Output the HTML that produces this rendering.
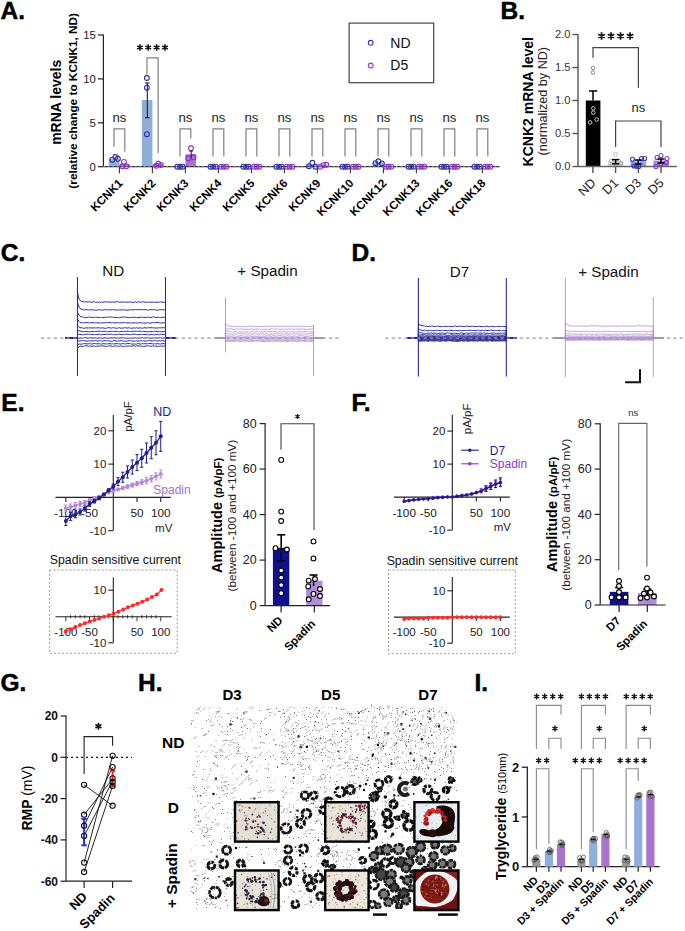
<!DOCTYPE html>
<html><head><meta charset="utf-8"><style>
html,body{margin:0;padding:0;background:#fff;overflow:hidden;}
svg{display:block;font-family:"Liberation Sans", sans-serif;}
</style></head><body>
<svg width="685" height="931" viewBox="0 0 685 931">
<rect width="685" height="931" fill="#fff"/>
<text x="0.50" y="18.80" font-size="24.5" font-weight="bold" text-anchor="start" fill="#000" stroke="#000" stroke-width="0.5">A.</text>
<line x1="103.40" y1="34.50" x2="103.40" y2="166.70" stroke="#222" stroke-width="1.2"/>
<line x1="97.90" y1="166.70" x2="103.40" y2="166.70" stroke="#222" stroke-width="1.2"/>
<text x="95.90" y="170.70" font-size="11.3" text-anchor="end" fill="#222">0</text>
<line x1="97.90" y1="122.80" x2="103.40" y2="122.80" stroke="#222" stroke-width="1.2"/>
<text x="95.90" y="126.80" font-size="11.3" text-anchor="end" fill="#222">5</text>
<line x1="97.90" y1="78.90" x2="103.40" y2="78.90" stroke="#222" stroke-width="1.2"/>
<text x="95.90" y="82.90" font-size="11.3" text-anchor="end" fill="#222">10</text>
<line x1="97.90" y1="35.00" x2="103.40" y2="35.00" stroke="#222" stroke-width="1.2"/>
<text x="95.90" y="39.00" font-size="11.3" text-anchor="end" fill="#222">15</text>
<text x="61.40" y="102.30" font-size="14" font-weight="bold" text-anchor="middle" fill="#000" transform="rotate(-90 61.40 102.30)">mRNA levels</text>
<text x="76.70" y="100.80" font-size="11.8" font-weight="bold" text-anchor="middle" fill="#000" transform="rotate(-90 76.70 100.80)">(relative change to KCNK1, ND)</text>
<rect x="349.10" y="23.10" width="84.60" height="59.60" fill="none" stroke="#444" stroke-width="1.2"/>
<circle cx="370.70" cy="42.80" r="2.4" stroke="#3636b0" fill="none" stroke-width="1.1"/>
<circle cx="370.70" cy="65.50" r="2.4" stroke="#9a3ccc" fill="none" stroke-width="1.1"/>
<text x="390.30" y="47.70" font-size="14" text-anchor="start" fill="#111">ND</text>
<text x="390.30" y="70.40" font-size="14" text-anchor="start" fill="#111">D5</text>
<rect x="108.80" y="158.80" width="10.60" height="7.90" fill="#8eb0d8"/>
<rect x="119.40" y="164.50" width="10.60" height="2.19" fill="#a774cc"/>
<rect x="141.80" y="99.97" width="10.60" height="66.73" fill="#8eb0d8"/>
<rect x="152.40" y="164.07" width="10.60" height="2.63" fill="#a774cc"/>
<rect x="185.40" y="154.23" width="10.60" height="12.47" fill="#a774cc"/>
<rect x="306.80" y="164.94" width="10.60" height="1.76" fill="#8eb0d8"/>
<rect x="317.40" y="165.38" width="10.60" height="1.32" fill="#a774cc"/>
<rect x="372.80" y="162.31" width="10.60" height="4.39" fill="#8eb0d8"/>
<line x1="103.40" y1="166.70" x2="499.60" y2="166.70" stroke="#333" stroke-width="1.3"/>
<line x1="103.40" y1="166.70" x2="499.60" y2="166.70" stroke="#bbb" stroke-width="0.8" stroke-dasharray="1.5,3"/>
<line x1="119.40" y1="166.70" x2="119.40" y2="173.20" stroke="#333" stroke-width="1.1"/>
<text x="123.40" y="184.00" font-size="11.6" font-weight="bold" text-anchor="end" fill="#000" transform="rotate(-45 123.40 184.00)">KCNK1</text>
<circle cx="112.40" cy="159.68" r="2.4" stroke="#3030a8" fill="none" stroke-width="1.1"/>
<circle cx="115.40" cy="157.04" r="2.4" stroke="#3030a8" fill="none" stroke-width="1.1"/>
<circle cx="117.90" cy="158.80" r="2.4" stroke="#3030a8" fill="none" stroke-width="1.1"/>
<circle cx="122.40" cy="166.26" r="2.4" stroke="#9030c8" fill="none" stroke-width="1.1"/>
<circle cx="123.90" cy="161.87" r="2.4" stroke="#9030c8" fill="none" stroke-width="1.1"/>
<circle cx="126.40" cy="166.26" r="2.4" stroke="#9030c8" fill="none" stroke-width="1.1"/>
<polyline points="114.00,146.70 114.00,128.90 124.80,128.90 124.80,151.80" stroke="#808080" stroke-width="1.2" fill="none"/>
<text x="119.40" y="121.80" font-size="13.2" text-anchor="middle" fill="#222">ns</text>
<line x1="152.40" y1="166.70" x2="152.40" y2="173.20" stroke="#333" stroke-width="1.1"/>
<text x="156.40" y="184.00" font-size="11.6" font-weight="bold" text-anchor="end" fill="#000" transform="rotate(-45 156.40 184.00)">KCNK2</text>
<circle cx="146.90" cy="78.02" r="2.4" stroke="#3030a8" fill="none" stroke-width="1.1"/>
<circle cx="146.90" cy="87.68" r="2.4" stroke="#3030a8" fill="none" stroke-width="1.1"/>
<circle cx="146.90" cy="134.21" r="2.4" stroke="#3030a8" fill="none" stroke-width="1.1"/>
<circle cx="156.40" cy="165.82" r="2.4" stroke="#9030c8" fill="none" stroke-width="1.1"/>
<circle cx="158.40" cy="163.63" r="2.4" stroke="#9030c8" fill="none" stroke-width="1.1"/>
<circle cx="160.90" cy="164.94" r="2.4" stroke="#9030c8" fill="none" stroke-width="1.1"/>
<polyline points="147.00,74.80 147.00,57.80 158.10,57.80 158.10,153.00" stroke="#808080" stroke-width="1.2" fill="none"/>
<line x1="185.40" y1="166.70" x2="185.40" y2="173.20" stroke="#333" stroke-width="1.1"/>
<text x="189.40" y="184.00" font-size="11.6" font-weight="bold" text-anchor="end" fill="#000" transform="rotate(-45 189.40 184.00)">KCNK3</text>
<circle cx="177.40" cy="166.70" r="2.4" stroke="#3030a8" fill="none" stroke-width="1.1"/>
<circle cx="180.10" cy="166.70" r="2.4" stroke="#3030a8" fill="none" stroke-width="1.1"/>
<circle cx="182.80" cy="166.70" r="2.4" stroke="#3030a8" fill="none" stroke-width="1.1"/>
<circle cx="191.00" cy="148.26" r="2.4" stroke="#9030c8" fill="none" stroke-width="1.1"/>
<circle cx="188.40" cy="158.18" r="2.4" stroke="#9030c8" fill="none" stroke-width="1.1"/>
<circle cx="193.60" cy="157.31" r="2.4" stroke="#9030c8" fill="none" stroke-width="1.1"/>
<polyline points="180.00,156.40 180.00,128.90 190.80,128.90 190.80,138.50" stroke="#808080" stroke-width="1.2" fill="none"/>
<text x="185.40" y="121.80" font-size="13.2" text-anchor="middle" fill="#222">ns</text>
<line x1="218.40" y1="166.70" x2="218.40" y2="173.20" stroke="#333" stroke-width="1.1"/>
<text x="222.40" y="184.00" font-size="11.6" font-weight="bold" text-anchor="end" fill="#000" transform="rotate(-45 222.40 184.00)">KCNK4</text>
<circle cx="210.40" cy="166.70" r="2.4" stroke="#3030a8" fill="none" stroke-width="1.1"/>
<circle cx="213.10" cy="166.70" r="2.4" stroke="#3030a8" fill="none" stroke-width="1.1"/>
<circle cx="215.80" cy="166.70" r="2.4" stroke="#3030a8" fill="none" stroke-width="1.1"/>
<circle cx="221.00" cy="166.70" r="2.4" stroke="#9030c8" fill="none" stroke-width="1.1"/>
<circle cx="223.70" cy="166.70" r="2.4" stroke="#9030c8" fill="none" stroke-width="1.1"/>
<circle cx="226.40" cy="166.70" r="2.4" stroke="#9030c8" fill="none" stroke-width="1.1"/>
<polyline points="213.00,156.40 213.00,128.90 223.80,128.90 223.80,156.40" stroke="#808080" stroke-width="1.2" fill="none"/>
<text x="218.40" y="121.80" font-size="13.2" text-anchor="middle" fill="#222">ns</text>
<line x1="251.40" y1="166.70" x2="251.40" y2="173.20" stroke="#333" stroke-width="1.1"/>
<text x="255.40" y="184.00" font-size="11.6" font-weight="bold" text-anchor="end" fill="#000" transform="rotate(-45 255.40 184.00)">KCNK5</text>
<circle cx="243.40" cy="166.70" r="2.4" stroke="#3030a8" fill="none" stroke-width="1.1"/>
<circle cx="246.10" cy="166.70" r="2.4" stroke="#3030a8" fill="none" stroke-width="1.1"/>
<circle cx="248.80" cy="166.70" r="2.4" stroke="#3030a8" fill="none" stroke-width="1.1"/>
<circle cx="254.00" cy="166.70" r="2.4" stroke="#9030c8" fill="none" stroke-width="1.1"/>
<circle cx="256.70" cy="166.70" r="2.4" stroke="#9030c8" fill="none" stroke-width="1.1"/>
<circle cx="259.40" cy="166.70" r="2.4" stroke="#9030c8" fill="none" stroke-width="1.1"/>
<polyline points="246.00,156.40 246.00,128.90 256.80,128.90 256.80,156.40" stroke="#808080" stroke-width="1.2" fill="none"/>
<text x="251.40" y="121.80" font-size="13.2" text-anchor="middle" fill="#222">ns</text>
<line x1="284.40" y1="166.70" x2="284.40" y2="173.20" stroke="#333" stroke-width="1.1"/>
<text x="288.40" y="184.00" font-size="11.6" font-weight="bold" text-anchor="end" fill="#000" transform="rotate(-45 288.40 184.00)">KCNK6</text>
<circle cx="276.40" cy="166.70" r="2.4" stroke="#3030a8" fill="none" stroke-width="1.1"/>
<circle cx="279.10" cy="166.70" r="2.4" stroke="#3030a8" fill="none" stroke-width="1.1"/>
<circle cx="281.80" cy="166.70" r="2.4" stroke="#3030a8" fill="none" stroke-width="1.1"/>
<circle cx="287.00" cy="166.70" r="2.4" stroke="#9030c8" fill="none" stroke-width="1.1"/>
<circle cx="289.70" cy="166.70" r="2.4" stroke="#9030c8" fill="none" stroke-width="1.1"/>
<circle cx="292.40" cy="166.70" r="2.4" stroke="#9030c8" fill="none" stroke-width="1.1"/>
<polyline points="279.00,156.40 279.00,128.90 289.80,128.90 289.80,156.40" stroke="#808080" stroke-width="1.2" fill="none"/>
<text x="284.40" y="121.80" font-size="13.2" text-anchor="middle" fill="#222">ns</text>
<line x1="317.40" y1="166.70" x2="317.40" y2="173.20" stroke="#333" stroke-width="1.1"/>
<text x="321.40" y="184.00" font-size="11.6" font-weight="bold" text-anchor="end" fill="#000" transform="rotate(-45 321.40 184.00)">KCNK9</text>
<circle cx="308.90" cy="166.26" r="2.4" stroke="#3030a8" fill="none" stroke-width="1.1"/>
<circle cx="312.40" cy="162.75" r="2.4" stroke="#3030a8" fill="none" stroke-width="1.1"/>
<circle cx="315.40" cy="166.70" r="2.4" stroke="#3030a8" fill="none" stroke-width="1.1"/>
<circle cx="320.40" cy="166.70" r="2.4" stroke="#9030c8" fill="none" stroke-width="1.1"/>
<circle cx="323.40" cy="165.12" r="2.4" stroke="#9030c8" fill="none" stroke-width="1.1"/>
<circle cx="326.40" cy="164.77" r="2.4" stroke="#9030c8" fill="none" stroke-width="1.1"/>
<polyline points="312.00,156.40 312.00,128.90 322.80,128.90 322.80,156.40" stroke="#808080" stroke-width="1.2" fill="none"/>
<text x="317.40" y="121.80" font-size="13.2" text-anchor="middle" fill="#222">ns</text>
<line x1="350.40" y1="166.70" x2="350.40" y2="173.20" stroke="#333" stroke-width="1.1"/>
<text x="354.40" y="184.00" font-size="11.6" font-weight="bold" text-anchor="end" fill="#000" transform="rotate(-45 354.40 184.00)">KCNK10</text>
<circle cx="342.40" cy="166.70" r="2.4" stroke="#3030a8" fill="none" stroke-width="1.1"/>
<circle cx="345.10" cy="166.70" r="2.4" stroke="#3030a8" fill="none" stroke-width="1.1"/>
<circle cx="347.80" cy="166.70" r="2.4" stroke="#3030a8" fill="none" stroke-width="1.1"/>
<circle cx="353.00" cy="166.70" r="2.4" stroke="#9030c8" fill="none" stroke-width="1.1"/>
<circle cx="355.70" cy="166.70" r="2.4" stroke="#9030c8" fill="none" stroke-width="1.1"/>
<circle cx="358.40" cy="166.70" r="2.4" stroke="#9030c8" fill="none" stroke-width="1.1"/>
<polyline points="345.00,156.40 345.00,128.90 355.80,128.90 355.80,156.40" stroke="#808080" stroke-width="1.2" fill="none"/>
<text x="350.40" y="121.80" font-size="13.2" text-anchor="middle" fill="#222">ns</text>
<line x1="383.40" y1="166.70" x2="383.40" y2="173.20" stroke="#333" stroke-width="1.1"/>
<text x="387.40" y="184.00" font-size="11.6" font-weight="bold" text-anchor="end" fill="#000" transform="rotate(-45 387.40 184.00)">KCNK12</text>
<circle cx="375.40" cy="163.19" r="2.4" stroke="#3030a8" fill="none" stroke-width="1.1"/>
<circle cx="378.40" cy="161.26" r="2.4" stroke="#3030a8" fill="none" stroke-width="1.1"/>
<circle cx="381.90" cy="163.36" r="2.4" stroke="#3030a8" fill="none" stroke-width="1.1"/>
<circle cx="386.00" cy="166.70" r="2.4" stroke="#9030c8" fill="none" stroke-width="1.1"/>
<circle cx="388.70" cy="166.70" r="2.4" stroke="#9030c8" fill="none" stroke-width="1.1"/>
<circle cx="391.40" cy="166.70" r="2.4" stroke="#9030c8" fill="none" stroke-width="1.1"/>
<polyline points="378.00,156.40 378.00,128.90 388.80,128.90 388.80,156.40" stroke="#808080" stroke-width="1.2" fill="none"/>
<text x="383.40" y="121.80" font-size="13.2" text-anchor="middle" fill="#222">ns</text>
<line x1="416.40" y1="166.70" x2="416.40" y2="173.20" stroke="#333" stroke-width="1.1"/>
<text x="420.40" y="184.00" font-size="11.6" font-weight="bold" text-anchor="end" fill="#000" transform="rotate(-45 420.40 184.00)">KCNK13</text>
<circle cx="408.40" cy="166.70" r="2.4" stroke="#3030a8" fill="none" stroke-width="1.1"/>
<circle cx="411.10" cy="166.70" r="2.4" stroke="#3030a8" fill="none" stroke-width="1.1"/>
<circle cx="413.80" cy="166.70" r="2.4" stroke="#3030a8" fill="none" stroke-width="1.1"/>
<circle cx="419.00" cy="166.70" r="2.4" stroke="#9030c8" fill="none" stroke-width="1.1"/>
<circle cx="421.70" cy="166.70" r="2.4" stroke="#9030c8" fill="none" stroke-width="1.1"/>
<circle cx="424.40" cy="166.70" r="2.4" stroke="#9030c8" fill="none" stroke-width="1.1"/>
<polyline points="411.00,156.40 411.00,128.90 421.80,128.90 421.80,156.40" stroke="#808080" stroke-width="1.2" fill="none"/>
<text x="416.40" y="121.80" font-size="13.2" text-anchor="middle" fill="#222">ns</text>
<line x1="449.40" y1="166.70" x2="449.40" y2="173.20" stroke="#333" stroke-width="1.1"/>
<text x="453.40" y="184.00" font-size="11.6" font-weight="bold" text-anchor="end" fill="#000" transform="rotate(-45 453.40 184.00)">KCNK16</text>
<circle cx="441.40" cy="166.70" r="2.4" stroke="#3030a8" fill="none" stroke-width="1.1"/>
<circle cx="444.10" cy="166.70" r="2.4" stroke="#3030a8" fill="none" stroke-width="1.1"/>
<circle cx="446.80" cy="166.70" r="2.4" stroke="#3030a8" fill="none" stroke-width="1.1"/>
<circle cx="452.00" cy="166.70" r="2.4" stroke="#9030c8" fill="none" stroke-width="1.1"/>
<circle cx="454.70" cy="166.70" r="2.4" stroke="#9030c8" fill="none" stroke-width="1.1"/>
<circle cx="457.40" cy="166.70" r="2.4" stroke="#9030c8" fill="none" stroke-width="1.1"/>
<polyline points="444.00,156.40 444.00,128.90 454.80,128.90 454.80,156.40" stroke="#808080" stroke-width="1.2" fill="none"/>
<text x="449.40" y="121.80" font-size="13.2" text-anchor="middle" fill="#222">ns</text>
<line x1="482.40" y1="166.70" x2="482.40" y2="173.20" stroke="#333" stroke-width="1.1"/>
<text x="486.40" y="184.00" font-size="11.6" font-weight="bold" text-anchor="end" fill="#000" transform="rotate(-45 486.40 184.00)">KCNK18</text>
<circle cx="474.40" cy="166.70" r="2.4" stroke="#3030a8" fill="none" stroke-width="1.1"/>
<circle cx="477.10" cy="166.70" r="2.4" stroke="#3030a8" fill="none" stroke-width="1.1"/>
<circle cx="479.80" cy="166.70" r="2.4" stroke="#3030a8" fill="none" stroke-width="1.1"/>
<circle cx="485.00" cy="166.70" r="2.4" stroke="#9030c8" fill="none" stroke-width="1.1"/>
<circle cx="487.70" cy="166.70" r="2.4" stroke="#9030c8" fill="none" stroke-width="1.1"/>
<circle cx="490.40" cy="166.70" r="2.4" stroke="#9030c8" fill="none" stroke-width="1.1"/>
<polyline points="477.00,156.40 477.00,128.90 487.80,128.90 487.80,156.40" stroke="#808080" stroke-width="1.2" fill="none"/>
<text x="482.40" y="121.80" font-size="13.2" text-anchor="middle" fill="#222">ns</text>
<line x1="147.30" y1="83.00" x2="147.30" y2="117.70" stroke="#222" stroke-width="1.1"/>
<line x1="145.00" y1="83.00" x2="149.60" y2="83.00" stroke="#222" stroke-width="1.1"/>
<line x1="145.00" y1="117.70" x2="149.60" y2="117.70" stroke="#222" stroke-width="1.1"/>
<line x1="191.20" y1="151.20" x2="191.20" y2="157.70" stroke="#222" stroke-width="1"/>
<line x1="189.50" y1="151.20" x2="192.90" y2="151.20" stroke="#222" stroke-width="1"/>
<text x="500.50" y="18.80" font-size="24.5" font-weight="bold" text-anchor="start" fill="#000" stroke="#000" stroke-width="0.5">B.</text>
<line x1="578.00" y1="34.00" x2="578.00" y2="166.50" stroke="#555" stroke-width="1.4"/>
<line x1="572.50" y1="166.50" x2="578.00" y2="166.50" stroke="#555" stroke-width="1.4"/>
<text x="570.50" y="170.40" font-size="11.2" text-anchor="end" fill="#333">0.0</text>
<line x1="572.50" y1="133.50" x2="578.00" y2="133.50" stroke="#555" stroke-width="1.4"/>
<text x="570.50" y="137.40" font-size="11.2" text-anchor="end" fill="#333">0.5</text>
<line x1="572.50" y1="100.50" x2="578.00" y2="100.50" stroke="#555" stroke-width="1.4"/>
<text x="570.50" y="104.40" font-size="11.2" text-anchor="end" fill="#333">1.0</text>
<line x1="572.50" y1="67.50" x2="578.00" y2="67.50" stroke="#555" stroke-width="1.4"/>
<text x="570.50" y="71.40" font-size="11.2" text-anchor="end" fill="#333">1.5</text>
<line x1="572.50" y1="34.50" x2="578.00" y2="34.50" stroke="#555" stroke-width="1.4"/>
<text x="570.50" y="38.40" font-size="11.2" text-anchor="end" fill="#333">2.0</text>
<text x="533.50" y="101.70" font-size="14" font-weight="bold" text-anchor="middle" fill="#000" transform="rotate(-90 533.50 101.70)">KCNK2 mRNA level</text>
<text x="547.50" y="101.20" font-size="12.6" text-anchor="middle" fill="#222" transform="rotate(-90 547.50 101.20)">(normalized by ND)</text>
<rect x="585.80" y="100.50" width="14.60" height="66.00" fill="#000"/>
<rect x="608.40" y="161.22" width="14.80" height="5.28" fill="#c9c9c9"/>
<rect x="630.60" y="161.22" width="15.30" height="5.28" fill="#8f9fe0"/>
<rect x="653.30" y="160.56" width="15.60" height="5.94" fill="#b08ad8"/>
<line x1="578.00" y1="166.50" x2="676.90" y2="166.50" stroke="#666" stroke-width="1.5"/>
<line x1="592.90" y1="166.50" x2="592.90" y2="173.00" stroke="#555" stroke-width="1.4"/>
<text x="596.50" y="183.80" font-size="12.8" text-anchor="end" fill="#222" transform="rotate(-45 596.50 183.80)">ND</text>
<line x1="615.60" y1="166.50" x2="615.60" y2="173.00" stroke="#555" stroke-width="1.4"/>
<text x="619.20" y="183.80" font-size="12.8" text-anchor="end" fill="#222" transform="rotate(-45 619.20 183.80)">D1</text>
<line x1="638.40" y1="166.50" x2="638.40" y2="173.00" stroke="#555" stroke-width="1.4"/>
<text x="642.00" y="183.80" font-size="12.8" text-anchor="end" fill="#222" transform="rotate(-45 642.00 183.80)">D3</text>
<line x1="661.00" y1="166.50" x2="661.00" y2="173.00" stroke="#555" stroke-width="1.4"/>
<text x="664.60" y="183.80" font-size="12.8" text-anchor="end" fill="#222" transform="rotate(-45 664.60 183.80)">D5</text>
<line x1="593.00" y1="91.00" x2="593.00" y2="100.50" stroke="#000" stroke-width="1.5"/>
<line x1="589.00" y1="91.00" x2="597.30" y2="91.00" stroke="#000" stroke-width="1.5"/>
<circle cx="593.00" cy="67.90" r="1.8" stroke="#888" fill="none" stroke-width="1"/>
<circle cx="593.00" cy="72.60" r="1.8" stroke="#888" fill="none" stroke-width="1"/>
<circle cx="593.30" cy="108.40" r="1.8" stroke="#c8c8c8" fill="none" stroke-width="1"/>
<circle cx="593.30" cy="112.60" r="1.8" stroke="#c8c8c8" fill="none" stroke-width="1"/>
<circle cx="590.10" cy="122.40" r="1.8" stroke="#c8c8c8" fill="none" stroke-width="1"/>
<circle cx="596.70" cy="119.50" r="1.8" stroke="#c8c8c8" fill="none" stroke-width="1"/>
<circle cx="615.60" cy="154.30" r="1.8" stroke="#bbb" fill="none" stroke-width="1"/>
<circle cx="611.00" cy="161.00" r="1.8" stroke="#bbb" fill="none" stroke-width="1"/>
<circle cx="614.00" cy="163.00" r="1.8" stroke="#bbb" fill="none" stroke-width="1"/>
<circle cx="619.00" cy="161.00" r="1.8" stroke="#bbb" fill="none" stroke-width="1"/>
<circle cx="621.00" cy="163.00" r="1.8" stroke="#bbb" fill="none" stroke-width="1"/>
<circle cx="612.00" cy="164.00" r="1.8" stroke="#bbb" fill="none" stroke-width="1"/>
<line x1="615.60" y1="159.60" x2="615.60" y2="163.80" stroke="#000" stroke-width="1.5"/>
<line x1="612.00" y1="159.60" x2="619.20" y2="159.60" stroke="#000" stroke-width="1.5"/>
<line x1="612.00" y1="163.80" x2="619.20" y2="163.80" stroke="#000" stroke-width="1.5"/>
<circle cx="632.50" cy="159.30" r="2.0" stroke="#3535b0" fill="none" stroke-width="1.1"/>
<circle cx="644.60" cy="158.50" r="2.0" stroke="#3535b0" fill="none" stroke-width="1.1"/>
<circle cx="641.50" cy="158.50" r="2.0" stroke="#3535b0" fill="none" stroke-width="1.1"/>
<circle cx="636.50" cy="166.20" r="2.0" stroke="#3535b0" fill="none" stroke-width="1.1"/>
<circle cx="638.80" cy="166.50" r="2.0" stroke="#3535b0" fill="none" stroke-width="1.1"/>
<circle cx="634.00" cy="166.00" r="2.0" stroke="#3535b0" fill="none" stroke-width="1.1"/>
<line x1="638.20" y1="160.00" x2="638.20" y2="164.00" stroke="#000" stroke-width="1.5"/>
<line x1="635.00" y1="160.00" x2="641.60" y2="160.00" stroke="#000" stroke-width="1.5"/>
<line x1="635.00" y1="164.00" x2="641.60" y2="164.00" stroke="#000" stroke-width="1.5"/>
<circle cx="656.00" cy="166.50" r="2.0" stroke="#8a3ac0" fill="none" stroke-width="1.1"/>
<circle cx="657.00" cy="157.50" r="2.0" stroke="#8a3ac0" fill="none" stroke-width="1.1"/>
<circle cx="661.00" cy="155.50" r="2.0" stroke="#8a3ac0" fill="none" stroke-width="1.1"/>
<circle cx="667.00" cy="158.50" r="2.0" stroke="#8a3ac0" fill="none" stroke-width="1.1"/>
<circle cx="666.50" cy="162.50" r="2.0" stroke="#8a3ac0" fill="none" stroke-width="1.1"/>
<circle cx="661.00" cy="164.00" r="2.0" stroke="#8a3ac0" fill="none" stroke-width="1.1"/>
<line x1="661.00" y1="159.00" x2="661.00" y2="163.00" stroke="#000" stroke-width="1.5"/>
<line x1="657.50" y1="159.00" x2="664.50" y2="159.00" stroke="#000" stroke-width="1.5"/>
<line x1="657.50" y1="163.00" x2="664.50" y2="163.00" stroke="#000" stroke-width="1.5"/>
<polyline points="593.00,57.70 593.00,47.60 638.40,47.60 638.40,87.70" stroke="#444" stroke-width="1.2" fill="none"/>
<polyline points="615.60,147.00 615.60,121.00 661.00,121.00 661.00,147.00" stroke="#444" stroke-width="1.2" fill="none"/>
<text x="638.30" y="112.40" font-size="13" text-anchor="middle" fill="#222">ns</text>
<text x="0.80" y="260.90" font-size="24.5" font-weight="bold" text-anchor="start" fill="#000" stroke="#000" stroke-width="0.5">C.</text>
<text x="351.50" y="261.10" font-size="24.5" font-weight="bold" text-anchor="start" fill="#000" stroke="#000" stroke-width="0.5">D.</text>
<text x="113.20" y="276.00" font-size="15.2" text-anchor="middle" fill="#111">ND</text>
<text x="267.50" y="276.00" font-size="15.2" text-anchor="middle" fill="#111">+ Spadin</text>
<text x="459.40" y="276.50" font-size="15.2" text-anchor="middle" fill="#111">D7</text>
<text x="608.40" y="276.50" font-size="15.2" text-anchor="middle" fill="#111">+ Spadin</text>
<path d="M65.00,337.99 L77.50,338.10 L77.50,292.86 L78.71,298.18 L79.91,300.00 L81.12,301.32 L82.32,301.64 L83.53,301.63 L84.73,302.03 L85.94,301.74 L87.14,302.04 L88.35,301.79 L89.55,301.81 L90.76,302.05 L91.97,302.33 L93.17,301.84 L94.38,301.91 L95.58,302.19 L96.79,302.41 L97.99,302.15 L99.20,302.03 L100.40,302.43 L101.61,301.78 L102.82,302.35 L104.02,301.95 L105.23,301.85 L106.43,301.83 L107.64,301.97 L108.84,302.32 L110.05,301.88 L111.25,302.16 L112.46,302.20 L113.66,302.01 L114.87,302.13 L116.08,301.79 L117.28,301.79 L118.49,301.89 L119.69,302.23 L120.90,302.05 L122.10,301.97 L123.31,302.16 L124.51,302.07 L125.72,301.96 L126.92,302.31 L128.13,302.24 L129.34,301.92 L130.54,302.15 L131.75,302.12 L132.95,302.36 L134.16,302.26 L135.36,301.95 L136.57,302.44 L137.77,301.83 L138.98,302.04 L140.18,302.28 L141.39,301.86 L142.60,302.09 L143.80,301.78 L145.01,302.22 L146.21,302.29 L147.42,302.15 L148.62,302.36 L149.83,301.97 L151.03,302.24 L152.24,302.17 L153.45,302.16 L154.65,302.07 L155.86,302.34 L157.06,302.41 L158.27,302.08 L159.47,302.21 L160.68,301.79 L161.88,302.24 L163.09,302.20 L164.29,302.45 L165.50,302.33 L165.50,338.10 L175.50,337.97 M65.00,338.03 L77.50,338.10 L77.50,302.97 L78.71,306.41 L79.91,308.46 L81.12,309.04 L82.32,309.35 L83.53,309.46 L84.73,310.03 L85.94,309.62 L87.14,309.71 L88.35,309.82 L89.55,310.16 L90.76,309.61 L91.97,309.86 L93.17,309.93 L94.38,310.17 L95.58,310.12 L96.79,310.15 L97.99,309.74 L99.20,309.84 L100.40,309.80 L101.61,310.17 L102.82,310.22 L104.02,309.66 L105.23,309.67 L106.43,309.71 L107.64,309.71 L108.84,309.89 L110.05,309.96 L111.25,309.73 L112.46,309.55 L113.66,309.84 L114.87,309.81 L116.08,309.95 L117.28,310.22 L118.49,310.03 L119.69,309.91 L120.90,309.98 L122.10,310.02 L123.31,309.59 L124.51,310.18 L125.72,310.10 L126.92,310.16 L128.13,310.11 L129.34,309.82 L130.54,309.83 L131.75,309.62 L132.95,309.99 L134.16,309.59 L135.36,309.60 L136.57,309.70 L137.77,309.66 L138.98,309.79 L140.18,309.59 L141.39,309.55 L142.60,309.66 L143.80,309.62 L145.01,309.80 L146.21,309.57 L147.42,310.16 L148.62,309.98 L149.83,309.65 L151.03,309.73 L152.24,309.79 L153.45,309.80 L154.65,309.64 L155.86,310.14 L157.06,310.25 L158.27,309.88 L159.47,309.89 L160.68,309.61 L161.88,309.62 L163.09,309.79 L164.29,309.74 L165.50,310.13 L165.50,338.10 L175.50,337.90 M65.00,337.81 L77.50,338.10 L77.50,312.42 L78.71,314.99 L79.91,316.01 L81.12,316.86 L82.32,316.76 L83.53,317.23 L84.73,317.59 L85.94,317.54 L87.14,317.43 L88.35,317.13 L89.55,317.21 L90.76,317.07 L91.97,317.49 L93.17,317.32 L94.38,317.50 L95.58,317.18 L96.79,317.11 L97.99,317.52 L99.20,317.64 L100.40,317.55 L101.61,317.51 L102.82,317.52 L104.02,317.47 L105.23,317.11 L106.43,317.31 L107.64,317.20 L108.84,316.97 L110.05,316.97 L111.25,317.15 L112.46,317.13 L113.66,317.43 L114.87,317.62 L116.08,317.26 L117.28,317.61 L118.49,317.64 L119.69,317.62 L120.90,317.21 L122.10,317.10 L123.31,317.11 L124.51,317.09 L125.72,317.09 L126.92,317.39 L128.13,317.58 L129.34,317.54 L130.54,317.29 L131.75,317.41 L132.95,317.51 L134.16,317.01 L135.36,317.41 L136.57,317.59 L137.77,317.50 L138.98,317.48 L140.18,317.28 L141.39,317.07 L142.60,317.50 L143.80,317.18 L145.01,317.51 L146.21,317.63 L147.42,317.23 L148.62,317.23 L149.83,317.61 L151.03,317.46 L152.24,317.07 L153.45,317.04 L154.65,317.06 L155.86,317.58 L157.06,317.51 L158.27,317.05 L159.47,317.53 L160.68,317.64 L161.88,317.41 L163.09,317.20 L164.29,317.33 L165.50,317.04 L165.50,338.10 L175.50,337.81 M65.00,338.38 L77.50,338.10 L77.50,319.08 L78.71,321.11 L79.91,322.34 L81.12,322.41 L82.32,322.91 L83.53,322.96 L84.73,322.57 L85.94,322.61 L87.14,322.65 L88.35,322.62 L89.55,322.86 L90.76,322.63 L91.97,322.74 L93.17,322.54 L94.38,323.09 L95.58,322.70 L96.79,322.77 L97.99,322.86 L99.20,323.08 L100.40,322.74 L101.61,323.09 L102.82,322.80 L104.02,322.82 L105.23,322.82 L106.43,322.46 L107.64,322.76 L108.84,322.58 L110.05,322.45 L111.25,323.01 L112.46,322.57 L113.66,322.78 L114.87,322.96 L116.08,322.84 L117.28,322.68 L118.49,322.81 L119.69,322.84 L120.90,323.00 L122.10,322.52 L123.31,322.84 L124.51,322.62 L125.72,322.64 L126.92,322.99 L128.13,322.81 L129.34,322.84 L130.54,322.98 L131.75,323.09 L132.95,322.76 L134.16,322.88 L135.36,322.80 L136.57,322.81 L137.77,322.93 L138.98,322.77 L140.18,322.82 L141.39,322.78 L142.60,323.11 L143.80,322.94 L145.01,323.06 L146.21,323.11 L147.42,322.63 L148.62,322.84 L149.83,323.11 L151.03,323.04 L152.24,322.55 L153.45,322.54 L154.65,322.76 L155.86,322.50 L157.06,322.62 L158.27,322.50 L159.47,322.92 L160.68,323.00 L161.88,323.08 L163.09,322.56 L164.29,322.95 L165.50,322.91 L165.50,338.10 L175.50,337.89 M65.00,338.33 L77.50,338.10 L77.50,325.80 L78.71,326.67 L79.91,327.81 L81.12,327.70 L82.32,327.89 L83.53,328.30 L84.73,328.21 L85.94,327.75 L87.14,327.95 L88.35,328.01 L89.55,327.89 L90.76,327.79 L91.97,327.87 L93.17,328.16 L94.38,327.66 L95.58,328.04 L96.79,327.96 L97.99,327.66 L99.20,327.88 L100.40,328.09 L101.61,328.01 L102.82,327.70 L104.02,328.34 L105.23,328.20 L106.43,328.33 L107.64,327.72 L108.84,327.84 L110.05,327.68 L111.25,328.20 L112.46,327.84 L113.66,327.74 L114.87,327.95 L116.08,328.29 L117.28,328.22 L118.49,327.83 L119.69,327.75 L120.90,328.29 L122.10,328.05 L123.31,328.14 L124.51,327.71 L125.72,327.69 L126.92,328.13 L128.13,327.95 L129.34,327.70 L130.54,328.31 L131.75,328.09 L132.95,328.21 L134.16,327.71 L135.36,328.25 L136.57,327.70 L137.77,328.25 L138.98,327.97 L140.18,327.89 L141.39,328.04 L142.60,328.30 L143.80,327.84 L145.01,327.74 L146.21,328.02 L147.42,327.82 L148.62,327.73 L149.83,327.76 L151.03,327.69 L152.24,327.79 L153.45,327.87 L154.65,327.86 L155.86,328.18 L157.06,327.85 L158.27,328.00 L159.47,327.77 L160.68,327.89 L161.88,327.66 L163.09,327.83 L164.29,327.66 L165.50,328.16 L165.50,338.10 L175.50,338.13 M65.00,337.91 L77.50,338.10 L77.50,329.83 L78.71,331.07 L79.91,330.89 L81.12,331.58 L82.32,331.39 L83.53,331.47 L84.73,331.72 L85.94,331.42 L87.14,331.50 L88.35,331.63 L89.55,331.84 L90.76,331.39 L91.97,331.73 L93.17,331.64 L94.38,331.60 L95.58,331.43 L96.79,331.39 L97.99,331.19 L99.20,331.24 L100.40,331.20 L101.61,331.67 L102.82,331.33 L104.02,331.26 L105.23,331.21 L106.43,331.74 L107.64,331.76 L108.84,331.62 L110.05,331.35 L111.25,331.32 L112.46,331.36 L113.66,331.47 L114.87,331.26 L116.08,331.46 L117.28,331.33 L118.49,331.82 L119.69,331.83 L120.90,331.53 L122.10,331.32 L123.31,331.83 L124.51,331.37 L125.72,331.40 L126.92,331.15 L128.13,331.42 L129.34,331.48 L130.54,331.50 L131.75,331.29 L132.95,331.50 L134.16,331.15 L135.36,331.33 L136.57,331.21 L137.77,331.43 L138.98,331.18 L140.18,331.17 L141.39,331.36 L142.60,331.31 L143.80,331.56 L145.01,331.52 L146.21,331.68 L147.42,331.61 L148.62,331.65 L149.83,331.77 L151.03,331.42 L152.24,331.38 L153.45,331.84 L154.65,331.25 L155.86,331.66 L157.06,331.60 L158.27,331.18 L159.47,331.73 L160.68,331.77 L161.88,331.59 L163.09,331.66 L164.29,331.72 L165.50,331.25 L165.50,338.10 L175.50,338.11 M65.00,338.10 L77.50,338.10 L77.50,333.83 L78.71,334.31 L79.91,334.55 L81.12,334.48 L82.32,334.74 L83.53,334.61 L84.73,334.63 L85.94,334.31 L87.14,334.17 L88.35,334.24 L89.55,334.40 L90.76,334.22 L91.97,334.74 L93.17,334.54 L94.38,334.59 L95.58,334.59 L96.79,334.63 L97.99,334.49 L99.20,334.15 L100.40,334.71 L101.61,334.67 L102.82,334.50 L104.02,334.52 L105.23,334.61 L106.43,334.20 L107.64,334.67 L108.84,334.33 L110.05,334.20 L111.25,334.34 L112.46,334.66 L113.66,334.29 L114.87,334.67 L116.08,334.83 L117.28,334.50 L118.49,334.42 L119.69,334.49 L120.90,334.63 L122.10,334.69 L123.31,334.58 L124.51,334.60 L125.72,334.20 L126.92,334.25 L128.13,334.33 L129.34,334.67 L130.54,334.36 L131.75,334.55 L132.95,334.16 L134.16,334.19 L135.36,334.34 L136.57,334.62 L137.77,334.63 L138.98,334.62 L140.18,334.35 L141.39,334.51 L142.60,334.48 L143.80,334.48 L145.01,334.23 L146.21,334.78 L147.42,334.29 L148.62,334.83 L149.83,334.81 L151.03,334.16 L152.24,334.47 L153.45,334.72 L154.65,334.83 L155.86,334.46 L157.06,334.34 L158.27,334.30 L159.47,334.81 L160.68,334.30 L161.88,334.56 L163.09,334.25 L164.29,334.52 L165.50,334.82 L165.50,338.10 L175.50,337.88 M65.00,338.29 L77.50,338.10 L77.50,337.98 L78.71,338.26 L79.91,338.14 L81.12,337.81 L82.32,338.28 L83.53,337.99 L84.73,337.67 L85.94,337.65 L87.14,337.99 L88.35,337.97 L89.55,337.86 L90.76,337.75 L91.97,337.89 L93.17,337.87 L94.38,338.24 L95.58,337.65 L96.79,338.18 L97.99,338.24 L99.20,337.73 L100.40,338.30 L101.61,338.15 L102.82,338.28 L104.02,337.85 L105.23,337.91 L106.43,337.93 L107.64,338.35 L108.84,338.06 L110.05,337.90 L111.25,337.95 L112.46,337.84 L113.66,337.68 L114.87,337.72 L116.08,338.23 L117.28,337.85 L118.49,338.30 L119.69,337.82 L120.90,337.84 L122.10,338.01 L123.31,337.78 L124.51,337.91 L125.72,338.32 L126.92,338.27 L128.13,338.22 L129.34,338.09 L130.54,338.29 L131.75,338.31 L132.95,338.03 L134.16,338.15 L135.36,337.68 L136.57,338.16 L137.77,337.97 L138.98,338.18 L140.18,338.10 L141.39,337.85 L142.60,337.68 L143.80,338.30 L145.01,337.74 L146.21,337.98 L147.42,337.89 L148.62,337.86 L149.83,338.17 L151.03,338.33 L152.24,337.83 L153.45,338.11 L154.65,337.86 L155.86,338.04 L157.06,337.93 L158.27,337.77 L159.47,337.76 L160.68,337.80 L161.88,338.28 L163.09,338.00 L164.29,337.80 L165.50,338.28 L165.50,338.10 L175.50,338.40 M65.00,338.07 L77.50,338.10 L77.50,341.35 L78.71,341.00 L79.91,340.75 L81.12,340.85 L82.32,340.64 L83.53,340.73 L84.73,340.74 L85.94,340.95 L87.14,341.17 L88.35,341.08 L89.55,340.84 L90.76,340.84 L91.97,340.92 L93.17,340.81 L94.38,340.79 L95.58,340.59 L96.79,340.74 L97.99,341.23 L99.20,340.64 L100.40,340.90 L101.61,340.99 L102.82,341.15 L104.02,340.70 L105.23,340.74 L106.43,340.72 L107.64,340.83 L108.84,340.86 L110.05,341.22 L111.25,341.14 L112.46,341.16 L113.66,340.57 L114.87,340.57 L116.08,341.05 L117.28,341.18 L118.49,340.88 L119.69,340.96 L120.90,340.55 L122.10,340.82 L123.31,341.20 L124.51,341.13 L125.72,341.15 L126.92,341.23 L128.13,340.72 L129.34,340.63 L130.54,340.66 L131.75,340.92 L132.95,341.03 L134.16,341.21 L135.36,341.06 L136.57,341.00 L137.77,341.09 L138.98,340.87 L140.18,340.94 L141.39,340.58 L142.60,341.10 L143.80,340.71 L145.01,341.19 L146.21,341.00 L147.42,340.76 L148.62,340.64 L149.83,340.73 L151.03,341.00 L152.24,341.04 L153.45,340.63 L154.65,340.60 L155.86,340.92 L157.06,340.96 L158.27,340.82 L159.47,340.71 L160.68,340.97 L161.88,340.56 L163.09,340.76 L164.29,340.87 L165.50,341.22 L165.50,338.10 L175.50,338.19 M65.00,338.33 L77.50,338.10 L77.50,345.21 L78.71,344.25 L79.91,343.91 L81.12,344.25 L82.32,344.00 L83.53,343.69 L84.73,343.48 L85.94,343.80 L87.14,343.92 L88.35,343.75 L89.55,343.63 L90.76,343.92 L91.97,344.10 L93.17,343.61 L94.38,343.47 L95.58,343.69 L96.79,343.74 L97.99,343.93 L99.20,343.59 L100.40,344.01 L101.61,343.97 L102.82,343.80 L104.02,343.59 L105.23,344.13 L106.43,343.67 L107.64,344.02 L108.84,343.61 L110.05,343.61 L111.25,343.98 L112.46,343.66 L113.66,344.12 L114.87,343.80 L116.08,343.58 L117.28,343.61 L118.49,343.74 L119.69,343.92 L120.90,344.11 L122.10,343.55 L123.31,343.73 L124.51,343.60 L125.72,344.13 L126.92,343.55 L128.13,343.49 L129.34,343.49 L130.54,343.73 L131.75,344.08 L132.95,344.07 L134.16,343.96 L135.36,344.15 L136.57,344.10 L137.77,343.68 L138.98,343.58 L140.18,344.11 L141.39,343.97 L142.60,343.47 L143.80,343.92 L145.01,343.72 L146.21,343.71 L147.42,343.68 L148.62,343.57 L149.83,343.45 L151.03,343.65 L152.24,343.70 L153.45,344.12 L154.65,343.54 L155.86,344.12 L157.06,343.60 L158.27,343.70 L159.47,344.03 L160.68,344.03 L161.88,343.75 L163.09,343.48 L164.29,343.78 L165.50,343.71 L165.50,338.10 L175.50,338.35 M65.00,337.92 L77.50,338.10 L77.50,348.00 L78.71,347.27 L79.91,346.17 L81.12,346.22 L82.32,346.40 L83.53,346.32 L84.73,345.79 L85.94,345.78 L87.14,345.80 L88.35,346.40 L89.55,345.93 L90.76,346.27 L91.97,346.38 L93.17,345.99 L94.38,345.94 L95.58,346.42 L96.79,346.18 L97.99,345.93 L99.20,346.25 L100.40,345.97 L101.61,345.94 L102.82,345.75 L104.02,346.28 L105.23,346.39 L106.43,346.19 L107.64,346.41 L108.84,345.77 L110.05,345.91 L111.25,346.08 L112.46,346.42 L113.66,346.42 L114.87,346.02 L116.08,345.93 L117.28,346.05 L118.49,346.10 L119.69,346.40 L120.90,345.88 L122.10,346.31 L123.31,346.27 L124.51,346.33 L125.72,346.29 L126.92,346.18 L128.13,345.98 L129.34,345.97 L130.54,346.00 L131.75,346.30 L132.95,345.81 L134.16,345.89 L135.36,346.28 L136.57,345.92 L137.77,345.80 L138.98,345.77 L140.18,346.14 L141.39,345.98 L142.60,346.44 L143.80,346.37 L145.01,346.44 L146.21,345.94 L147.42,345.81 L148.62,345.82 L149.83,346.10 L151.03,346.25 L152.24,346.06 L153.45,345.91 L154.65,346.04 L155.86,346.18 L157.06,346.22 L158.27,346.27 L159.47,346.34 L160.68,346.22 L161.88,345.83 L163.09,346.34 L164.29,345.96 L165.50,346.15 L165.50,338.10 L175.50,338.02" stroke="#2a2a9c" stroke-width="1.0" fill="none"/>
<line x1="77.50" y1="277.00" x2="77.50" y2="375.90" stroke="#2a2a9c" stroke-width="1.1"/>
<line x1="165.50" y1="277.00" x2="165.50" y2="375.90" stroke="#2a2a9c" stroke-width="1.1"/>
<line x1="65.00" y1="338.10" x2="77.50" y2="338.10" stroke="#2a2a9c" stroke-width="1.1"/>
<line x1="165.50" y1="338.10" x2="175.50" y2="338.10" stroke="#2a2a9c" stroke-width="1.1"/>
<path d="M215.30,338.24 L225.50,338.10 L225.50,323.26 L226.71,325.15 L227.91,325.83 L229.12,326.01 L230.32,326.62 L231.53,326.44 L232.73,326.27 L233.94,326.32 L235.14,326.74 L236.35,326.40 L237.55,326.21 L238.76,326.62 L239.97,326.51 L241.17,326.74 L242.38,326.12 L243.58,326.38 L244.79,326.62 L245.99,326.64 L247.20,326.69 L248.40,326.08 L249.61,326.26 L250.82,326.13 L252.02,326.18 L253.23,326.73 L254.43,326.46 L255.64,326.70 L256.84,326.31 L258.05,326.66 L259.25,326.36 L260.46,326.23 L261.66,326.59 L262.87,326.71 L264.08,326.12 L265.28,326.47 L266.49,326.48 L267.69,326.20 L268.90,326.31 L270.10,326.15 L271.31,326.19 L272.51,326.23 L273.72,326.47 L274.92,326.51 L276.13,326.19 L277.34,326.06 L278.54,326.28 L279.75,326.52 L280.95,326.18 L282.16,326.27 L283.36,326.19 L284.57,326.61 L285.77,326.43 L286.98,326.09 L288.18,326.12 L289.39,326.33 L290.60,326.44 L291.80,326.50 L293.01,326.11 L294.21,326.16 L295.42,326.54 L296.62,326.34 L297.83,326.25 L299.03,326.27 L300.24,326.72 L301.45,326.27 L302.65,326.45 L303.86,326.30 L305.06,326.34 L306.27,326.65 L307.47,326.75 L308.68,326.30 L309.88,326.19 L311.09,326.56 L312.29,326.19 L313.50,326.05 L313.50,338.10 L323.60,338.34 M215.30,338.05 L225.50,338.10 L225.50,327.20 L226.71,328.32 L227.91,329.17 L229.12,329.06 L230.32,328.92 L231.53,328.85 L232.73,329.23 L233.94,329.30 L235.14,329.49 L236.35,328.91 L237.55,329.29 L238.76,329.11 L239.97,329.20 L241.17,328.95 L242.38,329.05 L243.58,329.21 L244.79,329.50 L245.99,328.93 L247.20,329.19 L248.40,329.41 L249.61,329.53 L250.82,328.99 L252.02,328.94 L253.23,329.51 L254.43,329.53 L255.64,329.19 L256.84,328.89 L258.05,329.50 L259.25,329.12 L260.46,329.48 L261.66,329.28 L262.87,329.43 L264.08,328.96 L265.28,329.40 L266.49,329.01 L267.69,329.13 L268.90,329.44 L270.10,329.43 L271.31,328.98 L272.51,329.00 L273.72,329.13 L274.92,329.21 L276.13,329.12 L277.34,328.94 L278.54,329.02 L279.75,329.36 L280.95,329.48 L282.16,328.88 L283.36,329.24 L284.57,329.38 L285.77,328.88 L286.98,329.44 L288.18,328.93 L289.39,329.27 L290.60,329.24 L291.80,329.29 L293.01,329.06 L294.21,329.14 L295.42,329.26 L296.62,329.15 L297.83,329.31 L299.03,329.16 L300.24,329.16 L301.45,328.87 L302.65,329.28 L303.86,329.19 L305.06,329.01 L306.27,329.38 L307.47,329.40 L308.68,329.17 L309.88,328.98 L311.09,329.18 L312.29,328.92 L313.50,328.94 L313.50,338.10 L323.60,338.06 M215.30,337.86 L225.50,338.10 L225.50,330.18 L226.71,331.23 L227.91,331.27 L229.12,331.82 L230.32,331.48 L231.53,331.95 L232.73,331.99 L233.94,331.81 L235.14,331.49 L236.35,331.80 L237.55,331.71 L238.76,332.12 L239.97,331.55 L241.17,332.05 L242.38,332.15 L243.58,331.96 L244.79,332.02 L245.99,331.59 L247.20,332.14 L248.40,331.79 L249.61,332.12 L250.82,332.09 L252.02,331.57 L253.23,332.00 L254.43,332.10 L255.64,331.50 L256.84,331.70 L258.05,331.98 L259.25,331.56 L260.46,332.08 L261.66,331.64 L262.87,332.02 L264.08,331.55 L265.28,331.80 L266.49,332.09 L267.69,331.60 L268.90,331.63 L270.10,331.80 L271.31,331.67 L272.51,331.48 L273.72,331.58 L274.92,331.56 L276.13,332.11 L277.34,331.93 L278.54,332.08 L279.75,331.57 L280.95,332.00 L282.16,331.53 L283.36,331.82 L284.57,331.90 L285.77,331.70 L286.98,332.06 L288.18,331.84 L289.39,331.86 L290.60,332.07 L291.80,331.52 L293.01,332.15 L294.21,331.89 L295.42,331.73 L296.62,332.01 L297.83,331.64 L299.03,332.14 L300.24,331.85 L301.45,331.70 L302.65,331.99 L303.86,331.76 L305.06,331.57 L306.27,331.97 L307.47,331.48 L308.68,332.02 L309.88,331.63 L311.09,331.90 L312.29,332.14 L313.50,331.86 L313.50,338.10 L323.60,338.20 M215.30,337.99 L225.50,338.10 L225.50,332.63 L226.71,333.30 L227.91,333.62 L229.12,334.03 L230.32,333.93 L231.53,334.00 L232.73,334.27 L233.94,333.74 L235.14,333.81 L236.35,334.11 L237.55,333.67 L238.76,333.65 L239.97,333.90 L241.17,333.72 L242.38,333.90 L243.58,333.81 L244.79,334.06 L245.99,334.06 L247.20,333.79 L248.40,334.09 L249.61,333.98 L250.82,333.74 L252.02,334.31 L253.23,333.82 L254.43,333.75 L255.64,333.72 L256.84,334.10 L258.05,334.26 L259.25,334.20 L260.46,333.93 L261.66,333.83 L262.87,333.66 L264.08,334.10 L265.28,334.04 L266.49,333.90 L267.69,334.10 L268.90,333.96 L270.10,334.31 L271.31,334.16 L272.51,333.82 L273.72,334.28 L274.92,333.68 L276.13,334.02 L277.34,333.93 L278.54,333.82 L279.75,333.69 L280.95,334.20 L282.16,333.66 L283.36,334.04 L284.57,334.31 L285.77,333.75 L286.98,333.79 L288.18,334.08 L289.39,334.00 L290.60,334.10 L291.80,334.22 L293.01,333.77 L294.21,333.87 L295.42,333.86 L296.62,333.68 L297.83,334.27 L299.03,334.20 L300.24,334.15 L301.45,333.65 L302.65,334.24 L303.86,334.17 L305.06,333.98 L306.27,334.17 L307.47,333.97 L308.68,333.81 L309.88,333.72 L311.09,333.81 L312.29,333.68 L313.50,333.88 L313.50,338.10 L323.60,338.25 M215.30,338.22 L225.50,338.10 L225.50,335.72 L226.71,335.96 L227.91,335.77 L229.12,336.01 L230.32,335.95 L231.53,336.20 L232.73,336.02 L233.94,335.84 L235.14,336.10 L236.35,336.33 L237.55,335.80 L238.76,336.27 L239.97,335.66 L241.17,335.83 L242.38,335.82 L243.58,336.17 L244.79,336.31 L245.99,336.17 L247.20,335.88 L248.40,336.27 L249.61,335.88 L250.82,335.82 L252.02,336.29 L253.23,336.09 L254.43,336.13 L255.64,336.12 L256.84,336.34 L258.05,335.98 L259.25,336.24 L260.46,336.14 L261.66,336.25 L262.87,335.96 L264.08,336.16 L265.28,336.05 L266.49,335.87 L267.69,335.80 L268.90,336.09 L270.10,335.70 L271.31,336.29 L272.51,335.75 L273.72,335.67 L274.92,335.72 L276.13,336.30 L277.34,335.89 L278.54,335.75 L279.75,335.67 L280.95,335.68 L282.16,336.13 L283.36,336.09 L284.57,336.14 L285.77,336.17 L286.98,335.70 L288.18,336.06 L289.39,335.90 L290.60,336.22 L291.80,336.22 L293.01,336.27 L294.21,335.70 L295.42,336.26 L296.62,336.29 L297.83,336.31 L299.03,335.72 L300.24,335.79 L301.45,335.73 L302.65,335.67 L303.86,336.24 L305.06,336.22 L306.27,336.09 L307.47,336.23 L308.68,336.09 L309.88,335.85 L311.09,335.72 L312.29,335.72 L313.50,336.18 L313.50,338.10 L323.60,337.92 M215.30,337.99 L225.50,338.10 L225.50,337.05 L226.71,336.89 L227.91,337.10 L229.12,337.14 L230.32,337.45 L231.53,337.21 L232.73,337.17 L233.94,337.62 L235.14,337.30 L236.35,337.55 L237.55,337.38 L238.76,336.97 L239.97,337.24 L241.17,337.26 L242.38,337.49 L243.58,337.19 L244.79,337.44 L245.99,337.33 L247.20,337.10 L248.40,337.55 L249.61,337.01 L250.82,337.52 L252.02,337.07 L253.23,336.95 L254.43,337.09 L255.64,337.48 L256.84,337.63 L258.05,336.95 L259.25,337.29 L260.46,337.29 L261.66,337.51 L262.87,337.08 L264.08,337.30 L265.28,337.19 L266.49,337.53 L267.69,337.13 L268.90,337.61 L270.10,337.15 L271.31,337.10 L272.51,337.44 L273.72,337.30 L274.92,337.03 L276.13,337.40 L277.34,337.01 L278.54,337.50 L279.75,337.44 L280.95,337.50 L282.16,337.39 L283.36,337.20 L284.57,337.23 L285.77,337.23 L286.98,337.57 L288.18,337.01 L289.39,337.57 L290.60,336.97 L291.80,337.09 L293.01,337.13 L294.21,337.58 L295.42,337.30 L296.62,337.22 L297.83,337.57 L299.03,337.11 L300.24,337.27 L301.45,337.32 L302.65,337.48 L303.86,337.48 L305.06,337.40 L306.27,337.19 L307.47,337.18 L308.68,337.06 L309.88,337.54 L311.09,337.41 L312.29,337.47 L313.50,337.07 L313.50,338.10 L323.60,338.06 M215.30,338.26 L225.50,338.10 L225.50,338.16 L226.71,337.84 L227.91,338.07 L229.12,338.37 L230.32,337.92 L231.53,337.88 L232.73,337.96 L233.94,338.24 L235.14,338.34 L236.35,337.86 L237.55,337.86 L238.76,337.92 L239.97,337.98 L241.17,338.12 L242.38,337.86 L243.58,337.98 L244.79,337.88 L245.99,338.43 L247.20,338.26 L248.40,337.82 L249.61,338.42 L250.82,337.82 L252.02,338.02 L253.23,338.44 L254.43,338.31 L255.64,338.26 L256.84,338.05 L258.05,337.89 L259.25,338.20 L260.46,337.82 L261.66,337.89 L262.87,338.02 L264.08,337.77 L265.28,338.03 L266.49,338.30 L267.69,338.24 L268.90,338.10 L270.10,338.19 L271.31,338.07 L272.51,337.85 L273.72,338.17 L274.92,338.03 L276.13,338.27 L277.34,338.39 L278.54,338.05 L279.75,338.15 L280.95,338.27 L282.16,338.04 L283.36,337.91 L284.57,338.26 L285.77,338.37 L286.98,338.29 L288.18,338.24 L289.39,338.35 L290.60,338.23 L291.80,338.20 L293.01,338.07 L294.21,337.97 L295.42,338.19 L296.62,337.82 L297.83,338.04 L299.03,338.30 L300.24,338.25 L301.45,338.19 L302.65,337.93 L303.86,338.05 L305.06,338.07 L306.27,338.19 L307.47,338.04 L308.68,338.22 L309.88,338.40 L311.09,337.88 L312.29,338.21 L313.50,338.29 L313.50,338.10 L323.60,338.03 M215.30,338.09 L225.50,338.10 L225.50,339.81 L226.71,338.98 L227.91,339.27 L229.12,338.98 L230.32,339.40 L231.53,339.51 L232.73,339.21 L233.94,338.92 L235.14,339.25 L236.35,339.23 L237.55,339.35 L238.76,339.21 L239.97,339.30 L241.17,339.43 L242.38,339.22 L243.58,339.14 L244.79,339.51 L245.99,339.00 L247.20,339.33 L248.40,339.12 L249.61,339.38 L250.82,338.94 L252.02,339.54 L253.23,339.10 L254.43,338.89 L255.64,339.04 L256.84,339.13 L258.05,338.86 L259.25,339.14 L260.46,339.14 L261.66,339.34 L262.87,339.10 L264.08,339.04 L265.28,339.01 L266.49,339.37 L267.69,339.51 L268.90,339.22 L270.10,339.00 L271.31,339.41 L272.51,339.12 L273.72,339.00 L274.92,338.94 L276.13,339.39 L277.34,339.42 L278.54,339.29 L279.75,339.18 L280.95,339.24 L282.16,339.01 L283.36,339.52 L284.57,339.10 L285.77,339.30 L286.98,339.42 L288.18,339.42 L289.39,339.18 L290.60,339.06 L291.80,339.23 L293.01,338.94 L294.21,339.43 L295.42,339.10 L296.62,339.45 L297.83,339.04 L299.03,339.11 L300.24,339.03 L301.45,339.15 L302.65,338.98 L303.86,338.85 L305.06,339.36 L306.27,339.05 L307.47,339.02 L308.68,339.06 L309.88,339.19 L311.09,339.15 L312.29,339.30 L313.50,339.31 L313.50,338.10 L323.60,338.02 M215.30,338.36 L225.50,338.10 L225.50,341.10 L226.71,340.19 L227.91,340.60 L229.12,340.61 L230.32,340.51 L231.53,340.05 L232.73,340.53 L233.94,340.39 L235.14,339.96 L236.35,339.96 L237.55,340.62 L238.76,340.41 L239.97,340.13 L241.17,340.02 L242.38,340.05 L243.58,340.11 L244.79,340.49 L245.99,340.19 L247.20,340.06 L248.40,340.58 L249.61,340.50 L250.82,340.07 L252.02,340.57 L253.23,340.38 L254.43,340.50 L255.64,340.42 L256.84,340.58 L258.05,340.50 L259.25,340.54 L260.46,340.09 L261.66,340.43 L262.87,340.32 L264.08,340.47 L265.28,340.26 L266.49,340.57 L267.69,340.34 L268.90,340.14 L270.10,340.11 L271.31,340.05 L272.51,340.30 L273.72,339.99 L274.92,340.28 L276.13,340.05 L277.34,340.29 L278.54,340.30 L279.75,340.33 L280.95,340.55 L282.16,339.95 L283.36,340.54 L284.57,340.28 L285.77,340.34 L286.98,340.42 L288.18,340.54 L289.39,340.21 L290.60,340.24 L291.80,340.62 L293.01,340.00 L294.21,340.40 L295.42,340.40 L296.62,339.97 L297.83,340.38 L299.03,340.43 L300.24,340.60 L301.45,340.18 L302.65,340.64 L303.86,340.31 L305.06,340.29 L306.27,340.58 L307.47,339.97 L308.68,340.45 L309.88,340.39 L311.09,340.19 L312.29,340.55 L313.50,340.21 L313.50,338.10 L323.60,338.08 M215.30,338.12 L225.50,338.10 L225.50,342.29 L226.71,341.39 L227.91,341.36 L229.12,341.28 L230.32,341.35 L231.53,341.53 L232.73,341.16 L233.94,341.53 L235.14,341.23 L236.35,341.30 L237.55,341.14 L238.76,341.30 L239.97,341.63 L241.17,341.41 L242.38,341.50 L243.58,341.18 L244.79,341.17 L245.99,341.16 L247.20,341.36 L248.40,341.39 L249.61,341.50 L250.82,340.98 L252.02,341.46 L253.23,341.57 L254.43,341.33 L255.64,340.98 L256.84,341.16 L258.05,340.95 L259.25,341.08 L260.46,341.60 L261.66,341.38 L262.87,341.41 L264.08,341.50 L265.28,341.59 L266.49,341.38 L267.69,341.38 L268.90,341.39 L270.10,341.44 L271.31,341.37 L272.51,341.43 L273.72,341.10 L274.92,341.42 L276.13,341.27 L277.34,341.48 L278.54,341.02 L279.75,341.08 L280.95,340.98 L282.16,341.49 L283.36,341.59 L284.57,341.41 L285.77,341.21 L286.98,341.53 L288.18,341.50 L289.39,341.34 L290.60,341.13 L291.80,341.16 L293.01,341.25 L294.21,341.17 L295.42,341.25 L296.62,341.40 L297.83,341.60 L299.03,340.99 L300.24,341.35 L301.45,340.98 L302.65,341.03 L303.86,341.52 L305.06,341.35 L306.27,341.59 L307.47,341.26 L308.68,340.96 L309.88,341.22 L311.09,341.36 L312.29,341.61 L313.50,341.64 L313.50,338.10 L323.60,338.09" stroke="#b08ad8" stroke-width="0.8" fill="none"/>
<line x1="225.50" y1="297.40" x2="225.50" y2="352.40" stroke="#b08ad8" stroke-width="0.8800000000000001"/>
<line x1="313.50" y1="324.90" x2="313.50" y2="375.70" stroke="#b08ad8" stroke-width="0.8800000000000001"/>
<line x1="215.30" y1="338.10" x2="225.50" y2="338.10" stroke="#b08ad8" stroke-width="1.1"/>
<line x1="313.50" y1="338.10" x2="323.60" y2="338.10" stroke="#b08ad8" stroke-width="1.1"/>
<path d="M407.20,338.05 L418.40,338.10 L418.40,323.20 L419.60,324.90 L420.81,325.32 L422.01,325.68 L423.22,325.80 L424.42,325.91 L425.62,326.45 L426.83,326.09 L428.03,326.70 L429.24,326.10 L430.44,326.65 L431.65,326.14 L432.85,326.06 L434.05,326.55 L435.26,326.22 L436.46,326.56 L437.67,326.18 L438.87,326.08 L440.07,326.59 L441.28,326.55 L442.48,326.65 L443.69,326.56 L444.89,326.11 L446.09,326.49 L447.30,326.55 L448.50,326.37 L449.71,326.70 L450.91,326.23 L452.12,326.73 L453.32,326.55 L454.52,326.06 L455.73,326.06 L456.93,326.51 L458.14,326.62 L459.34,326.11 L460.54,326.27 L461.75,326.56 L462.95,326.17 L464.16,326.65 L465.36,326.39 L466.56,326.09 L467.77,326.31 L468.97,326.45 L470.18,326.36 L471.38,326.52 L472.58,326.15 L473.79,326.61 L474.99,326.30 L476.20,326.50 L477.40,326.49 L478.61,326.34 L479.81,326.32 L481.01,326.60 L482.22,326.71 L483.42,326.60 L484.63,326.45 L485.83,326.25 L487.03,326.09 L488.24,326.73 L489.44,326.54 L490.65,326.63 L491.85,326.28 L493.05,326.47 L494.26,326.73 L495.46,326.63 L496.67,326.47 L497.87,326.27 L499.08,326.35 L500.28,326.67 L501.48,326.31 L502.69,326.53 L503.89,326.47 L505.10,326.68 L506.30,326.62 L506.30,338.10 L516.50,337.97 M407.20,337.80 L418.40,338.10 L418.40,328.43 L419.60,329.41 L420.81,329.99 L422.01,330.41 L423.22,330.60 L424.42,330.09 L425.62,330.68 L426.83,330.69 L428.03,330.74 L429.24,330.54 L430.44,330.34 L431.65,330.74 L432.85,330.71 L434.05,330.63 L435.26,330.79 L436.46,330.39 L437.67,330.21 L438.87,330.54 L440.07,330.71 L441.28,330.29 L442.48,330.68 L443.69,330.80 L444.89,330.31 L446.09,330.57 L447.30,330.62 L448.50,330.48 L449.71,330.29 L450.91,330.33 L452.12,330.68 L453.32,330.70 L454.52,330.47 L455.73,330.21 L456.93,330.71 L458.14,330.69 L459.34,330.31 L460.54,330.56 L461.75,330.78 L462.95,330.77 L464.16,330.52 L465.36,330.48 L466.56,330.56 L467.77,330.28 L468.97,330.28 L470.18,330.28 L471.38,330.64 L472.58,330.40 L473.79,330.55 L474.99,330.43 L476.20,330.51 L477.40,330.25 L478.61,330.18 L479.81,330.85 L481.01,330.41 L482.22,330.22 L483.42,330.59 L484.63,330.70 L485.83,330.26 L487.03,330.57 L488.24,330.39 L489.44,330.51 L490.65,330.16 L491.85,330.17 L493.05,330.84 L494.26,330.76 L495.46,330.49 L496.67,330.55 L497.87,330.33 L499.08,330.70 L500.28,330.45 L501.48,330.81 L502.69,330.69 L503.89,330.72 L505.10,330.82 L506.30,330.33 L506.30,338.10 L516.50,337.82 M407.20,337.92 L418.40,338.10 L418.40,331.75 L419.60,332.24 L420.81,332.52 L422.01,333.04 L423.22,333.35 L424.42,333.11 L425.62,333.48 L426.83,333.47 L428.03,332.89 L429.24,333.26 L430.44,333.13 L431.65,332.93 L432.85,333.52 L434.05,333.03 L435.26,333.24 L436.46,333.30 L437.67,333.52 L438.87,333.32 L440.07,333.13 L441.28,333.16 L442.48,332.96 L443.69,333.53 L444.89,333.54 L446.09,333.01 L447.30,332.88 L448.50,333.03 L449.71,333.10 L450.91,333.48 L452.12,333.48 L453.32,333.44 L454.52,332.88 L455.73,333.40 L456.93,333.35 L458.14,333.30 L459.34,333.54 L460.54,332.89 L461.75,332.95 L462.95,333.38 L464.16,333.51 L465.36,333.32 L466.56,333.06 L467.77,333.26 L468.97,333.38 L470.18,332.92 L471.38,333.08 L472.58,333.03 L473.79,332.94 L474.99,333.19 L476.20,332.97 L477.40,333.02 L478.61,332.95 L479.81,333.32 L481.01,332.86 L482.22,333.35 L483.42,332.99 L484.63,332.88 L485.83,333.50 L487.03,333.00 L488.24,333.50 L489.44,333.46 L490.65,333.47 L491.85,332.95 L493.05,333.16 L494.26,332.92 L495.46,333.50 L496.67,333.44 L497.87,333.29 L499.08,333.17 L500.28,333.09 L501.48,333.43 L502.69,333.18 L503.89,333.29 L505.10,332.95 L506.30,333.01 L506.30,338.10 L516.50,337.83 M407.20,338.23 L418.40,338.10 L418.40,334.26 L419.60,334.33 L420.81,335.03 L422.01,334.71 L423.22,334.87 L424.42,334.72 L425.62,334.82 L426.83,335.23 L428.03,334.88 L429.24,334.76 L430.44,334.99 L431.65,334.87 L432.85,335.28 L434.05,334.73 L435.26,335.33 L436.46,334.69 L437.67,335.28 L438.87,335.12 L440.07,334.80 L441.28,334.98 L442.48,334.85 L443.69,334.83 L444.89,334.79 L446.09,334.90 L447.30,335.34 L448.50,335.35 L449.71,335.30 L450.91,334.72 L452.12,334.85 L453.32,335.28 L454.52,334.69 L455.73,335.16 L456.93,334.86 L458.14,335.34 L459.34,334.66 L460.54,335.21 L461.75,334.89 L462.95,334.75 L464.16,334.65 L465.36,335.23 L466.56,335.02 L467.77,334.78 L468.97,334.95 L470.18,335.29 L471.38,334.80 L472.58,335.05 L473.79,334.75 L474.99,334.78 L476.20,335.19 L477.40,335.15 L478.61,334.79 L479.81,334.71 L481.01,334.71 L482.22,335.08 L483.42,335.00 L484.63,334.84 L485.83,334.79 L487.03,335.08 L488.24,335.15 L489.44,335.22 L490.65,335.06 L491.85,334.79 L493.05,334.70 L494.26,335.16 L495.46,334.94 L496.67,335.16 L497.87,334.69 L499.08,335.22 L500.28,334.88 L501.48,335.24 L502.69,335.26 L503.89,335.00 L505.10,334.66 L506.30,335.29 L506.30,338.10 L516.50,338.09 M407.20,338.32 L418.40,338.10 L418.40,335.56 L419.60,335.72 L420.81,336.29 L422.01,336.03 L423.22,335.92 L424.42,336.09 L425.62,336.25 L426.83,335.85 L428.03,336.21 L429.24,336.16 L430.44,336.21 L431.65,335.93 L432.85,336.35 L434.05,336.42 L435.26,336.46 L436.46,336.07 L437.67,336.35 L438.87,336.12 L440.07,336.38 L441.28,335.89 L442.48,336.46 L443.69,336.52 L444.89,336.20 L446.09,336.21 L447.30,336.22 L448.50,336.23 L449.71,335.86 L450.91,336.53 L452.12,336.01 L453.32,335.98 L454.52,335.92 L455.73,336.03 L456.93,336.42 L458.14,335.87 L459.34,335.92 L460.54,336.34 L461.75,335.99 L462.95,335.86 L464.16,336.27 L465.36,336.25 L466.56,336.22 L467.77,336.34 L468.97,335.92 L470.18,336.46 L471.38,336.35 L472.58,335.88 L473.79,335.94 L474.99,336.20 L476.20,336.20 L477.40,336.05 L478.61,335.94 L479.81,336.13 L481.01,335.95 L482.22,336.26 L483.42,336.45 L484.63,335.95 L485.83,336.25 L487.03,336.37 L488.24,335.97 L489.44,336.43 L490.65,336.51 L491.85,336.12 L493.05,336.14 L494.26,336.44 L495.46,336.22 L496.67,336.13 L497.87,336.51 L499.08,336.39 L500.28,336.09 L501.48,336.02 L502.69,336.08 L503.89,336.15 L505.10,336.54 L506.30,336.41 L506.30,338.10 L516.50,338.35 M407.20,338.29 L418.40,338.10 L418.40,336.97 L419.60,336.54 L420.81,336.93 L422.01,337.28 L423.22,337.28 L424.42,336.81 L425.62,336.94 L426.83,337.09 L428.03,336.90 L429.24,337.02 L430.44,336.70 L431.65,336.95 L432.85,337.00 L434.05,336.66 L435.26,336.75 L436.46,337.33 L437.67,337.19 L438.87,337.31 L440.07,337.09 L441.28,337.22 L442.48,337.27 L443.69,337.27 L444.89,336.67 L446.09,337.10 L447.30,336.84 L448.50,337.12 L449.71,336.84 L450.91,337.03 L452.12,337.30 L453.32,337.08 L454.52,336.83 L455.73,337.01 L456.93,336.95 L458.14,337.32 L459.34,336.85 L460.54,336.86 L461.75,337.10 L462.95,336.73 L464.16,337.07 L465.36,337.32 L466.56,337.01 L467.77,336.84 L468.97,336.98 L470.18,337.02 L471.38,336.75 L472.58,336.74 L473.79,336.74 L474.99,336.86 L476.20,336.93 L477.40,336.85 L478.61,336.82 L479.81,336.71 L481.01,337.03 L482.22,337.24 L483.42,337.08 L484.63,337.05 L485.83,337.11 L487.03,336.79 L488.24,337.15 L489.44,336.97 L490.65,337.03 L491.85,337.08 L493.05,336.98 L494.26,336.87 L495.46,336.82 L496.67,336.81 L497.87,337.01 L499.08,336.92 L500.28,337.06 L501.48,336.66 L502.69,336.90 L503.89,337.25 L505.10,336.82 L506.30,337.04 L506.30,338.10 L516.50,338.09 M407.20,337.97 L418.40,338.10 L418.40,337.82 L419.60,337.39 L420.81,337.75 L422.01,337.34 L423.22,337.29 L424.42,337.85 L425.62,337.55 L426.83,337.29 L428.03,337.52 L429.24,337.56 L430.44,337.76 L431.65,337.33 L432.85,337.41 L434.05,337.92 L435.26,337.77 L436.46,337.36 L437.67,337.49 L438.87,337.50 L440.07,337.72 L441.28,337.68 L442.48,337.84 L443.69,337.82 L444.89,337.61 L446.09,337.77 L447.30,337.77 L448.50,337.78 L449.71,337.58 L450.91,337.80 L452.12,337.75 L453.32,337.89 L454.52,337.34 L455.73,337.86 L456.93,337.25 L458.14,337.79 L459.34,337.66 L460.54,337.60 L461.75,337.92 L462.95,337.65 L464.16,337.54 L465.36,337.80 L466.56,337.86 L467.77,337.68 L468.97,337.52 L470.18,337.57 L471.38,337.57 L472.58,337.76 L473.79,337.46 L474.99,337.52 L476.20,337.64 L477.40,337.52 L478.61,337.48 L479.81,337.80 L481.01,337.84 L482.22,337.60 L483.42,337.56 L484.63,337.38 L485.83,337.46 L487.03,337.35 L488.24,337.65 L489.44,337.66 L490.65,337.31 L491.85,337.89 L493.05,337.48 L494.26,337.84 L495.46,337.84 L496.67,337.92 L497.87,337.39 L499.08,337.55 L500.28,337.89 L501.48,337.26 L502.69,337.28 L503.89,337.65 L505.10,337.60 L506.30,337.89 L506.30,338.10 L516.50,338.26 M407.20,338.12 L418.40,338.10 L418.40,338.45 L419.60,338.11 L420.81,338.11 L422.01,338.23 L423.22,338.02 L424.42,338.00 L425.62,338.17 L426.83,338.00 L428.03,338.41 L429.24,338.22 L430.44,338.12 L431.65,337.82 L432.85,338.01 L434.05,338.03 L435.26,338.14 L436.46,338.15 L437.67,338.37 L438.87,338.43 L440.07,338.09 L441.28,338.06 L442.48,338.19 L443.69,338.45 L444.89,337.99 L446.09,338.12 L447.30,338.32 L448.50,337.87 L449.71,337.97 L450.91,338.43 L452.12,338.33 L453.32,338.11 L454.52,337.83 L455.73,338.38 L456.93,338.23 L458.14,338.32 L459.34,338.44 L460.54,338.37 L461.75,338.04 L462.95,337.86 L464.16,337.95 L465.36,338.11 L466.56,338.10 L467.77,337.88 L468.97,337.88 L470.18,338.19 L471.38,338.17 L472.58,338.00 L473.79,338.45 L474.99,338.20 L476.20,337.78 L477.40,338.04 L478.61,338.30 L479.81,337.96 L481.01,338.23 L482.22,337.75 L483.42,337.96 L484.63,338.34 L485.83,338.16 L487.03,338.22 L488.24,337.89 L489.44,338.10 L490.65,338.14 L491.85,337.94 L493.05,338.20 L494.26,338.12 L495.46,338.45 L496.67,338.15 L497.87,338.04 L499.08,337.84 L500.28,337.86 L501.48,338.28 L502.69,337.82 L503.89,337.82 L505.10,337.87 L506.30,338.12 L506.30,338.10 L516.50,338.29 M407.20,338.17 L418.40,338.10 L418.40,338.94 L419.60,338.36 L420.81,338.30 L422.01,338.81 L423.22,338.49 L424.42,338.76 L425.62,338.50 L426.83,338.37 L428.03,338.44 L429.24,338.32 L430.44,338.88 L431.65,338.66 L432.85,338.49 L434.05,338.56 L435.26,338.52 L436.46,338.29 L437.67,338.87 L438.87,338.66 L440.07,338.92 L441.28,338.56 L442.48,338.68 L443.69,338.42 L444.89,338.28 L446.09,338.90 L447.30,338.85 L448.50,338.47 L449.71,338.88 L450.91,338.82 L452.12,338.46 L453.32,338.67 L454.52,338.92 L455.73,338.60 L456.93,338.91 L458.14,338.42 L459.34,338.52 L460.54,338.75 L461.75,338.40 L462.95,338.47 L464.16,338.86 L465.36,338.59 L466.56,338.80 L467.77,338.42 L468.97,338.37 L470.18,338.50 L471.38,338.38 L472.58,338.93 L473.79,338.45 L474.99,338.64 L476.20,338.33 L477.40,338.62 L478.61,338.52 L479.81,338.53 L481.01,338.30 L482.22,338.34 L483.42,338.83 L484.63,338.50 L485.83,338.42 L487.03,338.38 L488.24,338.45 L489.44,338.42 L490.65,338.27 L491.85,338.71 L493.05,338.49 L494.26,338.36 L495.46,338.74 L496.67,338.31 L497.87,338.44 L499.08,338.83 L500.28,338.34 L501.48,338.56 L502.69,338.84 L503.89,338.81 L505.10,338.36 L506.30,338.50 L506.30,338.10 L516.50,338.23 M407.20,338.03 L418.40,338.10 L418.40,339.80 L419.60,339.15 L420.81,339.60 L422.01,339.25 L423.22,339.03 L424.42,339.18 L425.62,338.95 L426.83,339.35 L428.03,339.03 L429.24,339.48 L430.44,339.26 L431.65,339.11 L432.85,339.02 L434.05,339.28 L435.26,339.00 L436.46,339.46 L437.67,338.94 L438.87,339.21 L440.07,339.23 L441.28,339.04 L442.48,339.39 L443.69,339.12 L444.89,339.31 L446.09,339.25 L447.30,339.07 L448.50,339.12 L449.71,338.91 L450.91,338.97 L452.12,339.45 L453.32,339.07 L454.52,339.31 L455.73,338.93 L456.93,339.24 L458.14,339.10 L459.34,339.20 L460.54,339.06 L461.75,338.90 L462.95,339.07 L464.16,339.01 L465.36,338.94 L466.56,339.35 L467.77,339.05 L468.97,339.13 L470.18,339.49 L471.38,339.39 L472.58,339.47 L473.79,339.45 L474.99,338.94 L476.20,339.04 L477.40,338.87 L478.61,339.33 L479.81,339.31 L481.01,339.10 L482.22,339.14 L483.42,339.31 L484.63,339.34 L485.83,339.02 L487.03,339.44 L488.24,339.10 L489.44,339.29 L490.65,338.98 L491.85,338.93 L493.05,339.49 L494.26,339.36 L495.46,339.35 L496.67,338.88 L497.87,338.88 L499.08,338.96 L500.28,338.99 L501.48,339.06 L502.69,339.12 L503.89,338.88 L505.10,339.07 L506.30,339.30 L506.30,338.10 L516.50,337.91 M407.20,338.30 L418.40,338.10 L418.40,340.27 L419.60,340.18 L420.81,339.76 L422.01,339.82 L423.22,339.97 L424.42,339.72 L425.62,339.46 L426.83,340.04 L428.03,340.00 L429.24,339.65 L430.44,339.48 L431.65,340.05 L432.85,339.88 L434.05,339.48 L435.26,339.62 L436.46,339.53 L437.67,340.00 L438.87,339.60 L440.07,340.09 L441.28,339.97 L442.48,339.51 L443.69,339.94 L444.89,339.73 L446.09,339.97 L447.30,340.03 L448.50,339.65 L449.71,339.51 L450.91,340.11 L452.12,339.75 L453.32,340.10 L454.52,339.93 L455.73,339.97 L456.93,340.03 L458.14,339.89 L459.34,339.77 L460.54,339.49 L461.75,339.94 L462.95,339.75 L464.16,339.81 L465.36,340.10 L466.56,339.54 L467.77,339.98 L468.97,339.48 L470.18,339.94 L471.38,340.01 L472.58,339.63 L473.79,339.83 L474.99,340.13 L476.20,339.90 L477.40,339.83 L478.61,339.62 L479.81,339.49 L481.01,339.70 L482.22,339.74 L483.42,339.59 L484.63,339.67 L485.83,339.55 L487.03,339.94 L488.24,339.92 L489.44,339.62 L490.65,339.62 L491.85,339.81 L493.05,339.76 L494.26,340.11 L495.46,339.70 L496.67,339.66 L497.87,340.07 L499.08,339.55 L500.28,339.84 L501.48,339.68 L502.69,340.02 L503.89,339.83 L505.10,339.98 L506.30,339.57 L506.30,338.10 L516.50,338.20 M407.20,338.16 L418.40,338.10 L418.40,340.95 L419.60,340.90 L420.81,340.80 L422.01,340.22 L423.22,340.30 L424.42,340.33 L425.62,340.21 L426.83,340.10 L428.03,340.25 L429.24,340.19 L430.44,340.54 L431.65,340.36 L432.85,340.13 L434.05,340.28 L435.26,340.38 L436.46,340.30 L437.67,340.17 L438.87,340.10 L440.07,340.06 L441.28,340.74 L442.48,340.58 L443.69,340.11 L444.89,340.55 L446.09,340.74 L447.30,340.44 L448.50,340.13 L449.71,340.39 L450.91,340.35 L452.12,340.18 L453.32,340.43 L454.52,340.06 L455.73,340.69 L456.93,340.50 L458.14,340.49 L459.34,340.70 L460.54,340.51 L461.75,340.23 L462.95,340.22 L464.16,340.15 L465.36,340.07 L466.56,340.59 L467.77,340.64 L468.97,340.26 L470.18,340.18 L471.38,340.50 L472.58,340.64 L473.79,340.70 L474.99,340.17 L476.20,340.60 L477.40,340.63 L478.61,340.57 L479.81,340.28 L481.01,340.18 L482.22,340.63 L483.42,340.27 L484.63,340.31 L485.83,340.44 L487.03,340.31 L488.24,340.63 L489.44,340.22 L490.65,340.08 L491.85,340.45 L493.05,340.49 L494.26,340.62 L495.46,340.54 L496.67,340.68 L497.87,340.71 L499.08,340.40 L500.28,340.40 L501.48,340.16 L502.69,340.26 L503.89,340.46 L505.10,340.11 L506.30,340.53 L506.30,338.10 L516.50,337.90 M407.20,338.07 L418.40,338.10 L418.40,342.05 L419.60,341.11 L420.81,340.90 L422.01,341.08 L423.22,340.85 L424.42,341.19 L425.62,340.67 L426.83,341.25 L428.03,341.25 L429.24,341.20 L430.44,340.95 L431.65,340.85 L432.85,341.11 L434.05,341.01 L435.26,340.95 L436.46,340.89 L437.67,340.96 L438.87,341.12 L440.07,341.23 L441.28,341.28 L442.48,340.77 L443.69,340.86 L444.89,340.96 L446.09,341.04 L447.30,340.89 L448.50,340.79 L449.71,340.71 L450.91,340.88 L452.12,340.97 L453.32,341.33 L454.52,341.29 L455.73,341.26 L456.93,341.33 L458.14,341.32 L459.34,341.08 L460.54,341.22 L461.75,340.69 L462.95,341.12 L464.16,341.08 L465.36,340.86 L466.56,341.05 L467.77,341.32 L468.97,340.99 L470.18,341.10 L471.38,340.86 L472.58,340.89 L473.79,341.27 L474.99,340.67 L476.20,340.78 L477.40,341.13 L478.61,340.96 L479.81,340.71 L481.01,341.11 L482.22,340.91 L483.42,341.06 L484.63,340.94 L485.83,341.02 L487.03,341.05 L488.24,340.93 L489.44,340.73 L490.65,340.78 L491.85,341.27 L493.05,341.03 L494.26,340.73 L495.46,341.25 L496.67,340.83 L497.87,340.72 L499.08,341.02 L500.28,340.83 L501.48,340.99 L502.69,341.04 L503.89,340.81 L505.10,341.05 L506.30,340.73 L506.30,338.10 L516.50,338.11" stroke="#2a2a9c" stroke-width="1.0" fill="none"/>
<line x1="418.40" y1="278.00" x2="418.40" y2="376.50" stroke="#2a2a9c" stroke-width="1.1"/>
<line x1="506.30" y1="278.00" x2="506.30" y2="376.50" stroke="#2a2a9c" stroke-width="1.1"/>
<line x1="407.20" y1="338.10" x2="418.40" y2="338.10" stroke="#2a2a9c" stroke-width="1.1"/>
<line x1="506.30" y1="338.10" x2="516.50" y2="338.10" stroke="#2a2a9c" stroke-width="1.1"/>
<path d="M553.20,338.15 L565.40,338.10 L565.40,322.68 L566.60,324.28 L567.81,324.79 L569.01,325.46 L570.22,325.98 L571.42,325.89 L572.62,326.07 L573.83,326.14 L575.03,325.71 L576.24,326.33 L577.44,326.15 L578.65,325.72 L579.85,326.23 L581.05,325.92 L582.26,325.77 L583.46,326.32 L584.67,326.04 L585.87,326.19 L587.07,325.75 L588.28,326.19 L589.48,325.69 L590.69,325.82 L591.89,325.91 L593.09,325.66 L594.30,326.07 L595.50,325.80 L596.71,325.86 L597.91,326.15 L599.12,325.95 L600.32,326.27 L601.52,326.08 L602.73,326.26 L603.93,326.04 L605.14,326.29 L606.34,326.26 L607.54,325.77 L608.75,326.17 L609.95,325.89 L611.16,326.18 L612.36,326.13 L613.56,326.23 L614.77,325.74 L615.97,325.91 L617.18,326.17 L618.38,326.31 L619.58,326.16 L620.79,325.68 L621.99,326.07 L623.20,325.72 L624.40,326.03 L625.61,326.21 L626.81,325.73 L628.01,326.30 L629.22,326.12 L630.42,325.83 L631.63,325.79 L632.83,325.96 L634.03,326.24 L635.24,326.06 L636.44,325.73 L637.65,325.66 L638.85,325.73 L640.05,326.21 L641.26,325.78 L642.46,326.04 L643.67,325.85 L644.87,326.13 L646.08,325.92 L647.28,325.75 L648.48,326.26 L649.69,326.03 L650.89,326.13 L652.10,326.22 L653.30,326.31 L653.30,338.10 L663.50,337.81 M553.20,338.01 L565.40,338.10 L565.40,329.61 L566.60,330.60 L567.81,331.27 L569.01,331.44 L570.22,331.03 L571.42,331.20 L572.62,331.68 L573.83,331.60 L575.03,331.41 L576.24,331.48 L577.44,331.26 L578.65,331.74 L579.85,331.42 L581.05,331.76 L582.26,331.58 L583.46,331.20 L584.67,331.38 L585.87,331.30 L587.07,331.78 L588.28,331.56 L589.48,331.18 L590.69,331.27 L591.89,331.40 L593.09,331.48 L594.30,331.55 L595.50,331.42 L596.71,331.40 L597.91,331.15 L599.12,331.56 L600.32,331.38 L601.52,331.16 L602.73,331.47 L603.93,331.84 L605.14,331.18 L606.34,331.25 L607.54,331.62 L608.75,331.34 L609.95,331.34 L611.16,331.50 L612.36,331.33 L613.56,331.55 L614.77,331.52 L615.97,331.82 L617.18,331.84 L618.38,331.17 L619.58,331.54 L620.79,331.69 L621.99,331.76 L623.20,331.69 L624.40,331.59 L625.61,331.59 L626.81,331.40 L628.01,331.35 L629.22,331.71 L630.42,331.76 L631.63,331.81 L632.83,331.63 L634.03,331.36 L635.24,331.68 L636.44,331.67 L637.65,331.51 L638.85,331.59 L640.05,331.40 L641.26,331.54 L642.46,331.43 L643.67,331.19 L644.87,331.39 L646.08,331.38 L647.28,331.84 L648.48,331.49 L649.69,331.41 L650.89,331.32 L652.10,331.31 L653.30,331.39 L653.30,338.10 L663.50,337.88 M553.20,337.80 L565.40,338.10 L565.40,333.48 L566.60,333.63 L567.81,333.87 L569.01,334.09 L570.22,333.97 L571.42,333.92 L572.62,333.87 L573.83,334.05 L575.03,334.06 L576.24,334.35 L577.44,334.23 L578.65,334.50 L579.85,334.09 L581.05,334.49 L582.26,334.26 L583.46,333.91 L584.67,333.98 L585.87,334.26 L587.07,334.54 L588.28,334.10 L589.48,334.39 L590.69,334.15 L591.89,334.46 L593.09,333.90 L594.30,334.19 L595.50,334.48 L596.71,334.04 L597.91,334.03 L599.12,333.87 L600.32,333.97 L601.52,334.04 L602.73,334.34 L603.93,334.00 L605.14,334.13 L606.34,333.99 L607.54,334.27 L608.75,334.45 L609.95,334.30 L611.16,333.99 L612.36,334.36 L613.56,334.52 L614.77,334.27 L615.97,333.91 L617.18,334.42 L618.38,334.46 L619.58,334.09 L620.79,333.95 L621.99,333.98 L623.20,334.23 L624.40,334.46 L625.61,334.30 L626.81,334.50 L628.01,334.00 L629.22,334.08 L630.42,334.37 L631.63,334.30 L632.83,334.13 L634.03,334.33 L635.24,334.09 L636.44,333.89 L637.65,334.14 L638.85,333.88 L640.05,334.29 L641.26,334.08 L642.46,334.20 L643.67,334.27 L644.87,334.03 L646.08,334.17 L647.28,333.86 L648.48,334.50 L649.69,334.24 L650.89,334.54 L652.10,333.89 L653.30,334.28 L653.30,338.10 L663.50,338.23 M553.20,338.00 L565.40,338.10 L565.40,335.19 L566.60,335.47 L567.81,335.59 L569.01,336.10 L570.22,335.67 L571.42,336.19 L572.62,335.93 L573.83,336.02 L575.03,336.06 L576.24,336.04 L577.44,336.11 L578.65,336.07 L579.85,335.88 L581.05,336.17 L582.26,335.83 L583.46,336.15 L584.67,336.18 L585.87,336.19 L587.07,335.87 L588.28,336.19 L589.48,336.33 L590.69,335.97 L591.89,335.84 L593.09,336.02 L594.30,336.31 L595.50,335.74 L596.71,335.66 L597.91,335.98 L599.12,336.11 L600.32,336.19 L601.52,335.90 L602.73,336.34 L603.93,335.81 L605.14,336.18 L606.34,335.71 L607.54,335.67 L608.75,335.74 L609.95,335.69 L611.16,336.00 L612.36,336.04 L613.56,335.78 L614.77,336.31 L615.97,335.91 L617.18,335.75 L618.38,335.77 L619.58,336.17 L620.79,336.30 L621.99,335.76 L623.20,335.67 L624.40,336.19 L625.61,335.82 L626.81,336.34 L628.01,336.00 L629.22,336.10 L630.42,335.89 L631.63,336.21 L632.83,335.97 L634.03,335.88 L635.24,336.28 L636.44,335.73 L637.65,336.16 L638.85,335.70 L640.05,336.10 L641.26,335.93 L642.46,336.25 L643.67,335.69 L644.87,336.04 L646.08,335.94 L647.28,336.29 L648.48,336.31 L649.69,336.09 L650.89,335.81 L652.10,335.83 L653.30,335.83 L653.30,338.10 L663.50,338.06 M553.20,337.94 L565.40,338.10 L565.40,336.52 L566.60,337.03 L567.81,337.02 L569.01,336.81 L570.22,337.32 L571.42,336.79 L572.62,337.04 L573.83,336.76 L575.03,337.25 L576.24,337.26 L577.44,336.84 L578.65,337.18 L579.85,337.23 L581.05,336.85 L582.26,336.88 L583.46,336.99 L584.67,337.27 L585.87,336.76 L587.07,337.13 L588.28,337.07 L589.48,336.97 L590.69,337.06 L591.89,337.27 L593.09,336.80 L594.30,337.27 L595.50,336.90 L596.71,337.20 L597.91,337.25 L599.12,336.78 L600.32,337.25 L601.52,337.35 L602.73,336.86 L603.93,336.67 L605.14,336.73 L606.34,337.33 L607.54,336.66 L608.75,337.29 L609.95,336.76 L611.16,337.17 L612.36,336.72 L613.56,336.77 L614.77,337.13 L615.97,336.71 L617.18,336.89 L618.38,337.29 L619.58,337.15 L620.79,337.27 L621.99,337.34 L623.20,336.67 L624.40,336.81 L625.61,337.20 L626.81,337.13 L628.01,336.68 L629.22,337.00 L630.42,336.81 L631.63,336.95 L632.83,336.72 L634.03,336.66 L635.24,337.34 L636.44,336.87 L637.65,337.27 L638.85,336.73 L640.05,336.99 L641.26,336.75 L642.46,336.95 L643.67,336.78 L644.87,337.13 L646.08,336.75 L647.28,337.17 L648.48,337.00 L649.69,336.73 L650.89,336.90 L652.10,337.00 L653.30,337.29 L653.30,338.10 L663.50,338.01 M553.20,337.93 L565.40,338.10 L565.40,337.80 L566.60,337.80 L567.81,337.72 L569.01,337.42 L570.22,337.36 L571.42,337.43 L572.62,337.29 L573.83,337.28 L575.03,337.61 L576.24,337.54 L577.44,337.64 L578.65,337.50 L579.85,337.26 L581.05,337.73 L582.26,337.71 L583.46,337.63 L584.67,337.63 L585.87,337.73 L587.07,337.94 L588.28,337.86 L589.48,337.75 L590.69,337.53 L591.89,337.47 L593.09,337.54 L594.30,337.93 L595.50,337.52 L596.71,337.52 L597.91,337.54 L599.12,337.35 L600.32,337.95 L601.52,337.25 L602.73,337.68 L603.93,337.90 L605.14,337.43 L606.34,337.68 L607.54,337.51 L608.75,337.42 L609.95,337.39 L611.16,337.33 L612.36,337.84 L613.56,337.80 L614.77,337.89 L615.97,337.28 L617.18,337.74 L618.38,337.48 L619.58,337.70 L620.79,337.63 L621.99,337.47 L623.20,337.93 L624.40,337.25 L625.61,337.77 L626.81,337.85 L628.01,337.61 L629.22,337.66 L630.42,337.95 L631.63,337.41 L632.83,337.69 L634.03,337.77 L635.24,337.52 L636.44,337.75 L637.65,337.53 L638.85,337.62 L640.05,337.68 L641.26,337.72 L642.46,337.48 L643.67,337.69 L644.87,337.63 L646.08,337.41 L647.28,337.68 L648.48,337.44 L649.69,337.89 L650.89,337.58 L652.10,337.76 L653.30,337.62 L653.30,338.10 L663.50,338.09 M553.20,337.93 L565.40,338.10 L565.40,337.85 L566.60,338.40 L567.81,338.12 L569.01,338.12 L570.22,338.12 L571.42,338.32 L572.62,337.92 L573.83,337.87 L575.03,338.33 L576.24,338.07 L577.44,338.20 L578.65,338.33 L579.85,338.38 L581.05,338.36 L582.26,337.78 L583.46,338.02 L584.67,338.33 L585.87,338.32 L587.07,337.84 L588.28,337.86 L589.48,337.93 L590.69,337.82 L591.89,338.00 L593.09,338.31 L594.30,338.11 L595.50,338.07 L596.71,337.81 L597.91,338.03 L599.12,338.45 L600.32,338.24 L601.52,338.06 L602.73,338.08 L603.93,338.31 L605.14,338.28 L606.34,337.85 L607.54,338.23 L608.75,338.01 L609.95,338.11 L611.16,337.92 L612.36,338.01 L613.56,337.99 L614.77,338.02 L615.97,337.76 L617.18,337.89 L618.38,338.15 L619.58,337.79 L620.79,337.87 L621.99,338.25 L623.20,337.94 L624.40,337.98 L625.61,337.92 L626.81,338.33 L628.01,337.81 L629.22,338.20 L630.42,338.35 L631.63,337.89 L632.83,338.05 L634.03,338.30 L635.24,338.18 L636.44,338.01 L637.65,337.78 L638.85,338.06 L640.05,338.01 L641.26,338.25 L642.46,337.96 L643.67,338.04 L644.87,338.20 L646.08,338.32 L647.28,338.00 L648.48,338.02 L649.69,338.16 L650.89,338.40 L652.10,337.88 L653.30,338.43 L653.30,338.10 L663.50,338.23 M553.20,338.02 L565.40,338.10 L565.40,338.84 L566.60,338.55 L567.81,338.34 L569.01,338.80 L570.22,338.53 L571.42,338.62 L572.62,338.60 L573.83,338.88 L575.03,338.78 L576.24,338.27 L577.44,338.67 L578.65,338.57 L579.85,338.57 L581.05,338.84 L582.26,338.54 L583.46,338.58 L584.67,338.87 L585.87,338.56 L587.07,338.59 L588.28,338.61 L589.48,338.83 L590.69,338.72 L591.89,338.77 L593.09,338.53 L594.30,338.28 L595.50,338.73 L596.71,338.64 L597.91,338.79 L599.12,338.79 L600.32,338.33 L601.52,338.40 L602.73,338.30 L603.93,338.82 L605.14,338.32 L606.34,338.31 L607.54,338.78 L608.75,338.65 L609.95,338.29 L611.16,338.73 L612.36,338.75 L613.56,338.59 L614.77,338.29 L615.97,338.73 L617.18,338.54 L618.38,338.66 L619.58,338.95 L620.79,338.82 L621.99,338.86 L623.20,338.35 L624.40,338.48 L625.61,338.61 L626.81,338.25 L628.01,338.94 L629.22,338.44 L630.42,338.43 L631.63,338.47 L632.83,338.43 L634.03,338.85 L635.24,338.64 L636.44,338.61 L637.65,338.54 L638.85,338.29 L640.05,338.46 L641.26,338.86 L642.46,338.81 L643.67,338.85 L644.87,338.43 L646.08,338.39 L647.28,338.29 L648.48,338.63 L649.69,338.51 L650.89,338.57 L652.10,338.59 L653.30,338.66 L653.30,338.10 L663.50,338.02 M553.20,338.28 L565.40,338.10 L565.40,339.14 L566.60,339.53 L567.81,339.21 L569.01,338.83 L570.22,338.99 L571.42,339.14 L572.62,339.04 L573.83,339.15 L575.03,338.98 L576.24,338.94 L577.44,339.31 L578.65,338.95 L579.85,339.25 L581.05,339.31 L582.26,339.16 L583.46,339.07 L584.67,339.40 L585.87,339.06 L587.07,339.36 L588.28,338.79 L589.48,339.05 L590.69,339.20 L591.89,338.78 L593.09,339.35 L594.30,338.80 L595.50,339.17 L596.71,338.88 L597.91,339.40 L599.12,339.14 L600.32,339.31 L601.52,339.10 L602.73,339.22 L603.93,339.22 L605.14,338.96 L606.34,338.90 L607.54,339.34 L608.75,338.85 L609.95,339.39 L611.16,338.89 L612.36,338.82 L613.56,338.82 L614.77,339.30 L615.97,339.42 L617.18,339.04 L618.38,339.21 L619.58,338.93 L620.79,339.38 L621.99,339.23 L623.20,338.86 L624.40,338.79 L625.61,339.24 L626.81,338.78 L628.01,339.34 L629.22,338.96 L630.42,338.91 L631.63,339.16 L632.83,338.97 L634.03,339.14 L635.24,338.86 L636.44,339.39 L637.65,338.98 L638.85,339.34 L640.05,338.86 L641.26,339.31 L642.46,339.44 L643.67,339.02 L644.87,338.77 L646.08,339.02 L647.28,339.20 L648.48,338.91 L649.69,339.13 L650.89,338.82 L652.10,339.08 L653.30,339.26 L653.30,338.10 L663.50,338.06 M553.20,338.21 L565.40,338.10 L565.40,339.71 L566.60,340.04 L567.81,339.45 L569.01,339.96 L570.22,339.98 L571.42,339.93 L572.62,339.63 L573.83,339.46 L575.03,339.50 L576.24,339.78 L577.44,339.60 L578.65,339.90 L579.85,339.32 L581.05,339.59 L582.26,339.85 L583.46,339.67 L584.67,339.63 L585.87,339.31 L587.07,339.35 L588.28,339.44 L589.48,339.88 L590.69,339.84 L591.89,339.41 L593.09,339.90 L594.30,339.27 L595.50,339.67 L596.71,339.93 L597.91,339.49 L599.12,339.91 L600.32,339.71 L601.52,339.29 L602.73,339.48 L603.93,339.56 L605.14,339.42 L606.34,339.77 L607.54,339.38 L608.75,339.80 L609.95,339.46 L611.16,339.30 L612.36,339.64 L613.56,339.32 L614.77,339.64 L615.97,339.80 L617.18,339.67 L618.38,339.57 L619.58,339.27 L620.79,339.61 L621.99,339.32 L623.20,339.70 L624.40,339.34 L625.61,339.65 L626.81,339.50 L628.01,339.51 L629.22,339.71 L630.42,339.36 L631.63,339.37 L632.83,339.91 L634.03,339.48 L635.24,339.84 L636.44,339.86 L637.65,339.59 L638.85,339.35 L640.05,339.32 L641.26,339.87 L642.46,339.33 L643.67,339.60 L644.87,339.63 L646.08,339.33 L647.28,339.58 L648.48,339.36 L649.69,339.62 L650.89,339.60 L652.10,339.51 L653.30,339.39 L653.30,338.10 L663.50,338.04 M553.20,337.92 L565.40,338.10 L565.40,340.34 L566.60,340.19 L567.81,340.51 L569.01,340.18 L570.22,340.42 L571.42,339.79 L572.62,340.42 L573.83,340.10 L575.03,340.31 L576.24,340.15 L577.44,340.23 L578.65,339.91 L579.85,340.28 L581.05,339.86 L582.26,339.94 L583.46,339.77 L584.67,340.03 L585.87,340.11 L587.07,339.95 L588.28,340.37 L589.48,339.81 L590.69,340.15 L591.89,339.91 L593.09,340.17 L594.30,340.30 L595.50,340.25 L596.71,339.79 L597.91,339.92 L599.12,340.17 L600.32,340.44 L601.52,339.78 L602.73,340.18 L603.93,340.23 L605.14,340.32 L606.34,339.99 L607.54,340.32 L608.75,340.07 L609.95,340.39 L611.16,339.76 L612.36,340.41 L613.56,340.04 L614.77,340.03 L615.97,339.81 L617.18,339.92 L618.38,340.26 L619.58,340.23 L620.79,339.86 L621.99,339.99 L623.20,339.85 L624.40,339.89 L625.61,339.90 L626.81,339.98 L628.01,340.43 L629.22,340.45 L630.42,340.30 L631.63,340.09 L632.83,340.10 L634.03,340.30 L635.24,340.39 L636.44,340.28 L637.65,340.20 L638.85,339.89 L640.05,340.19 L641.26,340.34 L642.46,340.30 L643.67,339.81 L644.87,340.25 L646.08,339.99 L647.28,339.86 L648.48,340.43 L649.69,340.22 L650.89,340.27 L652.10,339.84 L653.30,340.33 L653.30,338.10 L663.50,338.36" stroke="#b08ad8" stroke-width="0.8" fill="none"/>
<line x1="565.40" y1="278.00" x2="565.40" y2="376.90" stroke="#b08ad8" stroke-width="0.8800000000000001"/>
<line x1="653.30" y1="297.40" x2="653.30" y2="376.90" stroke="#b08ad8" stroke-width="0.8800000000000001"/>
<line x1="553.20" y1="338.10" x2="565.40" y2="338.10" stroke="#b08ad8" stroke-width="1.1"/>
<line x1="653.30" y1="338.10" x2="663.50" y2="338.10" stroke="#b08ad8" stroke-width="1.1"/>
<line x1="41.00" y1="338.10" x2="340.00" y2="338.10" stroke="#9a9a9a" stroke-width="1.1" stroke-dasharray="3.2,3.2"/>
<line x1="385.30" y1="338.10" x2="685.00" y2="338.10" stroke="#9a9a9a" stroke-width="1.1" stroke-dasharray="3.2,3.2"/>
<polyline points="625.10,382.20 640.00,382.20 640.00,369.30" stroke="#111" stroke-width="2" fill="none"/>
<text x="1.30" y="410.70" font-size="24.5" font-weight="bold" text-anchor="start" fill="#000" stroke="#000" stroke-width="0.5">E.</text>
<text x="351.50" y="410.70" font-size="24.5" font-weight="bold" text-anchor="start" fill="#000" stroke="#000" stroke-width="0.5">F.</text>
<text x="0.50" y="690.70" font-size="24.5" font-weight="bold" text-anchor="start" fill="#000" stroke="#000" stroke-width="0.5">G.</text>
<text x="138.00" y="690.70" font-size="24.5" font-weight="bold" text-anchor="start" fill="#000" stroke="#000" stroke-width="0.5">H.</text>
<text x="474.50" y="691.00" font-size="24.5" font-weight="bold" text-anchor="start" fill="#000" stroke="#000" stroke-width="0.5">I.</text>
<line x1="113.30" y1="415.00" x2="113.30" y2="530.40" stroke="#222" stroke-width="1.1"/>
<line x1="108.30" y1="430.80" x2="113.30" y2="430.80" stroke="#222" stroke-width="1.1"/>
<line x1="108.30" y1="464.10" x2="113.30" y2="464.10" stroke="#222" stroke-width="1.1"/>
<line x1="108.30" y1="530.70" x2="113.30" y2="530.70" stroke="#222" stroke-width="1.1"/>
<text x="106.30" y="434.80" font-size="11.5" text-anchor="end" fill="#222">20</text>
<text x="106.30" y="468.10" font-size="11.5" text-anchor="end" fill="#222">10</text>
<text x="106.30" y="534.70" font-size="11.5" text-anchor="end" fill="#222">-10</text>
<line x1="55.50" y1="497.40" x2="170.80" y2="497.40" stroke="#222" stroke-width="1.1"/>
<line x1="65.85" y1="497.40" x2="65.85" y2="501.90" stroke="#222" stroke-width="1.1"/>
<line x1="89.58" y1="497.40" x2="89.58" y2="501.90" stroke="#222" stroke-width="1.1"/>
<line x1="137.03" y1="497.40" x2="137.03" y2="501.90" stroke="#222" stroke-width="1.1"/>
<line x1="160.75" y1="497.40" x2="160.75" y2="501.90" stroke="#222" stroke-width="1.1"/>
<text x="65.85" y="516.80" font-size="11.8" text-anchor="middle" fill="#222">-100</text>
<text x="89.58" y="516.80" font-size="11.8" text-anchor="middle" fill="#222">-50</text>
<text x="137.03" y="516.80" font-size="11.8" text-anchor="middle" fill="#222">50</text>
<text x="160.75" y="516.80" font-size="11.8" text-anchor="middle" fill="#222">100</text>
<text x="172.30" y="531.80" font-size="11.5" text-anchor="end" fill="#222">mV</text>
<text x="132.30" y="416.50" font-size="11.5" text-anchor="middle" fill="#222" transform="rotate(-90 132.30 416.50)">pA/pF</text>
<text x="153.30" y="415.60" font-size="12.5" text-anchor="start" fill="#1e1e8c">ND</text>
<text x="153.30" y="493.90" font-size="12" text-anchor="start" fill="#a070d0">Spadin</text>
<polyline points="65.85,508.47 70.59,507.01 75.34,505.55 80.09,504.09 84.83,502.63 89.58,500.58 94.32,498.54 99.06,496.79 103.81,494.74 108.55,492.41 113.30,490.95 118.05,489.49 122.79,488.03 127.53,486.57 132.28,485.11 137.03,483.65 141.77,482.19 146.51,480.73 151.26,478.69 156.00,476.35 160.75,474.01" stroke="#b48ad8" stroke-width="1.3" fill="none"/>
<line x1="65.85" y1="504.97" x2="65.85" y2="511.97" stroke="#b48ad8" stroke-width="1"/>
<line x1="64.25" y1="504.97" x2="67.45" y2="504.97" stroke="#b48ad8" stroke-width="1"/>
<line x1="64.25" y1="511.97" x2="67.45" y2="511.97" stroke="#b48ad8" stroke-width="1"/>
<circle cx="65.85" cy="508.47" r="2.0" stroke="#b48ad8" fill="#b48ad8" stroke-width="0"/>
<line x1="70.59" y1="504.01" x2="70.59" y2="510.01" stroke="#b48ad8" stroke-width="1"/>
<line x1="69.00" y1="504.01" x2="72.19" y2="504.01" stroke="#b48ad8" stroke-width="1"/>
<line x1="69.00" y1="510.01" x2="72.19" y2="510.01" stroke="#b48ad8" stroke-width="1"/>
<circle cx="70.59" cy="507.01" r="2.0" stroke="#b48ad8" fill="#b48ad8" stroke-width="0"/>
<line x1="75.34" y1="502.55" x2="75.34" y2="508.55" stroke="#b48ad8" stroke-width="1"/>
<line x1="73.74" y1="502.55" x2="76.94" y2="502.55" stroke="#b48ad8" stroke-width="1"/>
<line x1="73.74" y1="508.55" x2="76.94" y2="508.55" stroke="#b48ad8" stroke-width="1"/>
<circle cx="75.34" cy="505.55" r="2.0" stroke="#b48ad8" fill="#b48ad8" stroke-width="0"/>
<line x1="80.09" y1="501.59" x2="80.09" y2="506.59" stroke="#b48ad8" stroke-width="1"/>
<line x1="78.49" y1="501.59" x2="81.69" y2="501.59" stroke="#b48ad8" stroke-width="1"/>
<line x1="78.49" y1="506.59" x2="81.69" y2="506.59" stroke="#b48ad8" stroke-width="1"/>
<circle cx="80.09" cy="504.09" r="2.0" stroke="#b48ad8" fill="#b48ad8" stroke-width="0"/>
<line x1="84.83" y1="500.43" x2="84.83" y2="504.83" stroke="#b48ad8" stroke-width="1"/>
<line x1="83.23" y1="500.43" x2="86.43" y2="500.43" stroke="#b48ad8" stroke-width="1"/>
<line x1="83.23" y1="504.83" x2="86.43" y2="504.83" stroke="#b48ad8" stroke-width="1"/>
<circle cx="84.83" cy="502.63" r="2.0" stroke="#b48ad8" fill="#b48ad8" stroke-width="0"/>
<line x1="89.58" y1="498.58" x2="89.58" y2="502.58" stroke="#b48ad8" stroke-width="1"/>
<line x1="87.98" y1="498.58" x2="91.17" y2="498.58" stroke="#b48ad8" stroke-width="1"/>
<line x1="87.98" y1="502.58" x2="91.17" y2="502.58" stroke="#b48ad8" stroke-width="1"/>
<circle cx="89.58" cy="500.58" r="2.0" stroke="#b48ad8" fill="#b48ad8" stroke-width="0"/>
<line x1="94.32" y1="496.74" x2="94.32" y2="500.34" stroke="#b48ad8" stroke-width="1"/>
<line x1="92.72" y1="496.74" x2="95.92" y2="496.74" stroke="#b48ad8" stroke-width="1"/>
<line x1="92.72" y1="500.34" x2="95.92" y2="500.34" stroke="#b48ad8" stroke-width="1"/>
<circle cx="94.32" cy="498.54" r="2.0" stroke="#b48ad8" fill="#b48ad8" stroke-width="0"/>
<line x1="99.06" y1="495.29" x2="99.06" y2="498.29" stroke="#b48ad8" stroke-width="1"/>
<line x1="97.47" y1="495.29" x2="100.66" y2="495.29" stroke="#b48ad8" stroke-width="1"/>
<line x1="97.47" y1="498.29" x2="100.66" y2="498.29" stroke="#b48ad8" stroke-width="1"/>
<circle cx="99.06" cy="496.79" r="2.0" stroke="#b48ad8" fill="#b48ad8" stroke-width="0"/>
<line x1="103.81" y1="493.54" x2="103.81" y2="495.94" stroke="#b48ad8" stroke-width="1"/>
<line x1="102.21" y1="493.54" x2="105.41" y2="493.54" stroke="#b48ad8" stroke-width="1"/>
<line x1="102.21" y1="495.94" x2="105.41" y2="495.94" stroke="#b48ad8" stroke-width="1"/>
<circle cx="103.81" cy="494.74" r="2.0" stroke="#b48ad8" fill="#b48ad8" stroke-width="0"/>
<line x1="108.55" y1="491.41" x2="108.55" y2="493.41" stroke="#b48ad8" stroke-width="1"/>
<line x1="106.95" y1="491.41" x2="110.15" y2="491.41" stroke="#b48ad8" stroke-width="1"/>
<line x1="106.95" y1="493.41" x2="110.15" y2="493.41" stroke="#b48ad8" stroke-width="1"/>
<circle cx="108.55" cy="492.41" r="2.0" stroke="#b48ad8" fill="#b48ad8" stroke-width="0"/>
<line x1="113.30" y1="489.95" x2="113.30" y2="491.95" stroke="#b48ad8" stroke-width="1"/>
<line x1="111.70" y1="489.95" x2="114.90" y2="489.95" stroke="#b48ad8" stroke-width="1"/>
<line x1="111.70" y1="491.95" x2="114.90" y2="491.95" stroke="#b48ad8" stroke-width="1"/>
<circle cx="113.30" cy="490.95" r="2.0" stroke="#b48ad8" fill="#b48ad8" stroke-width="0"/>
<line x1="118.05" y1="488.29" x2="118.05" y2="490.69" stroke="#b48ad8" stroke-width="1"/>
<line x1="116.45" y1="488.29" x2="119.64" y2="488.29" stroke="#b48ad8" stroke-width="1"/>
<line x1="116.45" y1="490.69" x2="119.64" y2="490.69" stroke="#b48ad8" stroke-width="1"/>
<circle cx="118.05" cy="489.49" r="2.0" stroke="#b48ad8" fill="#b48ad8" stroke-width="0"/>
<line x1="122.79" y1="486.53" x2="122.79" y2="489.53" stroke="#b48ad8" stroke-width="1"/>
<line x1="121.19" y1="486.53" x2="124.39" y2="486.53" stroke="#b48ad8" stroke-width="1"/>
<line x1="121.19" y1="489.53" x2="124.39" y2="489.53" stroke="#b48ad8" stroke-width="1"/>
<circle cx="122.79" cy="488.03" r="2.0" stroke="#b48ad8" fill="#b48ad8" stroke-width="0"/>
<line x1="127.53" y1="484.77" x2="127.53" y2="488.37" stroke="#b48ad8" stroke-width="1"/>
<line x1="125.94" y1="484.77" x2="129.13" y2="484.77" stroke="#b48ad8" stroke-width="1"/>
<line x1="125.94" y1="488.37" x2="129.13" y2="488.37" stroke="#b48ad8" stroke-width="1"/>
<circle cx="127.53" cy="486.57" r="2.0" stroke="#b48ad8" fill="#b48ad8" stroke-width="0"/>
<line x1="132.28" y1="483.11" x2="132.28" y2="487.11" stroke="#b48ad8" stroke-width="1"/>
<line x1="130.68" y1="483.11" x2="133.88" y2="483.11" stroke="#b48ad8" stroke-width="1"/>
<line x1="130.68" y1="487.11" x2="133.88" y2="487.11" stroke="#b48ad8" stroke-width="1"/>
<circle cx="132.28" cy="485.11" r="2.0" stroke="#b48ad8" fill="#b48ad8" stroke-width="0"/>
<line x1="137.03" y1="481.45" x2="137.03" y2="485.85" stroke="#b48ad8" stroke-width="1"/>
<line x1="135.43" y1="481.45" x2="138.62" y2="481.45" stroke="#b48ad8" stroke-width="1"/>
<line x1="135.43" y1="485.85" x2="138.62" y2="485.85" stroke="#b48ad8" stroke-width="1"/>
<circle cx="137.03" cy="483.65" r="2.0" stroke="#b48ad8" fill="#b48ad8" stroke-width="0"/>
<line x1="141.77" y1="479.69" x2="141.77" y2="484.69" stroke="#b48ad8" stroke-width="1"/>
<line x1="140.17" y1="479.69" x2="143.37" y2="479.69" stroke="#b48ad8" stroke-width="1"/>
<line x1="140.17" y1="484.69" x2="143.37" y2="484.69" stroke="#b48ad8" stroke-width="1"/>
<circle cx="141.77" cy="482.19" r="2.0" stroke="#b48ad8" fill="#b48ad8" stroke-width="0"/>
<line x1="146.51" y1="477.73" x2="146.51" y2="483.73" stroke="#b48ad8" stroke-width="1"/>
<line x1="144.91" y1="477.73" x2="148.11" y2="477.73" stroke="#b48ad8" stroke-width="1"/>
<line x1="144.91" y1="483.73" x2="148.11" y2="483.73" stroke="#b48ad8" stroke-width="1"/>
<circle cx="146.51" cy="480.73" r="2.0" stroke="#b48ad8" fill="#b48ad8" stroke-width="0"/>
<line x1="151.26" y1="475.39" x2="151.26" y2="481.99" stroke="#b48ad8" stroke-width="1"/>
<line x1="149.66" y1="475.39" x2="152.86" y2="475.39" stroke="#b48ad8" stroke-width="1"/>
<line x1="149.66" y1="481.99" x2="152.86" y2="481.99" stroke="#b48ad8" stroke-width="1"/>
<circle cx="151.26" cy="478.69" r="2.0" stroke="#b48ad8" fill="#b48ad8" stroke-width="0"/>
<line x1="156.00" y1="472.75" x2="156.00" y2="479.95" stroke="#b48ad8" stroke-width="1"/>
<line x1="154.41" y1="472.75" x2="157.60" y2="472.75" stroke="#b48ad8" stroke-width="1"/>
<line x1="154.41" y1="479.95" x2="157.60" y2="479.95" stroke="#b48ad8" stroke-width="1"/>
<circle cx="156.00" cy="476.35" r="2.0" stroke="#b48ad8" fill="#b48ad8" stroke-width="0"/>
<line x1="160.75" y1="470.01" x2="160.75" y2="478.01" stroke="#b48ad8" stroke-width="1"/>
<line x1="159.15" y1="470.01" x2="162.35" y2="470.01" stroke="#b48ad8" stroke-width="1"/>
<line x1="159.15" y1="478.01" x2="162.35" y2="478.01" stroke="#b48ad8" stroke-width="1"/>
<circle cx="160.75" cy="474.01" r="2.0" stroke="#b48ad8" fill="#b48ad8" stroke-width="0"/>
<polyline points="65.85,521.02 70.59,516.35 75.34,514.31 80.09,511.97 84.83,508.47 89.58,504.09 94.32,501.17 99.06,498.25 103.81,494.45 108.55,490.36 113.30,486.57 118.05,481.61 122.79,477.23 127.53,471.97 132.28,467.01 137.03,462.63 141.77,458.25 146.51,452.99 151.26,447.74 156.00,442.77 160.75,436.35" stroke="#1e1e8c" stroke-width="1.3" fill="none"/>
<line x1="65.85" y1="516.52" x2="65.85" y2="525.52" stroke="#1e1e8c" stroke-width="1"/>
<line x1="64.25" y1="516.52" x2="67.45" y2="516.52" stroke="#1e1e8c" stroke-width="1"/>
<line x1="64.25" y1="525.52" x2="67.45" y2="525.52" stroke="#1e1e8c" stroke-width="1"/>
<circle cx="65.85" cy="521.02" r="2.0" stroke="#1e1e8c" fill="#1e1e8c" stroke-width="0"/>
<line x1="70.59" y1="512.35" x2="70.59" y2="520.35" stroke="#1e1e8c" stroke-width="1"/>
<line x1="69.00" y1="512.35" x2="72.19" y2="512.35" stroke="#1e1e8c" stroke-width="1"/>
<line x1="69.00" y1="520.35" x2="72.19" y2="520.35" stroke="#1e1e8c" stroke-width="1"/>
<circle cx="70.59" cy="516.35" r="2.0" stroke="#1e1e8c" fill="#1e1e8c" stroke-width="0"/>
<line x1="75.34" y1="510.81" x2="75.34" y2="517.81" stroke="#1e1e8c" stroke-width="1"/>
<line x1="73.74" y1="510.81" x2="76.94" y2="510.81" stroke="#1e1e8c" stroke-width="1"/>
<line x1="73.74" y1="517.81" x2="76.94" y2="517.81" stroke="#1e1e8c" stroke-width="1"/>
<circle cx="75.34" cy="514.31" r="2.0" stroke="#1e1e8c" fill="#1e1e8c" stroke-width="0"/>
<line x1="80.09" y1="508.97" x2="80.09" y2="514.97" stroke="#1e1e8c" stroke-width="1"/>
<line x1="78.49" y1="508.97" x2="81.69" y2="508.97" stroke="#1e1e8c" stroke-width="1"/>
<line x1="78.49" y1="514.97" x2="81.69" y2="514.97" stroke="#1e1e8c" stroke-width="1"/>
<circle cx="80.09" cy="511.97" r="2.0" stroke="#1e1e8c" fill="#1e1e8c" stroke-width="0"/>
<line x1="84.83" y1="505.87" x2="84.83" y2="511.07" stroke="#1e1e8c" stroke-width="1"/>
<line x1="83.23" y1="505.87" x2="86.43" y2="505.87" stroke="#1e1e8c" stroke-width="1"/>
<line x1="83.23" y1="511.07" x2="86.43" y2="511.07" stroke="#1e1e8c" stroke-width="1"/>
<circle cx="84.83" cy="508.47" r="2.0" stroke="#1e1e8c" fill="#1e1e8c" stroke-width="0"/>
<line x1="89.58" y1="501.89" x2="89.58" y2="506.29" stroke="#1e1e8c" stroke-width="1"/>
<line x1="87.98" y1="501.89" x2="91.17" y2="501.89" stroke="#1e1e8c" stroke-width="1"/>
<line x1="87.98" y1="506.29" x2="91.17" y2="506.29" stroke="#1e1e8c" stroke-width="1"/>
<circle cx="89.58" cy="504.09" r="2.0" stroke="#1e1e8c" fill="#1e1e8c" stroke-width="0"/>
<line x1="94.32" y1="499.37" x2="94.32" y2="502.97" stroke="#1e1e8c" stroke-width="1"/>
<line x1="92.72" y1="499.37" x2="95.92" y2="499.37" stroke="#1e1e8c" stroke-width="1"/>
<line x1="92.72" y1="502.97" x2="95.92" y2="502.97" stroke="#1e1e8c" stroke-width="1"/>
<circle cx="94.32" cy="501.17" r="2.0" stroke="#1e1e8c" fill="#1e1e8c" stroke-width="0"/>
<line x1="99.06" y1="496.75" x2="99.06" y2="499.75" stroke="#1e1e8c" stroke-width="1"/>
<line x1="97.47" y1="496.75" x2="100.66" y2="496.75" stroke="#1e1e8c" stroke-width="1"/>
<line x1="97.47" y1="499.75" x2="100.66" y2="499.75" stroke="#1e1e8c" stroke-width="1"/>
<circle cx="99.06" cy="498.25" r="2.0" stroke="#1e1e8c" fill="#1e1e8c" stroke-width="0"/>
<line x1="103.81" y1="493.25" x2="103.81" y2="495.65" stroke="#1e1e8c" stroke-width="1"/>
<line x1="102.21" y1="493.25" x2="105.41" y2="493.25" stroke="#1e1e8c" stroke-width="1"/>
<line x1="102.21" y1="495.65" x2="105.41" y2="495.65" stroke="#1e1e8c" stroke-width="1"/>
<circle cx="103.81" cy="494.45" r="2.0" stroke="#1e1e8c" fill="#1e1e8c" stroke-width="0"/>
<line x1="108.55" y1="488.86" x2="108.55" y2="491.86" stroke="#1e1e8c" stroke-width="1"/>
<line x1="106.95" y1="488.86" x2="110.15" y2="488.86" stroke="#1e1e8c" stroke-width="1"/>
<line x1="106.95" y1="491.86" x2="110.15" y2="491.86" stroke="#1e1e8c" stroke-width="1"/>
<circle cx="108.55" cy="490.36" r="2.0" stroke="#1e1e8c" fill="#1e1e8c" stroke-width="0"/>
<line x1="113.30" y1="484.07" x2="113.30" y2="489.07" stroke="#1e1e8c" stroke-width="1"/>
<line x1="111.70" y1="484.07" x2="114.90" y2="484.07" stroke="#1e1e8c" stroke-width="1"/>
<line x1="111.70" y1="489.07" x2="114.90" y2="489.07" stroke="#1e1e8c" stroke-width="1"/>
<circle cx="113.30" cy="486.57" r="2.0" stroke="#1e1e8c" fill="#1e1e8c" stroke-width="0"/>
<line x1="118.05" y1="477.61" x2="118.05" y2="485.61" stroke="#1e1e8c" stroke-width="1"/>
<line x1="116.45" y1="477.61" x2="119.64" y2="477.61" stroke="#1e1e8c" stroke-width="1"/>
<line x1="116.45" y1="485.61" x2="119.64" y2="485.61" stroke="#1e1e8c" stroke-width="1"/>
<circle cx="118.05" cy="481.61" r="2.0" stroke="#1e1e8c" fill="#1e1e8c" stroke-width="0"/>
<line x1="122.79" y1="472.23" x2="122.79" y2="482.23" stroke="#1e1e8c" stroke-width="1"/>
<line x1="121.19" y1="472.23" x2="124.39" y2="472.23" stroke="#1e1e8c" stroke-width="1"/>
<line x1="121.19" y1="482.23" x2="124.39" y2="482.23" stroke="#1e1e8c" stroke-width="1"/>
<circle cx="122.79" cy="477.23" r="2.0" stroke="#1e1e8c" fill="#1e1e8c" stroke-width="0"/>
<line x1="127.53" y1="465.97" x2="127.53" y2="477.97" stroke="#1e1e8c" stroke-width="1"/>
<line x1="125.94" y1="465.97" x2="129.13" y2="465.97" stroke="#1e1e8c" stroke-width="1"/>
<line x1="125.94" y1="477.97" x2="129.13" y2="477.97" stroke="#1e1e8c" stroke-width="1"/>
<circle cx="127.53" cy="471.97" r="2.0" stroke="#1e1e8c" fill="#1e1e8c" stroke-width="0"/>
<line x1="132.28" y1="460.01" x2="132.28" y2="474.01" stroke="#1e1e8c" stroke-width="1"/>
<line x1="130.68" y1="460.01" x2="133.88" y2="460.01" stroke="#1e1e8c" stroke-width="1"/>
<line x1="130.68" y1="474.01" x2="133.88" y2="474.01" stroke="#1e1e8c" stroke-width="1"/>
<circle cx="132.28" cy="467.01" r="2.0" stroke="#1e1e8c" fill="#1e1e8c" stroke-width="0"/>
<line x1="137.03" y1="454.63" x2="137.03" y2="470.63" stroke="#1e1e8c" stroke-width="1"/>
<line x1="135.43" y1="454.63" x2="138.62" y2="454.63" stroke="#1e1e8c" stroke-width="1"/>
<line x1="135.43" y1="470.63" x2="138.62" y2="470.63" stroke="#1e1e8c" stroke-width="1"/>
<circle cx="137.03" cy="462.63" r="2.0" stroke="#1e1e8c" fill="#1e1e8c" stroke-width="0"/>
<line x1="141.77" y1="449.25" x2="141.77" y2="467.25" stroke="#1e1e8c" stroke-width="1"/>
<line x1="140.17" y1="449.25" x2="143.37" y2="449.25" stroke="#1e1e8c" stroke-width="1"/>
<line x1="140.17" y1="467.25" x2="143.37" y2="467.25" stroke="#1e1e8c" stroke-width="1"/>
<circle cx="141.77" cy="458.25" r="2.0" stroke="#1e1e8c" fill="#1e1e8c" stroke-width="0"/>
<line x1="146.51" y1="442.99" x2="146.51" y2="462.99" stroke="#1e1e8c" stroke-width="1"/>
<line x1="144.91" y1="442.99" x2="148.11" y2="442.99" stroke="#1e1e8c" stroke-width="1"/>
<line x1="144.91" y1="462.99" x2="148.11" y2="462.99" stroke="#1e1e8c" stroke-width="1"/>
<circle cx="146.51" cy="452.99" r="2.0" stroke="#1e1e8c" fill="#1e1e8c" stroke-width="0"/>
<line x1="151.26" y1="436.74" x2="151.26" y2="458.74" stroke="#1e1e8c" stroke-width="1"/>
<line x1="149.66" y1="436.74" x2="152.86" y2="436.74" stroke="#1e1e8c" stroke-width="1"/>
<line x1="149.66" y1="458.74" x2="152.86" y2="458.74" stroke="#1e1e8c" stroke-width="1"/>
<circle cx="151.26" cy="447.74" r="2.0" stroke="#1e1e8c" fill="#1e1e8c" stroke-width="0"/>
<line x1="156.00" y1="430.77" x2="156.00" y2="454.77" stroke="#1e1e8c" stroke-width="1"/>
<line x1="154.41" y1="430.77" x2="157.60" y2="430.77" stroke="#1e1e8c" stroke-width="1"/>
<line x1="154.41" y1="454.77" x2="157.60" y2="454.77" stroke="#1e1e8c" stroke-width="1"/>
<circle cx="156.00" cy="442.77" r="2.0" stroke="#1e1e8c" fill="#1e1e8c" stroke-width="0"/>
<line x1="160.75" y1="421.35" x2="160.75" y2="451.35" stroke="#1e1e8c" stroke-width="1"/>
<line x1="159.15" y1="421.35" x2="162.35" y2="421.35" stroke="#1e1e8c" stroke-width="1"/>
<line x1="159.15" y1="451.35" x2="162.35" y2="451.35" stroke="#1e1e8c" stroke-width="1"/>
<circle cx="160.75" cy="436.35" r="2.0" stroke="#1e1e8c" fill="#1e1e8c" stroke-width="0"/>
<text x="115.40" y="564.40" font-size="12.3" text-anchor="middle" fill="#111">Spadin sensitive current</text>
<rect x="49.60" y="570.00" width="127.60" height="83.30" fill="none" stroke="#999" stroke-width="1" stroke-dasharray="2,2"/>
<line x1="113.30" y1="577.40" x2="113.30" y2="642.80" stroke="#222" stroke-width="1.1"/>
<line x1="108.30" y1="590.20" x2="113.30" y2="590.20" stroke="#222" stroke-width="1.1"/>
<line x1="108.30" y1="642.80" x2="113.30" y2="642.80" stroke="#222" stroke-width="1.1"/>
<text x="106.30" y="594.20" font-size="11.5" text-anchor="end" fill="#222">10</text>
<text x="106.30" y="646.60" font-size="11.5" text-anchor="end" fill="#222">-10</text>
<line x1="55.50" y1="616.80" x2="171.70" y2="616.80" stroke="#222" stroke-width="1.1"/>
<line x1="65.85" y1="616.80" x2="65.85" y2="621.30" stroke="#222" stroke-width="0.9"/>
<line x1="70.59" y1="615.20" x2="70.59" y2="618.40" stroke="#222" stroke-width="0.9"/>
<line x1="75.34" y1="615.20" x2="75.34" y2="618.40" stroke="#222" stroke-width="0.9"/>
<line x1="80.09" y1="615.20" x2="80.09" y2="618.40" stroke="#222" stroke-width="0.9"/>
<line x1="84.83" y1="615.20" x2="84.83" y2="618.40" stroke="#222" stroke-width="0.9"/>
<line x1="89.58" y1="616.80" x2="89.58" y2="621.30" stroke="#222" stroke-width="0.9"/>
<line x1="94.32" y1="615.20" x2="94.32" y2="618.40" stroke="#222" stroke-width="0.9"/>
<line x1="99.06" y1="615.20" x2="99.06" y2="618.40" stroke="#222" stroke-width="0.9"/>
<line x1="103.81" y1="615.20" x2="103.81" y2="618.40" stroke="#222" stroke-width="0.9"/>
<line x1="108.55" y1="615.20" x2="108.55" y2="618.40" stroke="#222" stroke-width="0.9"/>
<line x1="113.30" y1="616.80" x2="113.30" y2="621.30" stroke="#222" stroke-width="0.9"/>
<line x1="118.05" y1="615.20" x2="118.05" y2="618.40" stroke="#222" stroke-width="0.9"/>
<line x1="122.79" y1="615.20" x2="122.79" y2="618.40" stroke="#222" stroke-width="0.9"/>
<line x1="127.53" y1="615.20" x2="127.53" y2="618.40" stroke="#222" stroke-width="0.9"/>
<line x1="132.28" y1="615.20" x2="132.28" y2="618.40" stroke="#222" stroke-width="0.9"/>
<line x1="137.03" y1="616.80" x2="137.03" y2="621.30" stroke="#222" stroke-width="0.9"/>
<line x1="141.77" y1="615.20" x2="141.77" y2="618.40" stroke="#222" stroke-width="0.9"/>
<line x1="146.51" y1="615.20" x2="146.51" y2="618.40" stroke="#222" stroke-width="0.9"/>
<line x1="151.26" y1="615.20" x2="151.26" y2="618.40" stroke="#222" stroke-width="0.9"/>
<line x1="156.00" y1="615.20" x2="156.00" y2="618.40" stroke="#222" stroke-width="0.9"/>
<line x1="160.75" y1="616.80" x2="160.75" y2="621.30" stroke="#222" stroke-width="0.9"/>
<text x="65.85" y="636.40" font-size="11.5" text-anchor="middle" fill="#222">-100</text>
<text x="89.58" y="636.40" font-size="11.5" text-anchor="middle" fill="#222">-50</text>
<text x="137.03" y="636.40" font-size="11.5" text-anchor="middle" fill="#222">50</text>
<text x="160.75" y="636.40" font-size="11.5" text-anchor="middle" fill="#222">100</text>
<polyline points="65.70,631.45 70.49,629.26 75.28,627.07 80.07,625.10 84.86,623.35 89.65,621.60 94.44,620.07 99.23,618.54 104.02,616.78 108.81,615.25 113.60,613.50 118.39,611.75 123.18,609.56 127.97,607.37 132.76,605.40 137.55,603.65 142.34,601.68 147.13,599.49 151.92,597.08 156.71,594.45 161.50,590.07" stroke="#ff2a2a" stroke-width="1.2" fill="none"/>
<circle cx="65.70" cy="631.45" r="2.0" stroke="#ff2a2a" fill="#ff2a2a" stroke-width="0"/>
<circle cx="70.49" cy="629.26" r="2.0" stroke="#ff2a2a" fill="#ff2a2a" stroke-width="0"/>
<circle cx="75.28" cy="627.07" r="2.0" stroke="#ff2a2a" fill="#ff2a2a" stroke-width="0"/>
<circle cx="80.07" cy="625.10" r="2.0" stroke="#ff2a2a" fill="#ff2a2a" stroke-width="0"/>
<circle cx="84.86" cy="623.35" r="2.0" stroke="#ff2a2a" fill="#ff2a2a" stroke-width="0"/>
<circle cx="89.65" cy="621.60" r="2.0" stroke="#ff2a2a" fill="#ff2a2a" stroke-width="0"/>
<circle cx="94.44" cy="620.07" r="2.0" stroke="#ff2a2a" fill="#ff2a2a" stroke-width="0"/>
<circle cx="99.23" cy="618.54" r="2.0" stroke="#ff2a2a" fill="#ff2a2a" stroke-width="0"/>
<circle cx="104.02" cy="616.78" r="2.0" stroke="#ff2a2a" fill="#ff2a2a" stroke-width="0"/>
<circle cx="108.81" cy="615.25" r="2.0" stroke="#ff2a2a" fill="#ff2a2a" stroke-width="0"/>
<circle cx="113.60" cy="613.50" r="2.0" stroke="#ff2a2a" fill="#ff2a2a" stroke-width="0"/>
<circle cx="118.39" cy="611.75" r="2.0" stroke="#ff2a2a" fill="#ff2a2a" stroke-width="0"/>
<circle cx="123.18" cy="609.56" r="2.0" stroke="#ff2a2a" fill="#ff2a2a" stroke-width="0"/>
<circle cx="127.97" cy="607.37" r="2.0" stroke="#ff2a2a" fill="#ff2a2a" stroke-width="0"/>
<circle cx="132.76" cy="605.40" r="2.0" stroke="#ff2a2a" fill="#ff2a2a" stroke-width="0"/>
<circle cx="137.55" cy="603.65" r="2.0" stroke="#ff2a2a" fill="#ff2a2a" stroke-width="0"/>
<circle cx="142.34" cy="601.68" r="2.0" stroke="#ff2a2a" fill="#ff2a2a" stroke-width="0"/>
<circle cx="147.13" cy="599.49" r="2.0" stroke="#ff2a2a" fill="#ff2a2a" stroke-width="0"/>
<circle cx="151.92" cy="597.08" r="2.0" stroke="#ff2a2a" fill="#ff2a2a" stroke-width="0"/>
<circle cx="156.71" cy="594.45" r="2.0" stroke="#ff2a2a" fill="#ff2a2a" stroke-width="0"/>
<circle cx="161.50" cy="590.07" r="2.0" stroke="#ff2a2a" fill="#ff2a2a" stroke-width="0"/>
<line x1="452.30" y1="414.70" x2="452.30" y2="529.80" stroke="#222" stroke-width="1.1"/>
<line x1="447.30" y1="431.10" x2="452.30" y2="431.10" stroke="#222" stroke-width="1.1"/>
<line x1="447.30" y1="464.10" x2="452.30" y2="464.10" stroke="#222" stroke-width="1.1"/>
<line x1="447.30" y1="530.10" x2="452.30" y2="530.10" stroke="#222" stroke-width="1.1"/>
<text x="445.30" y="435.10" font-size="11.5" text-anchor="end" fill="#222">20</text>
<text x="445.30" y="468.10" font-size="11.5" text-anchor="end" fill="#222">10</text>
<text x="445.30" y="534.10" font-size="11.5" text-anchor="end" fill="#222">-10</text>
<line x1="394.10" y1="497.10" x2="509.80" y2="497.10" stroke="#222" stroke-width="1.1"/>
<line x1="404.20" y1="497.10" x2="404.20" y2="501.60" stroke="#222" stroke-width="1.1"/>
<line x1="428.25" y1="497.10" x2="428.25" y2="501.60" stroke="#222" stroke-width="1.1"/>
<line x1="476.35" y1="497.10" x2="476.35" y2="501.60" stroke="#222" stroke-width="1.1"/>
<line x1="500.40" y1="497.10" x2="500.40" y2="501.60" stroke="#222" stroke-width="1.1"/>
<text x="404.20" y="516.60" font-size="11.8" text-anchor="middle" fill="#222">-100</text>
<text x="428.25" y="516.60" font-size="11.8" text-anchor="middle" fill="#222">-50</text>
<text x="476.35" y="516.60" font-size="11.8" text-anchor="middle" fill="#222">50</text>
<text x="500.40" y="516.60" font-size="11.8" text-anchor="middle" fill="#222">100</text>
<text x="511.00" y="531.20" font-size="11.5" text-anchor="end" fill="#222">mV</text>
<text x="470.60" y="418.80" font-size="11.5" text-anchor="middle" fill="#222" transform="rotate(-90 470.60 418.80)">pA/pF</text>
<line x1="461.20" y1="450.20" x2="478.70" y2="450.20" stroke="#1e1e8c" stroke-width="1.1"/>
<circle cx="469.80" cy="450.20" r="1.7" stroke="#1e1e8c" fill="#1e1e8c" stroke-width="0"/>
<text x="489.80" y="454.50" font-size="12" text-anchor="start" fill="#1e1e8c">D7</text>
<line x1="461.20" y1="463.80" x2="478.70" y2="463.80" stroke="#8a3ac0" stroke-width="1.1"/>
<circle cx="469.80" cy="463.80" r="1.7" stroke="#8a3ac0" fill="#8a3ac0" stroke-width="0"/>
<text x="489.80" y="468.20" font-size="12" text-anchor="start" fill="#8a3ac0">Spadin</text>
<polyline points="404.20,500.90 409.01,500.24 413.82,499.58 418.63,499.08 423.44,498.59 428.25,498.25 433.06,497.76 437.87,497.27 442.68,496.94 447.49,496.61 452.30,496.61 457.11,495.95 461.92,495.29 466.73,494.62 471.54,493.64 476.35,492.31 481.16,490.67 485.97,488.36 490.78,486.05 495.59,483.74 500.40,482.09" stroke="#8a3ac0" stroke-width="1.3" fill="none"/>
<circle cx="404.20" cy="500.90" r="1.7" stroke="#8a3ac0" fill="#8a3ac0" stroke-width="0"/>
<circle cx="409.01" cy="500.24" r="1.7" stroke="#8a3ac0" fill="#8a3ac0" stroke-width="0"/>
<circle cx="413.82" cy="499.58" r="1.7" stroke="#8a3ac0" fill="#8a3ac0" stroke-width="0"/>
<circle cx="418.63" cy="499.08" r="1.7" stroke="#8a3ac0" fill="#8a3ac0" stroke-width="0"/>
<circle cx="423.44" cy="498.59" r="1.7" stroke="#8a3ac0" fill="#8a3ac0" stroke-width="0"/>
<circle cx="428.25" cy="498.25" r="1.7" stroke="#8a3ac0" fill="#8a3ac0" stroke-width="0"/>
<circle cx="433.06" cy="497.76" r="1.7" stroke="#8a3ac0" fill="#8a3ac0" stroke-width="0"/>
<circle cx="437.87" cy="497.27" r="1.7" stroke="#8a3ac0" fill="#8a3ac0" stroke-width="0"/>
<circle cx="442.68" cy="496.94" r="1.7" stroke="#8a3ac0" fill="#8a3ac0" stroke-width="0"/>
<circle cx="447.49" cy="496.61" r="1.7" stroke="#8a3ac0" fill="#8a3ac0" stroke-width="0"/>
<circle cx="452.30" cy="496.61" r="1.7" stroke="#8a3ac0" fill="#8a3ac0" stroke-width="0"/>
<circle cx="457.11" cy="495.95" r="1.7" stroke="#8a3ac0" fill="#8a3ac0" stroke-width="0"/>
<circle cx="461.92" cy="495.29" r="1.7" stroke="#8a3ac0" fill="#8a3ac0" stroke-width="0"/>
<circle cx="466.73" cy="494.62" r="1.7" stroke="#8a3ac0" fill="#8a3ac0" stroke-width="0"/>
<circle cx="471.54" cy="493.64" r="1.7" stroke="#8a3ac0" fill="#8a3ac0" stroke-width="0"/>
<circle cx="476.35" cy="492.31" r="1.7" stroke="#8a3ac0" fill="#8a3ac0" stroke-width="0"/>
<line x1="481.16" y1="488.36" x2="481.16" y2="492.98" stroke="#8a3ac0" stroke-width="1"/>
<line x1="479.66" y1="488.36" x2="482.66" y2="488.36" stroke="#8a3ac0" stroke-width="1"/>
<line x1="479.66" y1="492.98" x2="482.66" y2="492.98" stroke="#8a3ac0" stroke-width="1"/>
<circle cx="481.16" cy="490.67" r="1.7" stroke="#8a3ac0" fill="#8a3ac0" stroke-width="0"/>
<line x1="485.97" y1="485.38" x2="485.97" y2="491.33" stroke="#8a3ac0" stroke-width="1"/>
<line x1="484.47" y1="485.38" x2="487.47" y2="485.38" stroke="#8a3ac0" stroke-width="1"/>
<line x1="484.47" y1="491.33" x2="487.47" y2="491.33" stroke="#8a3ac0" stroke-width="1"/>
<circle cx="485.97" cy="488.36" r="1.7" stroke="#8a3ac0" fill="#8a3ac0" stroke-width="0"/>
<line x1="490.78" y1="482.75" x2="490.78" y2="489.35" stroke="#8a3ac0" stroke-width="1"/>
<line x1="489.28" y1="482.75" x2="492.28" y2="482.75" stroke="#8a3ac0" stroke-width="1"/>
<line x1="489.28" y1="489.35" x2="492.28" y2="489.35" stroke="#8a3ac0" stroke-width="1"/>
<circle cx="490.78" cy="486.05" r="1.7" stroke="#8a3ac0" fill="#8a3ac0" stroke-width="0"/>
<line x1="495.59" y1="479.78" x2="495.59" y2="487.69" stroke="#8a3ac0" stroke-width="1"/>
<line x1="494.09" y1="479.78" x2="497.09" y2="479.78" stroke="#8a3ac0" stroke-width="1"/>
<line x1="494.09" y1="487.69" x2="497.09" y2="487.69" stroke="#8a3ac0" stroke-width="1"/>
<circle cx="495.59" cy="483.74" r="1.7" stroke="#8a3ac0" fill="#8a3ac0" stroke-width="0"/>
<line x1="500.40" y1="477.47" x2="500.40" y2="486.71" stroke="#8a3ac0" stroke-width="1"/>
<line x1="498.90" y1="477.47" x2="501.90" y2="477.47" stroke="#8a3ac0" stroke-width="1"/>
<line x1="498.90" y1="486.71" x2="501.90" y2="486.71" stroke="#8a3ac0" stroke-width="1"/>
<circle cx="500.40" cy="482.09" r="1.7" stroke="#8a3ac0" fill="#8a3ac0" stroke-width="0"/>
<polyline points="404.20,501.39 409.01,500.73 413.82,500.07 418.63,499.58 423.44,499.08 428.25,498.75 433.06,498.25 437.87,497.76 442.68,497.43 447.49,497.10 452.30,497.10 457.11,496.44 461.92,495.78 466.73,495.12 471.54,494.13 476.35,492.81 481.16,491.16 485.97,488.85 490.78,486.54 495.59,484.23 500.40,482.58" stroke="#1e1e8c" stroke-width="1.3" fill="none"/>
<circle cx="404.20" cy="501.39" r="1.7" stroke="#1e1e8c" fill="#1e1e8c" stroke-width="0"/>
<circle cx="409.01" cy="500.73" r="1.7" stroke="#1e1e8c" fill="#1e1e8c" stroke-width="0"/>
<circle cx="413.82" cy="500.07" r="1.7" stroke="#1e1e8c" fill="#1e1e8c" stroke-width="0"/>
<circle cx="418.63" cy="499.58" r="1.7" stroke="#1e1e8c" fill="#1e1e8c" stroke-width="0"/>
<circle cx="423.44" cy="499.08" r="1.7" stroke="#1e1e8c" fill="#1e1e8c" stroke-width="0"/>
<circle cx="428.25" cy="498.75" r="1.7" stroke="#1e1e8c" fill="#1e1e8c" stroke-width="0"/>
<circle cx="433.06" cy="498.25" r="1.7" stroke="#1e1e8c" fill="#1e1e8c" stroke-width="0"/>
<circle cx="437.87" cy="497.76" r="1.7" stroke="#1e1e8c" fill="#1e1e8c" stroke-width="0"/>
<circle cx="442.68" cy="497.43" r="1.7" stroke="#1e1e8c" fill="#1e1e8c" stroke-width="0"/>
<circle cx="447.49" cy="497.10" r="1.7" stroke="#1e1e8c" fill="#1e1e8c" stroke-width="0"/>
<circle cx="452.30" cy="497.10" r="1.7" stroke="#1e1e8c" fill="#1e1e8c" stroke-width="0"/>
<circle cx="457.11" cy="496.44" r="1.7" stroke="#1e1e8c" fill="#1e1e8c" stroke-width="0"/>
<circle cx="461.92" cy="495.78" r="1.7" stroke="#1e1e8c" fill="#1e1e8c" stroke-width="0"/>
<circle cx="466.73" cy="495.12" r="1.7" stroke="#1e1e8c" fill="#1e1e8c" stroke-width="0"/>
<circle cx="471.54" cy="494.13" r="1.7" stroke="#1e1e8c" fill="#1e1e8c" stroke-width="0"/>
<circle cx="476.35" cy="492.81" r="1.7" stroke="#1e1e8c" fill="#1e1e8c" stroke-width="0"/>
<circle cx="481.16" cy="491.16" r="1.7" stroke="#1e1e8c" fill="#1e1e8c" stroke-width="0"/>
<line x1="485.97" y1="486.21" x2="485.97" y2="491.49" stroke="#1e1e8c" stroke-width="1"/>
<line x1="484.47" y1="486.21" x2="487.47" y2="486.21" stroke="#1e1e8c" stroke-width="1"/>
<line x1="484.47" y1="491.49" x2="487.47" y2="491.49" stroke="#1e1e8c" stroke-width="1"/>
<circle cx="485.97" cy="488.85" r="1.7" stroke="#1e1e8c" fill="#1e1e8c" stroke-width="0"/>
<line x1="490.78" y1="483.57" x2="490.78" y2="489.51" stroke="#1e1e8c" stroke-width="1"/>
<line x1="489.28" y1="483.57" x2="492.28" y2="483.57" stroke="#1e1e8c" stroke-width="1"/>
<line x1="489.28" y1="489.51" x2="492.28" y2="489.51" stroke="#1e1e8c" stroke-width="1"/>
<circle cx="490.78" cy="486.54" r="1.7" stroke="#1e1e8c" fill="#1e1e8c" stroke-width="0"/>
<line x1="495.59" y1="480.93" x2="495.59" y2="487.53" stroke="#1e1e8c" stroke-width="1"/>
<line x1="494.09" y1="480.93" x2="497.09" y2="480.93" stroke="#1e1e8c" stroke-width="1"/>
<line x1="494.09" y1="487.53" x2="497.09" y2="487.53" stroke="#1e1e8c" stroke-width="1"/>
<circle cx="495.59" cy="484.23" r="1.7" stroke="#1e1e8c" fill="#1e1e8c" stroke-width="0"/>
<line x1="500.40" y1="478.95" x2="500.40" y2="486.21" stroke="#1e1e8c" stroke-width="1"/>
<line x1="498.90" y1="478.95" x2="501.90" y2="478.95" stroke="#1e1e8c" stroke-width="1"/>
<line x1="498.90" y1="486.21" x2="501.90" y2="486.21" stroke="#1e1e8c" stroke-width="1"/>
<circle cx="500.40" cy="482.58" r="1.7" stroke="#1e1e8c" fill="#1e1e8c" stroke-width="0"/>
<text x="452.30" y="564.60" font-size="12.3" text-anchor="middle" fill="#111">Spadin sensitive current</text>
<rect x="388.50" y="570.00" width="126.80" height="83.70" fill="none" stroke="#999" stroke-width="1" stroke-dasharray="2,2"/>
<line x1="452.30" y1="576.90" x2="452.30" y2="643.20" stroke="#222" stroke-width="1.1"/>
<line x1="447.30" y1="590.80" x2="452.30" y2="590.80" stroke="#222" stroke-width="1.1"/>
<line x1="447.30" y1="643.20" x2="452.30" y2="643.20" stroke="#222" stroke-width="1.1"/>
<text x="445.30" y="594.80" font-size="11.5" text-anchor="end" fill="#222">10</text>
<text x="445.30" y="647.00" font-size="11.5" text-anchor="end" fill="#222">-10</text>
<line x1="394.10" y1="617.10" x2="509.80" y2="617.10" stroke="#222" stroke-width="1.1"/>
<line x1="404.20" y1="617.10" x2="404.20" y2="621.10" stroke="#222" stroke-width="1"/>
<line x1="428.25" y1="617.10" x2="428.25" y2="621.10" stroke="#222" stroke-width="1"/>
<line x1="476.35" y1="617.10" x2="476.35" y2="621.10" stroke="#222" stroke-width="1"/>
<line x1="500.40" y1="617.10" x2="500.40" y2="621.10" stroke="#222" stroke-width="1"/>
<text x="404.20" y="636.20" font-size="11.5" text-anchor="middle" fill="#222">-100</text>
<text x="428.25" y="636.20" font-size="11.5" text-anchor="middle" fill="#222">-50</text>
<text x="476.35" y="636.20" font-size="11.5" text-anchor="middle" fill="#222">50</text>
<text x="500.40" y="636.20" font-size="11.5" text-anchor="middle" fill="#222">100</text>
<polyline points="404.20,618.90 409.01,618.40 413.82,618.40 418.63,618.40 423.44,618.40 428.25,617.70 433.06,617.70 437.87,617.70 442.68,617.70 447.49,617.70 452.30,617.30 457.11,617.30 461.92,617.30 466.73,617.30 471.54,617.30 476.35,617.30 481.16,617.30 485.97,617.30 490.78,617.30 495.59,617.30 500.40,617.30" stroke="#ff2a2a" stroke-width="1.4" fill="none"/>
<circle cx="404.20" cy="618.90" r="2.0" stroke="#ff2a2a" fill="#ff2a2a" stroke-width="0"/>
<circle cx="409.01" cy="618.40" r="2.0" stroke="#ff2a2a" fill="#ff2a2a" stroke-width="0"/>
<circle cx="413.82" cy="618.40" r="2.0" stroke="#ff2a2a" fill="#ff2a2a" stroke-width="0"/>
<circle cx="418.63" cy="618.40" r="2.0" stroke="#ff2a2a" fill="#ff2a2a" stroke-width="0"/>
<circle cx="423.44" cy="618.40" r="2.0" stroke="#ff2a2a" fill="#ff2a2a" stroke-width="0"/>
<circle cx="428.25" cy="617.70" r="2.0" stroke="#ff2a2a" fill="#ff2a2a" stroke-width="0"/>
<circle cx="433.06" cy="617.70" r="2.0" stroke="#ff2a2a" fill="#ff2a2a" stroke-width="0"/>
<circle cx="437.87" cy="617.70" r="2.0" stroke="#ff2a2a" fill="#ff2a2a" stroke-width="0"/>
<circle cx="442.68" cy="617.70" r="2.0" stroke="#ff2a2a" fill="#ff2a2a" stroke-width="0"/>
<circle cx="447.49" cy="617.70" r="2.0" stroke="#ff2a2a" fill="#ff2a2a" stroke-width="0"/>
<circle cx="452.30" cy="617.30" r="2.0" stroke="#ff2a2a" fill="#ff2a2a" stroke-width="0"/>
<circle cx="457.11" cy="617.30" r="2.0" stroke="#ff2a2a" fill="#ff2a2a" stroke-width="0"/>
<circle cx="461.92" cy="617.30" r="2.0" stroke="#ff2a2a" fill="#ff2a2a" stroke-width="0"/>
<circle cx="466.73" cy="617.30" r="2.0" stroke="#ff2a2a" fill="#ff2a2a" stroke-width="0"/>
<circle cx="471.54" cy="617.30" r="2.0" stroke="#ff2a2a" fill="#ff2a2a" stroke-width="0"/>
<circle cx="476.35" cy="617.30" r="2.0" stroke="#ff2a2a" fill="#ff2a2a" stroke-width="0"/>
<circle cx="481.16" cy="617.30" r="2.0" stroke="#ff2a2a" fill="#ff2a2a" stroke-width="0"/>
<circle cx="485.97" cy="617.30" r="2.0" stroke="#ff2a2a" fill="#ff2a2a" stroke-width="0"/>
<circle cx="490.78" cy="617.30" r="2.0" stroke="#ff2a2a" fill="#ff2a2a" stroke-width="0"/>
<circle cx="495.59" cy="617.30" r="2.0" stroke="#ff2a2a" fill="#ff2a2a" stroke-width="0"/>
<circle cx="500.40" cy="617.30" r="2.0" stroke="#ff2a2a" fill="#ff2a2a" stroke-width="0"/>
<rect x="272.90" y="547.82" width="16.40" height="57.78" fill="#10108c"/>
<rect x="306.10" y="580.80" width="16.40" height="24.80" fill="#b08fda"/>
<line x1="265.10" y1="423.10" x2="265.10" y2="605.60" stroke="#222" stroke-width="1.2"/>
<line x1="259.60" y1="605.60" x2="265.10" y2="605.60" stroke="#222" stroke-width="1.2"/>
<text x="256.60" y="609.80" font-size="12.5" text-anchor="end" fill="#222">0</text>
<line x1="259.60" y1="560.10" x2="265.10" y2="560.10" stroke="#222" stroke-width="1.2"/>
<text x="256.60" y="564.30" font-size="12.5" text-anchor="end" fill="#222">20</text>
<line x1="259.60" y1="514.60" x2="265.10" y2="514.60" stroke="#222" stroke-width="1.2"/>
<text x="256.60" y="518.80" font-size="12.5" text-anchor="end" fill="#222">40</text>
<line x1="259.60" y1="469.10" x2="265.10" y2="469.10" stroke="#222" stroke-width="1.2"/>
<text x="256.60" y="473.30" font-size="12.5" text-anchor="end" fill="#222">60</text>
<line x1="259.60" y1="423.60" x2="265.10" y2="423.60" stroke="#222" stroke-width="1.2"/>
<text x="256.60" y="427.80" font-size="12.5" text-anchor="end" fill="#222">80</text>
<line x1="265.10" y1="605.60" x2="330.20" y2="605.60" stroke="#222" stroke-width="1.2"/>
<line x1="281.10" y1="605.60" x2="281.10" y2="612.60" stroke="#222" stroke-width="1.2"/>
<line x1="314.30" y1="605.60" x2="314.30" y2="612.60" stroke="#222" stroke-width="1.2"/>
<text x="283.50" y="621.00" font-size="11.5" font-weight="bold" text-anchor="end" fill="#000" transform="rotate(-45 283.50 621.00)">ND</text>
<text x="316.00" y="624.50" font-size="11.5" font-weight="bold" text-anchor="end" fill="#000" transform="rotate(-45 316.00 624.50)">Spadin</text>
<line x1="281.20" y1="534.80" x2="281.20" y2="547.82" stroke="#000" stroke-width="1.6"/>
<line x1="277.20" y1="534.80" x2="285.20" y2="534.80" stroke="#000" stroke-width="1.6"/>
<line x1="281.20" y1="547.82" x2="281.20" y2="560.80" stroke="#000" stroke-width="1.6"/>
<line x1="277.20" y1="560.80" x2="285.20" y2="560.80" stroke="#000" stroke-width="1.6"/>
<line x1="313.60" y1="575.00" x2="313.60" y2="586.00" stroke="#000" stroke-width="1.6"/>
<line x1="309.60" y1="575.00" x2="317.60" y2="575.00" stroke="#000" stroke-width="1.6"/>
<polyline points="281.00,449.70 281.00,423.70 314.00,423.70 314.00,530.00" stroke="#444" stroke-width="1.1" fill="none"/>
<path d="M297.50,414.00V419.00M295.33,415.25L299.67,417.75M295.33,417.75L299.67,415.25" stroke="#111" stroke-width="1.2" fill="none"/>
<circle cx="281.20" cy="459.90" r="2.4" stroke="#000" fill="#fff" stroke-width="1.1"/>
<circle cx="281.20" cy="511.60" r="2.4" stroke="#000" fill="#fff" stroke-width="1.1"/>
<circle cx="281.20" cy="521.00" r="2.4" stroke="#000" fill="#fff" stroke-width="1.1"/>
<circle cx="275.50" cy="548.20" r="2.4" stroke="#000" fill="#fff" stroke-width="1.1"/>
<circle cx="286.90" cy="549.50" r="2.4" stroke="#000" fill="#fff" stroke-width="1.1"/>
<circle cx="281.20" cy="570.50" r="2.4" stroke="#000" fill="#fff" stroke-width="1.1"/>
<circle cx="281.20" cy="577.50" r="2.4" stroke="#000" fill="#fff" stroke-width="1.1"/>
<circle cx="281.20" cy="585.00" r="2.4" stroke="#000" fill="#fff" stroke-width="1.1"/>
<circle cx="281.20" cy="593.20" r="2.4" stroke="#000" fill="#fff" stroke-width="1.1"/>
<circle cx="313.50" cy="541.40" r="2.4" stroke="#000" fill="#fff" stroke-width="1.1"/>
<circle cx="313.50" cy="558.40" r="2.4" stroke="#000" fill="#fff" stroke-width="1.1"/>
<circle cx="308.70" cy="580.60" r="2.4" stroke="#000" fill="#fff" stroke-width="1.1"/>
<circle cx="315.00" cy="579.00" r="2.4" stroke="#000" fill="#fff" stroke-width="1.1"/>
<circle cx="308.20" cy="586.40" r="2.4" stroke="#000" fill="#fff" stroke-width="1.1"/>
<circle cx="320.00" cy="589.00" r="2.4" stroke="#000" fill="#fff" stroke-width="1.1"/>
<circle cx="313.50" cy="593.90" r="2.4" stroke="#000" fill="#fff" stroke-width="1.1"/>
<circle cx="320.00" cy="596.00" r="2.4" stroke="#000" fill="#fff" stroke-width="1.1"/>
<circle cx="308.70" cy="599.30" r="2.4" stroke="#000" fill="#fff" stroke-width="1.1"/>
<text transform="translate(222.4 515.3) rotate(-90)" font-size="14.5" font-weight="bold" text-anchor="middle" fill="#000">Amplitude <tspan font-size="11.5">(pA/pF)</tspan></text>
<text x="236.20" y="515.60" font-size="11.7" text-anchor="middle" fill="#222" transform="rotate(-90 236.20 515.60)">(between -100 and +100 mV)</text>
<rect x="609.80" y="591.86" width="18.60" height="13.14" fill="#10108c"/>
<rect x="638.00" y="593.00" width="18.60" height="12.00" fill="#b08fda"/>
<line x1="600.20" y1="423.30" x2="600.20" y2="605.00" stroke="#222" stroke-width="1.2"/>
<line x1="594.70" y1="605.00" x2="600.20" y2="605.00" stroke="#222" stroke-width="1.2"/>
<text x="591.70" y="609.20" font-size="12.5" text-anchor="end" fill="#222">0</text>
<line x1="594.70" y1="559.70" x2="600.20" y2="559.70" stroke="#222" stroke-width="1.2"/>
<text x="591.70" y="563.90" font-size="12.5" text-anchor="end" fill="#222">20</text>
<line x1="594.70" y1="514.40" x2="600.20" y2="514.40" stroke="#222" stroke-width="1.2"/>
<text x="591.70" y="518.60" font-size="12.5" text-anchor="end" fill="#222">40</text>
<line x1="594.70" y1="469.10" x2="600.20" y2="469.10" stroke="#222" stroke-width="1.2"/>
<text x="591.70" y="473.30" font-size="12.5" text-anchor="end" fill="#222">60</text>
<line x1="594.70" y1="423.80" x2="600.20" y2="423.80" stroke="#222" stroke-width="1.2"/>
<text x="591.70" y="428.00" font-size="12.5" text-anchor="end" fill="#222">80</text>
<line x1="600.20" y1="605.00" x2="665.70" y2="605.00" stroke="#222" stroke-width="1.2"/>
<line x1="619.10" y1="605.00" x2="619.10" y2="612.00" stroke="#222" stroke-width="1.2"/>
<line x1="647.30" y1="605.00" x2="647.30" y2="612.00" stroke="#222" stroke-width="1.2"/>
<text x="621.20" y="621.50" font-size="11.5" font-weight="bold" text-anchor="end" fill="#000" transform="rotate(-45 621.20 621.50)">D7</text>
<text x="648.00" y="624.50" font-size="11.5" font-weight="bold" text-anchor="end" fill="#000" transform="rotate(-45 648.00 624.50)">Spadin</text>
<polyline points="618.70,570.30 618.70,423.40 646.90,423.40 646.90,566.70" stroke="#666" stroke-width="1.1" fill="none"/>
<text x="633.20" y="416.00" font-size="9.5" text-anchor="middle" fill="#333">ns</text>
<line x1="619.10" y1="587.50" x2="619.10" y2="596.00" stroke="#000" stroke-width="1.6"/>
<line x1="615.10" y1="587.50" x2="623.10" y2="587.50" stroke="#000" stroke-width="1.6"/>
<line x1="647.30" y1="589.00" x2="647.30" y2="597.00" stroke="#000" stroke-width="1.6"/>
<line x1="643.30" y1="589.00" x2="651.30" y2="589.00" stroke="#000" stroke-width="1.6"/>
<circle cx="619.00" cy="581.00" r="2.4" stroke="#000" fill="#fff" stroke-width="1.1"/>
<circle cx="619.00" cy="586.00" r="2.4" stroke="#000" fill="#fff" stroke-width="1.1"/>
<circle cx="619.00" cy="592.00" r="2.4" stroke="#000" fill="#fff" stroke-width="1.1"/>
<circle cx="611.50" cy="597.30" r="2.4" stroke="#000" fill="#fff" stroke-width="1.1"/>
<circle cx="619.00" cy="597.30" r="2.4" stroke="#000" fill="#fff" stroke-width="1.1"/>
<circle cx="625.50" cy="597.30" r="2.4" stroke="#000" fill="#fff" stroke-width="1.1"/>
<circle cx="647.00" cy="577.60" r="2.4" stroke="#000" fill="#fff" stroke-width="1.1"/>
<circle cx="647.00" cy="588.50" r="2.4" stroke="#000" fill="#fff" stroke-width="1.1"/>
<circle cx="644.00" cy="593.50" r="2.4" stroke="#000" fill="#fff" stroke-width="1.1"/>
<circle cx="650.50" cy="592.50" r="2.4" stroke="#000" fill="#fff" stroke-width="1.1"/>
<circle cx="640.50" cy="598.00" r="2.4" stroke="#000" fill="#fff" stroke-width="1.1"/>
<circle cx="647.00" cy="597.50" r="2.4" stroke="#000" fill="#fff" stroke-width="1.1"/>
<circle cx="654.00" cy="596.50" r="2.4" stroke="#000" fill="#fff" stroke-width="1.1"/>
<text transform="translate(556.6 514.3) rotate(-90)" font-size="14.5" font-weight="bold" text-anchor="middle" fill="#000">Amplitude <tspan font-size="11.5">(pA/pF)</tspan></text>
<text x="570.20" y="514.80" font-size="11.7" text-anchor="middle" fill="#222" transform="rotate(-90 570.20 514.80)">(between -100 and +100 mV)</text>
<line x1="66.00" y1="715.50" x2="66.00" y2="881.20" stroke="#222" stroke-width="1.2"/>
<line x1="60.50" y1="716.00" x2="66.00" y2="716.00" stroke="#222" stroke-width="1.2"/>
<text x="58.00" y="720.30" font-size="12" font-weight="bold" text-anchor="end" fill="#111">20</text>
<line x1="60.50" y1="757.30" x2="66.00" y2="757.30" stroke="#222" stroke-width="1.2"/>
<text x="58.00" y="761.60" font-size="12" font-weight="bold" text-anchor="end" fill="#111">0</text>
<line x1="60.50" y1="798.60" x2="66.00" y2="798.60" stroke="#222" stroke-width="1.2"/>
<text x="58.00" y="802.90" font-size="12" font-weight="bold" text-anchor="end" fill="#111">-20</text>
<line x1="60.50" y1="839.90" x2="66.00" y2="839.90" stroke="#222" stroke-width="1.2"/>
<text x="58.00" y="844.20" font-size="12" font-weight="bold" text-anchor="end" fill="#111">-40</text>
<line x1="60.50" y1="881.20" x2="66.00" y2="881.20" stroke="#222" stroke-width="1.2"/>
<text x="58.00" y="885.50" font-size="12" font-weight="bold" text-anchor="end" fill="#111">-60</text>
<line x1="66.00" y1="881.20" x2="132.00" y2="881.20" stroke="#222" stroke-width="1.2"/>
<line x1="66.00" y1="757.30" x2="132.00" y2="757.30" stroke="#111" stroke-width="1.2" stroke-dasharray="2,3"/>
<line x1="84.10" y1="881.20" x2="84.10" y2="888.00" stroke="#222" stroke-width="1.2"/>
<line x1="112.60" y1="881.20" x2="112.60" y2="888.00" stroke="#222" stroke-width="1.2"/>
<text x="88.00" y="897.50" font-size="13" font-weight="bold" text-anchor="end" fill="#000" transform="rotate(-45 88.00 897.50)">ND</text>
<text x="115.50" y="899.00" font-size="13" font-weight="bold" text-anchor="end" fill="#000" transform="rotate(-45 115.50 899.00)">Spadin</text>
<polyline points="84.10,774.10 84.10,736.60 112.60,736.60 112.60,745.70" stroke="#222" stroke-width="1.1" fill="none"/>
<path d="M98.40,722.70V729.70M95.37,724.45L101.43,727.95M95.37,727.95L101.43,724.45" stroke="#111" stroke-width="1.6" fill="none"/>
<line x1="84.10" y1="784.80" x2="112.60" y2="805.70" stroke="#111" stroke-width="0.9"/>
<line x1="84.10" y1="814.70" x2="112.60" y2="779.00" stroke="#111" stroke-width="0.9"/>
<line x1="84.10" y1="825.70" x2="112.60" y2="767.10" stroke="#111" stroke-width="0.9"/>
<line x1="84.10" y1="835.90" x2="112.60" y2="781.00" stroke="#111" stroke-width="0.9"/>
<line x1="84.10" y1="862.60" x2="112.60" y2="755.80" stroke="#111" stroke-width="0.9"/>
<line x1="84.10" y1="872.00" x2="112.60" y2="785.90" stroke="#111" stroke-width="0.9"/>
<line x1="84.10" y1="819.00" x2="84.10" y2="845.30" stroke="#2a2ae8" stroke-width="2"/>
<line x1="81.40" y1="819.00" x2="86.80" y2="819.00" stroke="#2a2ae8" stroke-width="2"/>
<line x1="81.40" y1="845.30" x2="86.80" y2="845.30" stroke="#2a2ae8" stroke-width="2"/>
<line x1="112.60" y1="770.80" x2="112.60" y2="785.90" stroke="#ee2020" stroke-width="2"/>
<line x1="109.90" y1="770.80" x2="115.30" y2="770.80" stroke="#ee2020" stroke-width="2"/>
<line x1="109.90" y1="785.90" x2="115.30" y2="785.90" stroke="#ee2020" stroke-width="2"/>
<circle cx="84.10" cy="784.80" r="2.6" stroke="#111" fill="none" stroke-width="1.1"/>
<circle cx="84.10" cy="814.70" r="2.6" stroke="#111" fill="none" stroke-width="1.1"/>
<circle cx="84.10" cy="825.70" r="2.6" stroke="#111" fill="none" stroke-width="1.1"/>
<circle cx="84.10" cy="835.90" r="2.6" stroke="#111" fill="none" stroke-width="1.1"/>
<circle cx="84.10" cy="862.60" r="2.6" stroke="#111" fill="none" stroke-width="1.1"/>
<circle cx="84.10" cy="872.00" r="2.6" stroke="#111" fill="none" stroke-width="1.1"/>
<circle cx="112.60" cy="755.80" r="2.6" stroke="#111" fill="none" stroke-width="1.1"/>
<circle cx="112.60" cy="767.10" r="2.6" stroke="#111" fill="none" stroke-width="1.1"/>
<circle cx="112.60" cy="778.30" r="2.6" stroke="#111" fill="none" stroke-width="1.1"/>
<circle cx="112.60" cy="785.90" r="2.6" stroke="#111" fill="none" stroke-width="1.1"/>
<circle cx="112.60" cy="805.70" r="2.6" stroke="#111" fill="none" stroke-width="1.1"/>
<circle cx="112.60" cy="782.00" r="2.6" stroke="#111" fill="none" stroke-width="1.1"/>
<text transform="translate(31.5 798) rotate(-90)" font-size="14" font-weight="bold" text-anchor="middle" fill="#000">RMP <tspan font-weight="normal">(mV)</tspan></text>
<line x1="527.30" y1="766.70" x2="527.30" y2="866.70" stroke="#222" stroke-width="1.3"/>
<line x1="521.80" y1="866.70" x2="527.30" y2="866.70" stroke="#222" stroke-width="1.3"/>
<text x="519.30" y="871.30" font-size="13" font-weight="bold" text-anchor="end" fill="#111">0</text>
<line x1="521.80" y1="816.95" x2="527.30" y2="816.95" stroke="#222" stroke-width="1.3"/>
<text x="519.30" y="821.55" font-size="13" font-weight="bold" text-anchor="end" fill="#111">1</text>
<line x1="521.80" y1="767.20" x2="527.30" y2="767.20" stroke="#222" stroke-width="1.3"/>
<text x="519.30" y="771.80" font-size="13" font-weight="bold" text-anchor="end" fill="#111">2</text>
<text transform="translate(505.5 816.5) rotate(-90)" font-size="14" font-weight="bold" text-anchor="middle" fill="#000">Tryglyceride <tspan font-weight="normal" font-size="11">(510nm)</tspan></text>
<line x1="527.30" y1="866.70" x2="659.70" y2="866.70" stroke="#222" stroke-width="1.3"/>
<rect x="532.30" y="859.24" width="8.20" height="7.46" fill="#9a9a9a"/>
<circle cx="535.09" cy="859.19" r="2.1" stroke="#555" fill="none" stroke-width="0.8"/>
<circle cx="535.75" cy="859.46" r="2.1" stroke="#555" fill="none" stroke-width="0.8"/>
<circle cx="537.03" cy="857.03" r="2.1" stroke="#555" fill="none" stroke-width="0.8"/>
<circle cx="533.97" cy="860.51" r="2.1" stroke="#555" fill="none" stroke-width="0.8"/>
<circle cx="535.20" cy="857.79" r="2.1" stroke="#555" fill="none" stroke-width="0.8"/>
<line x1="533.90" y1="859.24" x2="538.90" y2="859.24" stroke="#111" stroke-width="1.2"/>
<rect x="544.80" y="851.28" width="8.20" height="15.42" fill="#8fb0dc"/>
<circle cx="551.38" cy="850.89" r="2.1" stroke="#555" fill="none" stroke-width="0.8"/>
<circle cx="550.58" cy="850.92" r="2.1" stroke="#555" fill="none" stroke-width="0.8"/>
<circle cx="549.60" cy="849.46" r="2.1" stroke="#555" fill="none" stroke-width="0.8"/>
<circle cx="549.57" cy="852.68" r="2.1" stroke="#555" fill="none" stroke-width="0.8"/>
<circle cx="549.02" cy="852.11" r="2.1" stroke="#555" fill="none" stroke-width="0.8"/>
<line x1="546.40" y1="851.28" x2="551.40" y2="851.28" stroke="#111" stroke-width="1.2"/>
<rect x="556.90" y="844.31" width="8.20" height="22.39" fill="#a874cc"/>
<circle cx="561.86" cy="842.10" r="2.1" stroke="#555" fill="none" stroke-width="0.8"/>
<circle cx="562.29" cy="844.47" r="2.1" stroke="#555" fill="none" stroke-width="0.8"/>
<circle cx="560.01" cy="841.95" r="2.1" stroke="#555" fill="none" stroke-width="0.8"/>
<circle cx="562.83" cy="843.94" r="2.1" stroke="#555" fill="none" stroke-width="0.8"/>
<circle cx="562.09" cy="845.77" r="2.1" stroke="#555" fill="none" stroke-width="0.8"/>
<line x1="558.50" y1="844.31" x2="563.50" y2="844.31" stroke="#111" stroke-width="1.2"/>
<line x1="536.40" y1="866.70" x2="536.40" y2="871.70" stroke="#222" stroke-width="1.2"/>
<line x1="548.90" y1="866.70" x2="548.90" y2="871.70" stroke="#222" stroke-width="1.2"/>
<line x1="561.00" y1="866.70" x2="561.00" y2="871.70" stroke="#222" stroke-width="1.2"/>
<text x="538.90" y="881.00" font-size="10.8" font-weight="bold" text-anchor="end" fill="#000" transform="rotate(-45 538.90 881.00)">ND</text>
<text x="550.40" y="884.50" font-size="10.8" font-weight="bold" text-anchor="end" fill="#000" transform="rotate(-45 550.40 884.50)">D3</text>
<text x="564.50" y="882.50" font-size="10.6" font-weight="bold" text-anchor="end" fill="#000" transform="rotate(-45 564.50 882.50)">D3 + Spadin</text>
<rect x="577.30" y="859.24" width="8.20" height="7.46" fill="#9a9a9a"/>
<circle cx="582.47" cy="860.88" r="2.1" stroke="#555" fill="none" stroke-width="0.8"/>
<circle cx="580.87" cy="860.34" r="2.1" stroke="#555" fill="none" stroke-width="0.8"/>
<circle cx="581.12" cy="860.95" r="2.1" stroke="#555" fill="none" stroke-width="0.8"/>
<circle cx="583.29" cy="857.18" r="2.1" stroke="#555" fill="none" stroke-width="0.8"/>
<circle cx="579.58" cy="857.71" r="2.1" stroke="#555" fill="none" stroke-width="0.8"/>
<line x1="578.90" y1="859.24" x2="583.90" y2="859.24" stroke="#111" stroke-width="1.2"/>
<rect x="589.10" y="839.34" width="8.20" height="27.36" fill="#8fb0dc"/>
<circle cx="595.53" cy="838.80" r="2.1" stroke="#555" fill="none" stroke-width="0.8"/>
<circle cx="593.83" cy="838.19" r="2.1" stroke="#555" fill="none" stroke-width="0.8"/>
<circle cx="593.24" cy="838.57" r="2.1" stroke="#555" fill="none" stroke-width="0.8"/>
<circle cx="592.45" cy="839.47" r="2.1" stroke="#555" fill="none" stroke-width="0.8"/>
<circle cx="593.62" cy="840.91" r="2.1" stroke="#555" fill="none" stroke-width="0.8"/>
<line x1="590.70" y1="839.34" x2="595.70" y2="839.34" stroke="#111" stroke-width="1.2"/>
<rect x="601.30" y="834.36" width="8.20" height="32.34" fill="#a874cc"/>
<circle cx="606.31" cy="836.04" r="2.1" stroke="#555" fill="none" stroke-width="0.8"/>
<circle cx="607.18" cy="836.32" r="2.1" stroke="#555" fill="none" stroke-width="0.8"/>
<circle cx="606.26" cy="832.60" r="2.1" stroke="#555" fill="none" stroke-width="0.8"/>
<circle cx="607.20" cy="836.20" r="2.1" stroke="#555" fill="none" stroke-width="0.8"/>
<circle cx="607.42" cy="834.42" r="2.1" stroke="#555" fill="none" stroke-width="0.8"/>
<line x1="602.90" y1="834.36" x2="607.90" y2="834.36" stroke="#111" stroke-width="1.2"/>
<line x1="581.40" y1="866.70" x2="581.40" y2="871.70" stroke="#222" stroke-width="1.2"/>
<line x1="593.20" y1="866.70" x2="593.20" y2="871.70" stroke="#222" stroke-width="1.2"/>
<line x1="605.40" y1="866.70" x2="605.40" y2="871.70" stroke="#222" stroke-width="1.2"/>
<text x="583.90" y="881.00" font-size="10.8" font-weight="bold" text-anchor="end" fill="#000" transform="rotate(-45 583.90 881.00)">ND</text>
<text x="594.70" y="884.50" font-size="10.8" font-weight="bold" text-anchor="end" fill="#000" transform="rotate(-45 594.70 884.50)">D5</text>
<text x="608.90" y="882.50" font-size="10.6" font-weight="bold" text-anchor="end" fill="#000" transform="rotate(-45 608.90 882.50)">D5 + Spadin</text>
<rect x="622.00" y="859.24" width="8.20" height="7.46" fill="#9a9a9a"/>
<circle cx="627.17" cy="857.69" r="2.1" stroke="#555" fill="none" stroke-width="0.8"/>
<circle cx="627.76" cy="859.32" r="2.1" stroke="#555" fill="none" stroke-width="0.8"/>
<circle cx="625.02" cy="857.02" r="2.1" stroke="#555" fill="none" stroke-width="0.8"/>
<circle cx="627.87" cy="861.19" r="2.1" stroke="#555" fill="none" stroke-width="0.8"/>
<circle cx="624.04" cy="860.34" r="2.1" stroke="#555" fill="none" stroke-width="0.8"/>
<line x1="623.60" y1="859.24" x2="628.60" y2="859.24" stroke="#111" stroke-width="1.2"/>
<rect x="634.10" y="797.05" width="8.20" height="69.65" fill="#8fb0dc"/>
<circle cx="637.75" cy="795.23" r="2.1" stroke="#555" fill="none" stroke-width="0.8"/>
<circle cx="637.17" cy="798.01" r="2.1" stroke="#555" fill="none" stroke-width="0.8"/>
<circle cx="640.06" cy="794.75" r="2.1" stroke="#555" fill="none" stroke-width="0.8"/>
<circle cx="638.77" cy="794.75" r="2.1" stroke="#555" fill="none" stroke-width="0.8"/>
<circle cx="639.29" cy="796.04" r="2.1" stroke="#555" fill="none" stroke-width="0.8"/>
<line x1="635.70" y1="797.05" x2="640.70" y2="797.05" stroke="#111" stroke-width="1.2"/>
<rect x="646.30" y="794.56" width="8.20" height="72.14" fill="#a874cc"/>
<circle cx="652.30" cy="796.48" r="2.1" stroke="#555" fill="none" stroke-width="0.8"/>
<circle cx="650.43" cy="796.56" r="2.1" stroke="#555" fill="none" stroke-width="0.8"/>
<circle cx="649.45" cy="792.41" r="2.1" stroke="#555" fill="none" stroke-width="0.8"/>
<circle cx="650.90" cy="792.20" r="2.1" stroke="#555" fill="none" stroke-width="0.8"/>
<circle cx="648.89" cy="793.90" r="2.1" stroke="#555" fill="none" stroke-width="0.8"/>
<line x1="647.90" y1="794.56" x2="652.90" y2="794.56" stroke="#111" stroke-width="1.2"/>
<line x1="626.10" y1="866.70" x2="626.10" y2="871.70" stroke="#222" stroke-width="1.2"/>
<line x1="638.20" y1="866.70" x2="638.20" y2="871.70" stroke="#222" stroke-width="1.2"/>
<line x1="650.40" y1="866.70" x2="650.40" y2="871.70" stroke="#222" stroke-width="1.2"/>
<text x="628.60" y="881.00" font-size="10.8" font-weight="bold" text-anchor="end" fill="#000" transform="rotate(-45 628.60 881.00)">ND</text>
<text x="639.70" y="884.50" font-size="10.8" font-weight="bold" text-anchor="end" fill="#000" transform="rotate(-45 639.70 884.50)">D7</text>
<text x="653.90" y="882.50" font-size="10.6" font-weight="bold" text-anchor="end" fill="#000" transform="rotate(-45 653.90 882.50)">D7 + Spadin</text>
<polyline points="536.40,849.30 536.40,768.80 548.90,768.80 548.90,844.28" stroke="#8a8a8a" stroke-width="1.1" fill="none"/>
<path d="M538.65,757.50V763.50M536.05,759.00L541.25,762.00M536.05,762.00L541.25,759.00M546.65,757.50V763.50M544.05,759.00L549.25,762.00M544.05,762.00L549.25,759.00" stroke="#111" stroke-width="1.4" fill="none"/>
<polyline points="548.90,749.10 548.90,738.30 561.00,738.30 561.00,749.10" stroke="#8a8a8a" stroke-width="1.1" fill="none"/>
<path d="M554.95,725.50V731.50M552.35,727.00L557.55,730.00M552.35,730.00L557.55,727.00" stroke="#111" stroke-width="1.4" fill="none"/>
<polyline points="536.40,749.10 536.40,705.40 561.00,705.40 561.00,714.60" stroke="#8a8a8a" stroke-width="1.1" fill="none"/>
<path d="M536.70,693.50V699.50M534.10,695.00L539.30,698.00M534.10,698.00L539.30,695.00M544.70,693.50V699.50M542.10,695.00L547.30,698.00M542.10,698.00L547.30,695.00M552.70,693.50V699.50M550.10,695.00L555.30,698.00M550.10,698.00L555.30,695.00M560.70,693.50V699.50M558.10,695.00L563.30,698.00M558.10,698.00L563.30,695.00" stroke="#111" stroke-width="1.4" fill="none"/>
<polyline points="581.40,849.30 581.40,768.80 593.20,768.80 593.20,832.34" stroke="#8a8a8a" stroke-width="1.1" fill="none"/>
<path d="M575.30,757.50V763.50M572.70,759.00L577.90,762.00M572.70,762.00L577.90,759.00M583.30,757.50V763.50M580.70,759.00L585.90,762.00M580.70,762.00L585.90,759.00M591.30,757.50V763.50M588.70,759.00L593.90,762.00M588.70,762.00L593.90,759.00M599.30,757.50V763.50M596.70,759.00L601.90,762.00M596.70,762.00L601.90,759.00" stroke="#111" stroke-width="1.4" fill="none"/>
<polyline points="593.20,749.10 593.20,738.30 605.40,738.30 605.40,749.10" stroke="#8a8a8a" stroke-width="1.1" fill="none"/>
<path d="M599.30,725.50V731.50M596.70,727.00L601.90,730.00M596.70,730.00L601.90,727.00" stroke="#111" stroke-width="1.4" fill="none"/>
<polyline points="581.40,749.10 581.40,705.40 605.40,705.40 605.40,714.60" stroke="#8a8a8a" stroke-width="1.1" fill="none"/>
<path d="M581.40,693.50V699.50M578.80,695.00L584.00,698.00M578.80,698.00L584.00,695.00M589.40,693.50V699.50M586.80,695.00L592.00,698.00M586.80,698.00L592.00,695.00M597.40,693.50V699.50M594.80,695.00L600.00,698.00M594.80,698.00L600.00,695.00M605.40,693.50V699.50M602.80,695.00L608.00,698.00M602.80,698.00L608.00,695.00" stroke="#111" stroke-width="1.4" fill="none"/>
<polyline points="626.10,849.30 626.10,768.80 638.20,768.80 638.20,781.00" stroke="#8a8a8a" stroke-width="1.1" fill="none"/>
<path d="M620.15,757.50V763.50M617.55,759.00L622.75,762.00M617.55,762.00L622.75,759.00M628.15,757.50V763.50M625.55,759.00L630.75,762.00M625.55,762.00L630.75,759.00M636.15,757.50V763.50M633.55,759.00L638.75,762.00M633.55,762.00L638.75,759.00M644.15,757.50V763.50M641.55,759.00L646.75,762.00M641.55,762.00L646.75,759.00" stroke="#111" stroke-width="1.4" fill="none"/>
<polyline points="638.20,749.10 638.20,738.30 650.40,738.30 650.40,749.10" stroke="#8a8a8a" stroke-width="1.1" fill="none"/>
<path d="M644.30,725.50V731.50M641.70,727.00L646.90,730.00M641.70,730.00L646.90,727.00" stroke="#111" stroke-width="1.4" fill="none"/>
<polyline points="626.10,749.10 626.10,705.40 650.40,705.40 650.40,714.60" stroke="#8a8a8a" stroke-width="1.1" fill="none"/>
<path d="M626.25,693.50V699.50M623.65,695.00L628.85,698.00M623.65,698.00L628.85,695.00M634.25,693.50V699.50M631.65,695.00L636.85,698.00M631.65,698.00L636.85,695.00M642.25,693.50V699.50M639.65,695.00L644.85,698.00M639.65,698.00L644.85,695.00M650.25,693.50V699.50M647.65,695.00L652.85,698.00M647.65,698.00L652.85,695.00" stroke="#111" stroke-width="1.4" fill="none"/>
<text x="232.10" y="700.00" font-size="15" font-weight="bold" text-anchor="middle" fill="#000">D3</text>
<text x="330.70" y="700.00" font-size="15" font-weight="bold" text-anchor="middle" fill="#000">D5</text>
<text x="427.90" y="700.00" font-size="15" font-weight="bold" text-anchor="middle" fill="#000">D7</text>
<text x="173.20" y="748.00" font-size="15.5" font-weight="bold" text-anchor="middle" fill="#000">ND</text>
<text x="173.30" y="812.50" font-size="15.5" font-weight="bold" text-anchor="middle" fill="#000">D</text>
<text x="177.00" y="875.70" font-size="15.5" font-weight="bold" text-anchor="middle" fill="#000" transform="rotate(-90 177.00 875.70)">+ Spadin</text>
<defs><filter id="bl" x="0" y="0" width="1" height="1"><feGaussianBlur stdDeviation="0.5"/></filter></defs>
<g filter="url(#bl)"><path stroke="rgb(205,205,205)" stroke-width="0.8" fill="none" d="M229.2 742.5l3.3 -0.4M233.2 748.9l3.2 -2.3M217.3 708.5l4.3 -0.3M199.5 711.3l2.5 -0.2M249.0 731.8l3.2 -2.1M224.1 733.9l2.7 0.9M248.8 763.8l4.4 -2.0M265.3 753.0l4.4 -1.8M217.7 716.1l3.0 0.1M248.8 720.0l2.6 -1.1M198.4 765.8l1.3 -2.0M258.2 766.5l2.5 -1.6M230.7 770.0l2.7 -4.0M236.5 733.4l2.6 -1.0M230.9 715.5l4.2 2.1M235.3 714.4l3.2 -2.1M242.8 764.1l2.4 -0.4M342.2 713.7l4.0 -0.5M339.2 756.4l2.6 -0.1M314.9 742.3l3.8 -1.3M364.1 759.4l2.0 -0.0M287.0 719.4l3.2 -2.7M308.3 766.6l3.5 -2.3M336.1 755.5l3.4 -0.3M360.1 746.5l3.3 -1.9M295.9 726.7l2.0 -1.2M338.2 753.6l3.1 -2.3M348.4 732.8l3.1 -2.2M334.0 750.6l4.2 -0.8M322.0 769.7l4.4 -0.6M361.7 728.2l3.2 -0.5M356.2 722.8l2.5 1.0M363.6 724.7l3.9 1.4M291.2 751.0l3.2 0.2M330.8 741.1l4.4 -0.1M345.2 731.6l2.1 -0.4M347.0 714.6l1.8 -2.0M327.1 760.8l2.8 0.0M332.7 745.6l3.3 -1.3M337.1 744.8l2.2 0.3M287.4 742.3l3.3 -0.1M313.8 760.2l3.1 0.3M295.3 738.0l3.2 -0.7M289.8 769.9l3.1 1.3M289.9 738.4l2.8 -1.4M303.9 717.5l2.6 0.3M359.3 724.6l3.4 0.9M337.9 719.2l2.5 -2.0M334.4 746.3l3.8 -0.5M320.0 735.7l2.1 -0.4M299.9 707.7l1.2 -1.6M351.6 717.6l2.0 -3.9M353.8 739.6l1.9 -0.9M333.9 733.4l2.1 -0.6M303.1 723.3l3.0 -1.1M291.6 756.8l3.3 -0.9M315.7 758.0l3.6 -0.6M355.1 769.6l3.7 -0.6M348.8 753.5l2.1 -2.0M349.7 755.5l3.0 -1.1M291.9 729.5l2.1 -0.2M280.3 753.2l3.7 -3.0M344.1 754.0l3.4 -2.1M282.2 746.7l2.8 -0.4M420.0 753.0l-0.5 -2.0M396.0 767.2l-0.6 -2.1M419.3 723.3l1.6 -3.3M418.4 740.6l2.2 -2.1M412.3 738.0l-0.1 -4.0M379.2 710.6l2.4 -2.7M448.0 756.8l1.7 -1.9M374.7 729.6l1.3 -3.6M413.7 727.1l-0.4 -4.1M403.6 739.1l0.9 -3.2M425.1 710.0l1.6 -2.4M387.0 761.8l1.0 -3.9M391.6 768.2l0.0 -3.5M380.4 761.7l1.1 -4.0M374.7 742.7l0.3 -4.6M426.9 746.8l1.2 -4.7M410.1 760.3l1.3 -4.0M390.2 718.8l0.9 -2.1M385.0 718.1l2.2 -2.4M406.3 756.8l0.4 -2.8M435.9 748.5l1.0 -3.8M394.4 727.7l-1.0 -2.4M411.2 752.7l0.1 -4.8M406.1 727.4l0.4 -2.7M421.0 750.4l1.5 -2.9M425.3 730.8l-1.2 -3.4M447.9 737.8l1.4 -3.8M450.6 735.3l0.6 -2.2M425.3 727.0l2.1 -4.2M374.1 748.3l2.3 -2.3M452.7 759.4l0.8 -3.1M425.1 731.0l1.9 -3.9M427.5 760.2l2.3 -3.4M423.6 740.9l0.6 -2.6M444.3 729.6l2.4 -4.2M438.3 726.7l-1.0 -1.8M384.2 740.7l-1.1 -4.3M433.2 763.5l0.7 -2.2M398.9 733.7l0.6 -3.6M420.8 743.0l0.7 -1.9M453.4 759.7l-0.9 -3.8M407.8 751.5l1.6 -4.5M429.3 717.2l2.3 -2.9M387.7 731.2l-2.1 -3.8M204.5 780.1l2.2 -0.0M193.3 827.4l2.5 0.6M262.5 791.1l3.4 -1.3M231.3 785.2l3.2 -1.0M215.8 781.3l3.2 -1.2M248.5 780.8l4.1 -1.6M255.9 795.5l3.0 -0.8M206.1 786.8l3.5 0.7M205.5 787.7l2.8 -0.5M229.5 834.3l4.4 -2.2M223.5 826.3l2.5 -3.5M222.7 788.5l2.1 -1.9M233.4 837.5l3.1 -1.0M220.2 775.9l3.6 -1.4M205.2 817.3l4.7 1.4M236.8 778.6l3.0 -1.9M208.2 812.6l2.3 -3.7M205.9 780.1l2.6 -3.4M249.7 798.2l4.4 -0.5M241.3 783.4l2.4 -1.6M244.0 780.2l2.5 -1.0M365.6 780.5l4.3 -0.7M353.7 791.5l1.8 -1.3M281.9 797.4l4.1 -2.6M300.9 822.3l3.4 1.9M316.4 811.2l3.7 0.4M289.4 792.6l3.5 -1.0M286.1 809.0l3.4 -2.5M335.9 775.3l3.9 -1.4M348.3 775.8l2.7 0.4M312.0 779.5l2.0 -0.5M315.3 806.1l3.5 -0.3M307.7 811.4l4.0 -2.6M328.2 790.4l3.0 -2.8M401.7 779.0l4.7 -0.3M383.3 819.4l3.5 -0.8M412.8 776.7l4.6 -0.3M413.6 790.7l4.0 -2.4M387.4 814.3l4.6 1.7M387.6 816.8l3.5 0.0M402.0 800.3l3.6 0.2M436.1 777.9l4.5 0.2M412.4 823.4l3.4 -2.1M401.5 838.0l1.9 -1.4M240.9 847.9l2.4 -1.8M228.1 866.3l2.0 -2.8M247.7 854.2l2.9 0.4M212.3 905.1l1.4 -2.8M216.9 905.2l1.6 1.5M215.2 877.5l3.0 1.4M198.4 889.2l3.3 -2.2M205.4 859.8l3.2 -0.8M224.0 893.7l2.8 -0.2M245.7 857.6l3.0 -0.8M205.5 894.1l3.7 0.0M237.8 845.1l2.7 -1.4M352.9 844.7l2.2 -2.7M357.3 857.0l4.3 -0.1M324.6 864.5l4.2 -2.7M313.5 905.7l3.6 -2.4M288.8 885.6l3.1 -1.3M335.4 845.8l2.7 -0.7M315.4 856.4l4.0 -2.0M308.9 885.1l4.3 0.8M371.6 902.7l3.3 -2.1"/><path stroke="rgb(170,170,170)" stroke-width="0.8" fill="none" d="M258.8 737.3l2.1 -1.0M196.3 709.8l3.7 -0.8M240.9 719.8l3.3 -2.1M238.2 735.5l4.8 -1.1M223.4 732.2l1.6 -1.2M197.2 713.2l2.0 -0.0M222.1 746.4l3.7 -3.2M264.1 719.0l2.9 -0.6M210.3 745.7l2.1 -1.3M243.0 712.2l4.7 -0.9M214.8 740.7l2.2 -0.3M237.1 753.6l4.4 0.1M218.6 749.2l3.9 0.0M258.8 754.7l3.8 -2.6M229.0 724.8l4.5 -0.2M236.1 709.9l1.9 -2.1M220.2 751.1l3.2 -0.2M214.2 765.0l4.4 0.2M196.4 757.5l3.0 -1.9M261.1 742.6l3.6 -0.3M242.4 726.6l4.4 -2.2M235.2 743.4l3.1 -0.8M215.0 752.8l3.8 -0.8M225.9 740.6l3.6 0.1M209.4 721.1l2.2 -1.5M253.5 758.2l2.5 -1.6M236.9 751.6l3.2 0.2M248.8 708.7l2.9 -2.3M297.3 764.8l4.5 -0.1M327.0 740.4l4.8 0.2M285.3 712.2l2.0 -1.2M312.4 751.9l2.8 0.6M354.4 760.3l4.7 0.6M334.6 718.8l3.2 -0.1M287.3 721.7l3.9 -3.0M348.5 759.1l2.8 0.1M326.6 726.2l2.7 -1.3M341.9 769.2l3.6 -1.0M356.7 735.8l2.1 -1.7M285.0 764.7l4.3 -2.0M366.3 758.6l2.3 -0.3M360.9 769.9l2.9 0.3M313.2 743.1l3.0 -0.3M321.1 714.2l2.2 -2.9M311.7 741.7l1.5 -2.2M343.2 709.1l2.1 0.5M314.2 729.8l1.7 -1.3M347.4 762.4l2.8 0.6M360.2 763.6l2.9 0.6M280.8 747.2l2.4 -2.7M295.2 721.7l3.3 2.1M281.9 756.9l4.9 0.6M304.9 759.2l3.7 -0.9M348.3 757.0l2.8 -0.1M284.0 735.6l2.4 1.7M282.1 714.7l2.2 -3.0M327.0 757.0l3.9 0.3M323.1 748.2l3.0 -0.8M315.4 730.3l4.1 -0.4M345.6 745.1l2.3 -0.7M286.1 709.7l2.8 0.7M316.0 713.0l3.0 0.6M308.9 768.8l1.7 -1.3M284.5 729.0l3.4 0.1M301.0 757.1l3.4 -0.5M324.3 743.0l2.7 -0.9M324.4 715.6l2.3 -1.8M319.0 731.1l3.6 -2.7M305.0 729.1l2.4 0.2M346.7 729.5l3.4 -1.0M282.1 751.7l4.0 1.5M288.5 708.8l3.3 -2.3M301.2 727.9l4.5 -1.5M339.2 719.1l4.5 -0.2M330.7 766.3l2.7 -0.6M291.8 743.6l3.0 -2.1M349.5 716.8l2.6 -3.7M356.5 734.6l2.6 -1.5M281.1 742.9l2.5 -1.4M351.9 723.4l4.7 1.0M331.5 724.1l4.2 -0.2M315.2 751.7l4.2 -1.4M392.7 745.9l2.4 -3.9M439.4 761.2l0.7 -3.8M401.3 727.7l1.1 -4.4M453.4 721.5l0.2 -3.8M386.2 744.6l0.0 -3.4M435.3 727.5l0.2 -3.4M379.5 708.9l0.6 -3.6M419.0 769.8l0.5 -2.8M404.2 742.1l-0.3 -2.2M385.5 736.6l1.3 -3.8M445.4 740.2l1.2 -2.5M439.0 752.8l1.7 -1.4M424.7 745.5l2.5 -2.4M412.7 755.4l0.5 -3.3M416.3 767.5l0.7 -2.5M375.3 759.1l-0.8 -2.7M422.4 763.5l0.7 -4.6M436.5 751.2l2.8 -2.6M441.1 748.5l0.3 -2.8M416.0 746.2l-0.8 -2.2M394.9 734.1l-0.0 -2.0M388.8 708.3l1.3 -3.2M383.9 728.4l3.3 -1.9M440.2 764.5l-0.1 -3.4M396.1 764.8l2.5 -3.5M384.1 736.2l0.5 -2.9M417.1 727.4l0.9 -3.7M427.3 761.8l1.7 -2.9M380.9 713.6l-0.9 -2.6M452.4 745.4l-0.4 -2.2M418.5 768.1l1.7 -4.5M388.4 715.1l1.3 -3.0M445.7 749.3l0.3 -4.5M379.8 708.5l1.5 -2.1M249.2 785.0l3.7 -2.7M206.2 835.9l4.5 -0.7M194.5 816.0l2.7 -0.2M223.2 782.0l2.7 -0.5M195.7 825.2l4.4 -0.0M230.0 793.3l3.8 -0.6M221.3 802.3l1.7 -1.2M216.7 788.5l3.6 -1.1M221.3 791.3l2.2 -1.0M238.8 785.1l3.2 -1.9M268.9 788.3l3.0 -1.2M202.6 807.0l3.4 -0.7M229.5 836.5l3.4 -0.7M268.4 790.5l3.7 -0.1M202.2 793.6l4.2 -1.1M233.7 791.3l2.8 -1.6M215.0 804.4l4.7 -1.1M292.3 830.7l3.3 -2.6M359.4 782.9l1.7 -1.1M321.7 834.7l4.2 -0.9M306.0 788.1l4.3 -1.0M293.0 816.8l3.4 0.5M318.3 800.8l4.7 0.6M313.6 822.0l4.5 -0.7M305.1 831.8l4.1 -2.0M301.4 774.0l3.4 -0.9M289.3 821.5l3.9 -1.2M303.0 833.9l3.0 -0.4M324.2 792.9l1.7 -1.4M308.1 794.3l4.9 -0.6M331.2 801.1l3.4 -2.7M399.4 777.4l2.4 -4.2M385.8 793.5l4.6 -2.1M401.0 805.2l2.4 0.7M372.7 822.4l2.2 -1.5M379.8 814.3l2.0 -0.4M404.4 790.6l4.0 -2.1M423.7 788.2l2.0 -0.4M386.7 838.2l2.1 0.9M441.7 791.5l2.3 -0.5M398.1 787.6l4.2 -1.3M209.6 852.3l3.1 -0.3M225.8 884.2l4.2 -0.1M220.6 868.8l2.6 -1.2M207.1 865.1l3.5 -0.7M192.5 871.4l4.1 -1.1M261.7 860.0l1.6 -1.2M246.7 858.6l3.7 2.8M195.6 875.4l4.1 0.3M195.7 899.7l4.3 -0.5M194.4 882.9l4.5 1.8M214.0 860.1l2.2 -0.8M214.9 883.4l2.5 -0.3M213.9 889.1l3.6 -2.0M331.5 857.4l3.9 -2.4M288.6 898.0l-0.2 -2.0M334.9 846.8l2.6 -2.0M361.0 866.7l4.6 -0.5M290.0 889.2l3.5 1.0M298.4 892.4l3.1 -1.9M346.9 868.0l2.9 -1.5M331.1 848.6l3.5 -2.2M304.0 904.9l4.7 -1.0M303.4 894.6l2.4 -1.3M302.9 875.3l4.7 0.2M387.0 876.3l3.3 0.9M417.8 848.9l4.0 -2.6M391.1 876.6l2.0 -1.0M381.0 872.7l2.3 -0.7M394.0 860.0l3.2 -0.8M371.7 905.8l4.3 1.3"/><path stroke="rgb(150,150,150)" stroke-width="0.8" fill="none" d="M216.6 713.3l3.2 -2.0M253.4 748.2l4.5 -0.1M210.4 725.6l3.7 -0.5M215.6 711.8l4.5 -0.7M191.0 720.7l3.4 0.3M275.0 745.2l2.1 -0.5M203.4 735.2l4.0 -1.7M226.6 714.1l3.4 -1.0M205.8 752.6l1.7 -1.6M202.8 709.8l2.6 -2.2M221.2 727.1l1.8 -1.0M252.7 727.5l1.9 -1.2M193.6 738.8l3.2 -2.2M242.4 712.6l5.0 0.2M230.0 741.4l2.4 -1.7M198.4 709.0l2.3 -2.6M266.6 710.1l4.6 -1.4M202.5 736.0l4.1 -1.4M213.5 756.2l4.9 -0.7M229.3 746.6l1.9 -2.5M273.9 713.8l2.3 1.3M251.6 708.6l1.9 -0.9M232.6 766.8l3.3 -2.7M222.8 741.2l3.4 -0.8M224.8 757.6l3.3 -1.1M269.1 715.7l2.1 -0.5M199.9 753.2l3.6 -2.8M250.2 762.4l2.5 -1.9M209.4 769.9l2.1 1.1M248.9 719.4l3.3 1.1M287.5 716.4l2.3 0.7M300.9 769.1l2.7 0.8M281.7 748.7l2.0 -1.4M295.7 741.8l2.4 -2.3M293.3 733.3l1.8 -1.6M361.0 710.9l4.2 -0.3M336.9 766.3l4.7 -1.7M344.8 743.0l2.2 -0.5M326.5 766.9l2.6 -1.2M300.1 766.8l3.5 -1.8M318.0 740.6l1.9 0.5M319.3 754.1l1.6 -1.2M313.9 722.5l2.5 -0.7M300.0 747.1l3.9 -1.9M327.9 751.3l4.5 1.4M344.0 762.4l4.5 -0.2M293.2 769.8l2.3 -1.1M310.6 741.2l3.1 0.9M354.3 718.3l2.4 -1.7M354.5 766.5l3.8 -1.2M341.2 723.2l2.0 -0.1M314.4 710.9l1.3 -2.6M323.6 743.0l1.9 -1.4M299.6 745.1l3.5 -0.3M436.2 727.9l0.7 -2.7M450.6 729.6l0.5 -2.2M400.9 741.1l1.6 -3.3M388.3 709.2l-0.6 -3.9M373.2 719.5l0.8 -3.4M375.9 738.4l1.1 -4.4M427.8 766.3l-0.7 -2.2M372.7 723.2l0.1 -2.7M395.4 723.9l0.2 -3.1M385.5 717.7l1.2 -3.2M414.2 769.4l2.8 -2.2M453.6 763.5l-0.4 -3.7M416.4 728.6l1.2 -1.6M431.2 765.3l0.5 -2.7M382.7 720.2l1.6 -3.9M397.7 714.8l-0.3 -4.8M425.1 733.5l-0.1 -2.7M394.3 764.9l0.8 -2.1M395.2 760.3l2.4 -4.3M405.3 744.3l1.1 -3.4M374.9 760.4l1.3 -3.5M402.6 754.2l0.5 -3.1M371.1 707.7l0.6 -3.8M424.6 736.9l0.5 -2.1M418.8 749.7l2.2 -2.2M402.1 714.6l0.2 -3.4M379.4 744.2l0.4 -2.4M429.5 761.3l1.2 -2.9M382.0 745.5l1.7 -4.7M380.8 751.4l0.7 -4.8M445.3 754.3l1.4 -3.4M399.0 716.6l1.2 -2.0M431.5 764.0l1.4 -4.2M411.6 720.0l1.4 -2.1M396.3 731.2l2.6 -3.2M377.9 754.3l0.8 -2.6M452.2 730.0l1.0 -2.2M438.5 713.2l1.6 -3.1M450.9 754.9l1.2 -3.2M378.8 762.8l-0.1 -3.0M247.9 780.0l3.5 -1.7M232.3 789.1l3.8 -1.5M233.8 819.0l4.4 1.6M257.2 792.7l3.2 -0.3M271.8 792.4l2.8 -3.2M268.3 792.8l1.6 -2.5M232.5 798.3l2.5 -1.0M223.1 795.0l3.0 -1.3M208.9 829.1l2.9 0.5M224.8 781.6l2.3 -0.1M203.4 836.8l2.9 -1.5M309.8 829.9l4.9 0.2M299.3 819.1l3.5 0.1M296.6 800.4l1.9 -0.7M286.2 808.9l1.8 1.5M318.1 779.5l4.5 0.2M352.3 784.2l4.7 -1.3M284.5 792.9l3.0 0.1M331.2 800.9l2.3 -2.9M309.3 804.0l2.6 -0.5M350.9 775.5l3.4 0.4M317.1 815.8l2.8 -1.9M314.6 807.8l4.0 -0.3M316.3 820.2l4.6 -0.3M321.5 799.2l2.2 -0.6M324.0 792.2l2.4 -0.8M313.6 801.8l2.5 -0.6M392.3 788.2l2.2 -0.2M387.2 786.8l3.0 -1.3M383.8 800.9l3.0 1.1M387.3 800.4l2.4 -1.0M216.8 862.5l2.6 -1.7M224.7 884.6l3.4 -0.7M244.5 848.0l3.7 -1.6M216.2 869.1l4.4 -1.7M202.1 845.8l2.7 -0.3M272.9 850.1l3.3 -2.4M211.6 843.0l2.8 -3.6M202.0 879.4l4.1 -2.5M214.7 905.1l1.8 -1.5M233.1 844.9l1.7 -1.5M298.7 856.3l5.0 -0.1M283.0 872.8l2.4 -1.3M354.4 852.2l4.6 -0.4M317.1 854.4l3.9 -2.4M422.8 849.6l1.6 -1.2M407.0 856.0l2.6 -1.7"/><path stroke="rgb(190,190,190)" stroke-width="0.8" fill="none" d="M269.6 712.8l2.9 -0.1M197.2 746.9l2.9 -0.9M263.9 768.4l5.0 -0.2M208.2 708.6l3.1 -0.8M202.7 735.7l3.6 -1.7M212.6 708.3l1.7 -1.7M242.6 739.9l2.3 -3.2M223.3 740.0l4.1 0.0M218.0 759.3l3.6 -2.9M194.5 751.8l2.8 -0.7M236.2 747.5l4.8 -0.7M273.5 741.1l1.9 -2.1M262.2 742.5l3.7 1.6M211.2 752.9l1.6 -2.7M221.5 751.6l3.4 0.8M286.7 754.3l2.0 -0.4M292.7 746.8l4.7 -1.2M317.4 755.7l3.8 -2.8M308.6 713.3l2.7 -0.6M358.0 722.6l3.9 -2.2M281.5 764.2l4.1 0.8M331.7 754.5l3.9 -2.6M282.1 763.7l3.0 0.3M290.0 750.7l2.4 0.9M300.0 749.1l2.5 -1.9M331.1 721.9l3.0 -3.6M345.6 722.9l4.2 -0.5M285.0 756.1l2.8 -1.0M340.3 758.7l4.3 -0.6M314.5 744.7l2.5 -2.3M283.5 724.9l2.6 -2.9M311.0 717.2l2.4 -0.5M354.3 731.4l4.0 -1.6M291.3 751.7l2.9 -0.2M291.4 739.9l2.5 -0.9M321.7 708.3l3.0 -2.7M285.3 760.8l3.7 1.6M349.8 737.4l2.1 -3.5M330.7 736.9l4.6 -0.8M307.7 730.9l2.7 -0.6M291.3 739.2l3.3 -1.1M332.4 724.4l3.9 -1.0M346.4 712.5l2.5 -1.2M305.1 733.5l3.7 -2.1M349.2 732.1l3.1 0.5M316.2 751.7l3.5 -2.7M290.4 731.1l2.6 -0.6M349.5 759.9l2.5 -0.9M286.5 720.1l3.7 -0.3M292.7 708.0l4.0 0.2M303.1 709.1l1.2 -1.8M285.0 730.3l4.4 -0.5M342.9 739.2l4.4 -0.1M311.3 747.4l2.9 0.6M297.9 754.0l4.0 -0.8M297.3 762.5l2.0 -1.0M331.0 743.7l3.3 -0.1M285.5 731.9l4.6 -0.9M284.2 746.1l4.7 0.2M307.8 741.1l4.8 -1.1M440.9 732.0l-0.3 -4.2M396.1 750.8l0.3 -4.5M404.2 732.8l1.9 -3.4M447.6 756.8l0.7 -3.8M374.7 717.1l0.7 -2.1M445.0 747.8l2.9 -3.3M375.1 709.3l-1.4 -3.4M422.4 719.7l1.3 -4.6M384.4 757.5l3.3 -3.4M380.0 748.4l0.3 -2.8M443.2 728.9l1.7 -1.6M443.3 730.2l0.9 -4.9M453.4 724.0l1.6 -3.1M421.6 741.4l-0.1 -2.6M448.9 716.3l-1.6 -3.7M427.5 768.4l-0.3 -3.3M421.2 739.4l0.6 -2.1M409.0 739.2l-0.1 -3.2M414.0 741.7l2.2 -1.6M409.9 742.6l1.9 -4.0M424.3 757.7l2.0 -2.8M410.0 738.0l-0.1 -2.1M396.0 727.4l3.0 -3.6M384.4 767.4l0.8 -2.2M382.7 718.1l0.5 -3.8M434.3 718.9l-0.5 -3.5M388.0 736.5l-0.4 -2.1M371.4 760.2l0.4 -2.2M394.8 760.4l-0.4 -3.3M401.9 736.0l1.8 -4.6M373.5 727.4l0.7 -2.2M428.3 746.2l0.4 -2.5M226.4 819.2l2.1 -0.2M216.1 825.0l3.1 0.2M215.2 824.8l2.5 -1.7M250.2 799.1l3.6 -0.7M241.7 781.6l2.5 -0.3M244.7 778.9l3.1 -2.8M191.8 785.2l4.9 0.2M197.4 829.5l4.4 -1.8M206.1 837.5l3.8 -0.0M207.3 802.3l4.2 0.6M195.8 792.5l1.9 -1.3M205.3 815.0l1.9 -1.3M197.4 801.5l1.8 -1.2M223.6 783.4l2.0 -1.0M284.9 813.0l3.8 -1.0M297.4 780.5l2.4 -0.7M351.1 782.1l3.0 -1.0M289.5 781.8l4.0 -1.1M353.4 794.6l4.3 -2.0M295.7 827.2l2.2 -1.2M289.7 788.4l3.2 0.2M296.3 783.0l2.6 0.2M321.2 803.6l2.0 -1.4M346.9 800.1l3.6 -0.5M320.0 823.5l3.5 0.7M323.7 811.3l3.3 -0.8M304.0 810.8l3.9 -0.0M382.9 780.8l2.9 0.4M377.2 826.6l2.6 -1.8M430.9 787.5l2.4 -0.6M374.2 793.3l3.8 0.0M216.2 887.5l4.4 -1.3M218.6 843.0l4.4 -0.7M204.2 872.6l1.4 -1.7M228.1 880.9l2.3 -1.2M229.6 855.5l3.2 -1.5M200.7 861.9l2.3 1.4M220.3 868.2l3.4 0.5M267.6 855.2l2.1 -0.6M300.1 898.0l3.0 -1.2M317.6 848.2l3.8 1.5M335.0 861.3l4.0 -1.3M283.1 865.3l2.6 -1.6M299.5 890.7l2.1 0.5M302.4 869.6l3.4 0.1M364.9 843.6l2.4 -1.5M318.6 864.1l3.6 -1.6M342.6 860.1l4.3 -1.5M286.2 867.0l2.5 -0.3M303.2 873.1l3.0 0.2M353.4 867.1l2.0 0.1M323.4 865.6l3.3 -1.3M347.2 850.8l2.4 -0.1M412.0 903.9l2.4 -1.0M447.6 844.6l3.9 -1.6M446.8 844.7l3.5 -2.4M408.2 900.7l2.1 -1.9M385.7 880.2l3.8 -0.7M388.2 863.3l3.9 -2.0"/><path fill="rgb(140,140,140)" d="M206 720h1v1h-1zM221 731h1v1h-1zM220 750h1v1h-1zM253 723h1v1h-1zM203 769h1v1h-1zM222 755h1v1h-1zM273 755h1v1h-1zM214 746h1v1h-1zM245 756h1v1h-1zM273 739h1v1h-1zM196 712h1v1h-1zM260 736h1v1h-1zM215 756h1v1h-1zM230 721h1v1h-1zM260 742h1v1h-1zM269 712h1v1h-1zM261 728h1v1h-1zM227 734h1v1h-1zM247 757h1v1h-1zM242 721h1v1h-1zM259 710h1v1h-1zM368 733h1v1h-1zM300 762h1v1h-1zM296 725h1v1h-1zM360 711h1v1h-1zM327 727h1v1h-1zM355 768h1v1h-1zM341 718h1v1h-1zM334 730h1v1h-1zM279 711h1v1h-1zM314 755h1v1h-1zM305 752h1v1h-1zM328 713h1v1h-1zM338 758h1v1h-1zM294 713h1v1h-1zM355 713h1v1h-1zM291 744h1v1h-1zM316 707h1v1h-1zM314 726h1v1h-1zM308 739h1v1h-1zM279 745h1v1h-1zM308 727h1v1h-1zM336 708h1v1h-1zM294 712h1v1h-1zM325 738h1v1h-1zM361 711h1v1h-1zM313 714h1v1h-1zM351 713h1v1h-1zM289 757h1v1h-1zM288 730h1v1h-1zM350 768h1v1h-1zM358 717h1v1h-1zM334 742h1v1h-1zM319 731h1v1h-1zM291 734h1v1h-1zM298 724h1v1h-1zM367 769h1v1h-1zM363 712h1v1h-1zM316 716h1v1h-1zM278 711h1v1h-1zM326 730h1v1h-1zM363 734h1v1h-1zM298 767h1v1h-1zM325 755h1v1h-1zM286 757h1v1h-1zM318 710h1v1h-1zM368 732h1v1h-1zM316 750h1v1h-1zM297 764h1v1h-1zM363 729h1v1h-1zM296 715h1v1h-1zM292 764h1v1h-1zM362 770h1v1h-1zM294 755h1v1h-1zM309 766h1v1h-1zM340 747h1v1h-1zM300 745h1v1h-1zM351 771h1v1h-1zM352 759h1v1h-1zM289 738h1v1h-1zM368 747h1v1h-1zM280 717h1v1h-1zM321 755h1v1h-1zM367 769h1v1h-1zM341 735h1v1h-1zM369 739h1v1h-1zM283 753h1v1h-1zM345 747h1v1h-1zM345 763h1v1h-1zM385 771h1v1h-1zM414 758h1v1h-1zM451 768h1v1h-1zM454 720h1v1h-1zM384 771h1v1h-1zM441 745h1v1h-1zM429 708h1v1h-1zM410 708h1v1h-1zM424 771h1v1h-1zM444 757h1v1h-1zM439 729h1v1h-1zM400 725h1v1h-1zM443 771h1v1h-1zM409 735h1v1h-1zM412 740h1v1h-1zM398 757h1v1h-1zM453 726h1v1h-1zM429 761h1v1h-1zM374 731h1v1h-1zM391 762h1v1h-1zM416 753h1v1h-1zM430 721h1v1h-1zM381 762h1v1h-1zM446 732h1v1h-1zM385 754h1v1h-1zM426 759h1v1h-1zM412 708h1v1h-1zM442 759h1v1h-1zM436 738h1v1h-1zM396 743h1v1h-1zM419 733h1v1h-1zM429 754h1v1h-1zM423 763h1v1h-1zM405 767h1v1h-1zM436 723h1v1h-1zM433 757h1v1h-1zM391 713h1v1h-1zM447 737h1v1h-1zM401 768h1v1h-1zM422 768h1v1h-1zM445 754h1v1h-1zM429 743h1v1h-1zM430 751h1v1h-1zM371 750h1v1h-1zM423 742h1v1h-1zM413 765h1v1h-1zM415 729h1v1h-1zM397 756h1v1h-1zM396 708h1v1h-1zM385 753h1v1h-1zM377 758h1v1h-1zM395 717h1v1h-1zM425 768h1v1h-1zM418 769h1v1h-1zM379 737h1v1h-1zM397 739h1v1h-1zM421 766h1v1h-1zM406 735h1v1h-1zM414 752h1v1h-1zM391 738h1v1h-1zM398 737h1v1h-1zM444 712h1v1h-1zM371 738h1v1h-1zM376 722h1v1h-1zM410 708h1v1h-1zM446 771h1v1h-1zM423 735h1v1h-1zM426 742h1v1h-1zM258 797h1v1h-1zM198 815h1v1h-1zM196 787h1v1h-1zM223 813h1v1h-1zM196 777h1v1h-1zM216 794h1v1h-1zM214 780h1v1h-1zM248 777h1v1h-1zM267 777h1v1h-1zM226 796h1v1h-1zM206 824h1v1h-1zM209 841h1v1h-1zM219 797h1v1h-1zM232 817h1v1h-1zM212 822h1v1h-1zM240 799h1v1h-1zM221 782h1v1h-1zM200 803h1v1h-1zM256 780h1v1h-1zM221 839h1v1h-1zM233 832h1v1h-1zM224 831h1v1h-1zM227 827h1v1h-1zM268 801h1v1h-1zM260 791h1v1h-1zM221 813h1v1h-1zM195 817h1v1h-1zM269 777h1v1h-1zM358 777h1v1h-1zM283 790h1v1h-1zM354 775h1v1h-1zM323 799h1v1h-1zM366 777h1v1h-1zM323 831h1v1h-1zM317 780h1v1h-1zM338 792h1v1h-1zM321 804h1v1h-1zM310 833h1v1h-1zM300 828h1v1h-1zM302 812h1v1h-1zM315 837h1v1h-1zM302 817h1v1h-1zM329 781h1v1h-1zM301 782h1v1h-1zM320 787h1v1h-1zM315 823h1v1h-1zM280 826h1v1h-1zM289 837h1v1h-1zM363 784h1v1h-1zM326 788h1v1h-1zM349 781h1v1h-1zM392 776h1v1h-1zM385 805h1v1h-1zM454 787h1v1h-1zM394 789h1v1h-1zM407 813h1v1h-1zM407 825h1v1h-1zM393 778h1v1h-1zM411 785h1v1h-1zM372 774h1v1h-1zM445 796h1v1h-1zM400 791h1v1h-1zM372 808h1v1h-1zM445 782h1v1h-1zM405 830h1v1h-1zM426 778h1v1h-1zM401 780h1v1h-1zM412 837h1v1h-1zM408 804h1v1h-1zM192 887h1v1h-1zM268 848h1v1h-1zM220 858h1v1h-1zM211 851h1v1h-1zM214 859h1v1h-1zM202 874h1v1h-1zM214 889h1v1h-1zM212 897h1v1h-1zM284 865h1v1h-1zM300 891h1v1h-1zM333 859h1v1h-1zM302 863h1v1h-1zM310 905h1v1h-1zM311 856h1v1h-1zM293 891h1v1h-1zM324 893h1v1h-1zM328 863h1v1h-1zM309 897h1v1h-1zM297 907h1v1h-1zM282 886h1v1h-1zM284 861h1v1h-1zM282 861h1v1h-1zM309 843h1v1h-1zM295 868h1v1h-1zM291 856h1v1h-1zM297 863h1v1h-1zM283 862h1v1h-1zM312 907h1v1h-1zM318 856h1v1h-1zM310 902h1v1h-1zM343 866h1v1h-1zM298 885h1v1h-1zM346 854h1v1h-1zM328 851h1v1h-1zM350 864h1v1h-1zM334 854h1v1h-1zM402 899h1v1h-1zM385 904h1v1h-1zM427 848h1v1h-1zM442 843h1v1h-1zM388 874h1v1h-1zM387 867h1v1h-1zM440 859h1v1h-1zM388 886h1v1h-1z"/><path fill="rgb(110,110,110)" d="M277 767h1v1h-1zM208 731h1v1h-1zM243 713h1v1h-1zM260 723h1v1h-1zM277 766h1v1h-1zM276 708h1v1h-1zM275 744h1v1h-1zM246 760h1v1h-1zM238 750h1v1h-1zM248 756h1v1h-1zM191 723h1v1h-1zM230 720h1v1h-1zM267 709h1v1h-1zM191 724h1v1h-1zM220 755h1v1h-1zM227 731h1v1h-1zM230 728h1v1h-1zM216 757h1v1h-1zM217 766h1v1h-1zM247 728h1v1h-1zM197 761h1v1h-1zM261 721h1v1h-1zM238 744h1v1h-1zM247 759h1v1h-1zM241 727h1v1h-1zM219 724h1v1h-1zM233 742h1v1h-1zM265 759h1v1h-1zM268 769h1v1h-1zM236 753h1v1h-1zM227 726h1v1h-1zM270 756h1v1h-1zM241 766h1v1h-1zM270 729h1v1h-1zM232 721h1v1h-1zM347 765h1v1h-1zM368 711h1v1h-1zM356 757h1v1h-1zM294 745h1v1h-1zM348 720h1v1h-1zM304 715h1v1h-1zM290 764h1v1h-1zM314 725h1v1h-1zM353 762h1v1h-1zM368 760h1v1h-1zM339 717h1v1h-1zM322 749h1v1h-1zM318 722h1v1h-1zM287 759h1v1h-1zM364 765h1v1h-1zM288 734h1v1h-1zM349 713h1v1h-1zM285 722h1v1h-1zM315 747h1v1h-1zM293 741h1v1h-1zM315 739h1v1h-1zM330 739h1v1h-1zM319 710h1v1h-1zM315 721h1v1h-1zM345 731h1v1h-1zM355 720h1v1h-1zM337 731h1v1h-1zM304 751h1v1h-1zM350 749h1v1h-1zM316 751h1v1h-1zM351 736h1v1h-1zM339 742h1v1h-1zM342 733h1v1h-1zM308 716h1v1h-1zM348 728h1v1h-1zM342 733h1v1h-1zM310 733h1v1h-1zM359 712h1v1h-1zM330 767h1v1h-1zM306 707h1v1h-1zM357 711h1v1h-1zM367 751h1v1h-1zM318 751h1v1h-1zM362 764h1v1h-1zM316 738h1v1h-1zM341 709h1v1h-1zM356 768h1v1h-1zM365 709h1v1h-1zM305 726h1v1h-1zM341 741h1v1h-1zM332 744h1v1h-1zM339 758h1v1h-1zM312 730h1v1h-1zM361 743h1v1h-1zM322 760h1v1h-1zM283 709h1v1h-1zM317 717h1v1h-1zM291 753h1v1h-1zM344 751h1v1h-1zM306 719h1v1h-1zM347 741h1v1h-1zM286 721h1v1h-1zM293 728h1v1h-1zM328 725h1v1h-1zM351 739h1v1h-1zM321 719h1v1h-1zM342 729h1v1h-1zM284 716h1v1h-1zM304 736h1v1h-1zM351 723h1v1h-1zM317 743h1v1h-1zM363 749h1v1h-1zM357 757h1v1h-1zM299 753h1v1h-1zM299 747h1v1h-1zM321 752h1v1h-1zM337 751h1v1h-1zM308 767h1v1h-1zM284 713h1v1h-1zM300 728h1v1h-1zM332 734h1v1h-1zM326 719h1v1h-1zM303 759h1v1h-1zM365 765h1v1h-1zM368 764h1v1h-1zM412 712h1v1h-1zM439 724h1v1h-1zM450 746h1v1h-1zM388 765h1v1h-1zM440 733h1v1h-1zM421 760h1v1h-1zM408 739h1v1h-1zM402 736h1v1h-1zM378 747h1v1h-1zM396 726h1v1h-1zM391 759h1v1h-1zM433 708h1v1h-1zM408 741h1v1h-1zM428 737h1v1h-1zM442 761h1v1h-1zM422 715h1v1h-1zM433 711h1v1h-1zM381 743h1v1h-1zM397 708h1v1h-1zM451 771h1v1h-1zM427 713h1v1h-1zM434 714h1v1h-1zM419 711h1v1h-1zM430 731h1v1h-1zM408 760h1v1h-1zM427 710h1v1h-1zM428 746h1v1h-1zM394 752h1v1h-1zM420 755h1v1h-1zM445 755h1v1h-1zM400 723h1v1h-1zM403 711h1v1h-1zM448 730h1v1h-1zM389 754h1v1h-1zM431 709h1v1h-1zM450 751h1v1h-1zM388 767h1v1h-1zM375 717h1v1h-1zM377 708h1v1h-1zM379 709h1v1h-1zM376 726h1v1h-1zM370 767h1v1h-1zM378 742h1v1h-1zM406 710h1v1h-1zM406 769h1v1h-1zM412 720h1v1h-1zM439 769h1v1h-1zM379 714h1v1h-1zM441 767h1v1h-1zM372 729h1v1h-1zM443 768h1v1h-1zM447 729h1v1h-1zM428 722h1v1h-1zM415 746h1v1h-1zM411 769h1v1h-1zM403 712h1v1h-1zM428 743h1v1h-1zM444 742h1v1h-1zM378 763h1v1h-1zM400 740h1v1h-1zM378 771h1v1h-1zM411 730h1v1h-1zM394 745h1v1h-1zM414 718h1v1h-1zM434 771h1v1h-1zM379 709h1v1h-1zM438 723h1v1h-1zM383 748h1v1h-1zM404 762h1v1h-1zM415 719h1v1h-1zM385 766h1v1h-1zM414 711h1v1h-1zM376 772h1v1h-1zM227 793h1v1h-1zM212 807h1v1h-1zM204 788h1v1h-1zM222 809h1v1h-1zM203 835h1v1h-1zM197 795h1v1h-1zM241 774h1v1h-1zM191 831h1v1h-1zM227 812h1v1h-1zM213 808h1v1h-1zM200 821h1v1h-1zM277 800h1v1h-1zM211 827h1v1h-1zM204 836h1v1h-1zM236 800h1v1h-1zM193 774h1v1h-1zM233 809h1v1h-1zM219 803h1v1h-1zM230 838h1v1h-1zM202 779h1v1h-1zM228 784h1v1h-1zM318 793h1v1h-1zM336 781h1v1h-1zM285 776h1v1h-1zM288 820h1v1h-1zM283 797h1v1h-1zM298 837h1v1h-1zM357 787h1v1h-1zM316 821h1v1h-1zM311 803h1v1h-1zM359 789h1v1h-1zM308 800h1v1h-1zM310 814h1v1h-1zM300 823h1v1h-1zM298 811h1v1h-1zM295 814h1v1h-1zM358 777h1v1h-1zM287 826h1v1h-1zM293 838h1v1h-1zM348 793h1v1h-1zM306 836h1v1h-1zM302 799h1v1h-1zM369 785h1v1h-1zM347 783h1v1h-1zM330 777h1v1h-1zM335 784h1v1h-1zM309 815h1v1h-1zM317 791h1v1h-1zM368 777h1v1h-1zM321 824h1v1h-1zM366 775h1v1h-1zM293 783h1v1h-1zM301 791h1v1h-1zM411 809h1v1h-1zM377 809h1v1h-1zM393 790h1v1h-1zM456 790h1v1h-1zM407 789h1v1h-1zM376 830h1v1h-1zM426 774h1v1h-1zM432 797h1v1h-1zM410 780h1v1h-1zM409 787h1v1h-1zM434 783h1v1h-1zM424 778h1v1h-1zM386 802h1v1h-1zM386 818h1v1h-1zM399 826h1v1h-1zM446 800h1v1h-1zM440 775h1v1h-1zM384 823h1v1h-1zM239 847h1v1h-1zM211 844h1v1h-1zM217 849h1v1h-1zM204 900h1v1h-1zM207 902h1v1h-1zM226 888h1v1h-1zM246 847h1v1h-1zM204 880h1v1h-1zM227 905h1v1h-1zM276 849h1v1h-1zM193 893h1v1h-1zM211 886h1v1h-1zM232 876h1v1h-1zM215 907h1v1h-1zM206 907h1v1h-1zM206 899h1v1h-1zM220 908h1v1h-1zM261 854h1v1h-1zM196 902h1v1h-1zM309 874h1v1h-1zM336 861h1v1h-1zM292 865h1v1h-1zM284 901h1v1h-1zM316 880h1v1h-1zM296 851h1v1h-1zM296 876h1v1h-1zM353 850h1v1h-1zM336 852h1v1h-1zM310 867h1v1h-1zM321 845h1v1h-1zM325 852h1v1h-1zM295 869h1v1h-1zM449 849h1v1h-1zM382 842h1v1h-1zM420 854h1v1h-1zM424 861h1v1h-1zM432 846h1v1h-1zM443 853h1v1h-1zM402 861h1v1h-1zM384 882h1v1h-1zM396 860h1v1h-1z"/><path fill="rgb(185,185,185)" d="M241 715h1v1h-1zM197 713h1v1h-1zM231 740h1v1h-1zM264 718h1v1h-1zM218 712h1v1h-1zM255 757h1v1h-1zM257 757h1v1h-1zM237 732h1v1h-1zM246 752h1v1h-1zM255 723h1v1h-1zM234 756h1v1h-1zM269 743h1v1h-1zM224 768h1v1h-1zM231 718h1v1h-1zM237 746h1v1h-1zM273 734h1v1h-1zM245 733h1v1h-1zM195 727h1v1h-1zM196 766h1v1h-1zM194 713h1v1h-1zM243 714h1v1h-1zM229 750h1v1h-1zM243 748h1v1h-1zM229 755h1v1h-1zM228 744h1v1h-1zM222 732h1v1h-1zM199 760h1v1h-1zM252 766h1v1h-1zM211 717h1v1h-1zM250 728h1v1h-1zM209 722h1v1h-1zM245 768h1v1h-1zM265 738h1v1h-1zM209 715h1v1h-1zM345 727h1v1h-1zM320 742h1v1h-1zM285 743h1v1h-1zM358 711h1v1h-1zM289 718h1v1h-1zM281 751h1v1h-1zM329 772h1v1h-1zM336 734h1v1h-1zM364 729h1v1h-1zM340 736h1v1h-1zM319 711h1v1h-1zM366 770h1v1h-1zM369 711h1v1h-1zM325 745h1v1h-1zM312 716h1v1h-1zM339 770h1v1h-1zM349 714h1v1h-1zM349 723h1v1h-1zM321 771h1v1h-1zM351 714h1v1h-1zM302 714h1v1h-1zM298 712h1v1h-1zM322 722h1v1h-1zM332 759h1v1h-1zM369 739h1v1h-1zM331 707h1v1h-1zM313 736h1v1h-1zM362 720h1v1h-1zM292 725h1v1h-1zM281 735h1v1h-1zM297 753h1v1h-1zM323 752h1v1h-1zM313 759h1v1h-1zM319 745h1v1h-1zM311 745h1v1h-1zM313 753h1v1h-1zM367 766h1v1h-1zM337 742h1v1h-1zM326 730h1v1h-1zM367 761h1v1h-1zM310 721h1v1h-1zM292 723h1v1h-1zM309 758h1v1h-1zM358 754h1v1h-1zM303 741h1v1h-1zM305 758h1v1h-1zM310 772h1v1h-1zM321 719h1v1h-1zM367 708h1v1h-1zM365 708h1v1h-1zM293 716h1v1h-1zM336 707h1v1h-1zM329 739h1v1h-1zM341 750h1v1h-1zM303 744h1v1h-1zM284 727h1v1h-1zM304 710h1v1h-1zM362 749h1v1h-1zM321 749h1v1h-1zM346 750h1v1h-1zM330 768h1v1h-1zM288 721h1v1h-1zM326 769h1v1h-1zM298 767h1v1h-1zM361 712h1v1h-1zM342 736h1v1h-1zM328 707h1v1h-1zM315 749h1v1h-1zM301 744h1v1h-1zM280 711h1v1h-1zM365 762h1v1h-1zM309 708h1v1h-1zM319 731h1v1h-1zM434 726h1v1h-1zM450 721h1v1h-1zM399 739h1v1h-1zM406 733h1v1h-1zM382 756h1v1h-1zM380 748h1v1h-1zM371 721h1v1h-1zM453 733h1v1h-1zM385 745h1v1h-1zM451 715h1v1h-1zM386 732h1v1h-1zM431 720h1v1h-1zM454 753h1v1h-1zM374 711h1v1h-1zM374 745h1v1h-1zM436 731h1v1h-1zM410 720h1v1h-1zM442 716h1v1h-1zM453 760h1v1h-1zM410 765h1v1h-1zM430 730h1v1h-1zM441 714h1v1h-1zM414 724h1v1h-1zM441 715h1v1h-1zM444 739h1v1h-1zM398 718h1v1h-1zM453 756h1v1h-1zM431 728h1v1h-1zM384 745h1v1h-1zM397 719h1v1h-1zM391 717h1v1h-1zM449 767h1v1h-1zM445 710h1v1h-1zM408 715h1v1h-1zM441 724h1v1h-1zM374 748h1v1h-1zM456 722h1v1h-1zM377 759h1v1h-1zM421 736h1v1h-1zM429 759h1v1h-1zM447 719h1v1h-1zM397 720h1v1h-1zM410 712h1v1h-1zM444 737h1v1h-1zM380 712h1v1h-1zM411 720h1v1h-1zM372 759h1v1h-1zM420 728h1v1h-1zM422 725h1v1h-1zM372 733h1v1h-1zM415 718h1v1h-1zM411 716h1v1h-1zM395 731h1v1h-1zM401 716h1v1h-1zM438 735h1v1h-1zM407 770h1v1h-1zM417 720h1v1h-1zM445 714h1v1h-1zM441 707h1v1h-1zM422 724h1v1h-1zM401 735h1v1h-1zM403 772h1v1h-1zM405 744h1v1h-1zM454 758h1v1h-1zM398 751h1v1h-1zM387 739h1v1h-1zM387 724h1v1h-1zM408 742h1v1h-1zM371 731h1v1h-1zM392 707h1v1h-1zM410 745h1v1h-1zM372 727h1v1h-1zM418 713h1v1h-1zM422 756h1v1h-1zM402 707h1v1h-1zM427 710h1v1h-1zM437 725h1v1h-1zM410 748h1v1h-1zM391 747h1v1h-1zM436 760h1v1h-1zM397 761h1v1h-1zM390 759h1v1h-1zM232 773h1v1h-1zM218 823h1v1h-1zM221 785h1v1h-1zM209 798h1v1h-1zM190 787h1v1h-1zM228 828h1v1h-1zM222 777h1v1h-1zM274 782h1v1h-1zM229 831h1v1h-1zM209 786h1v1h-1zM192 796h1v1h-1zM218 824h1v1h-1zM233 803h1v1h-1zM201 803h1v1h-1zM267 786h1v1h-1zM198 801h1v1h-1zM197 796h1v1h-1zM293 805h1v1h-1zM297 774h1v1h-1zM313 829h1v1h-1zM285 787h1v1h-1zM312 837h1v1h-1zM306 799h1v1h-1zM303 837h1v1h-1zM320 822h1v1h-1zM350 794h1v1h-1zM298 792h1v1h-1zM301 825h1v1h-1zM323 774h1v1h-1zM302 819h1v1h-1zM315 801h1v1h-1zM327 774h1v1h-1zM295 810h1v1h-1zM307 784h1v1h-1zM333 801h1v1h-1zM339 780h1v1h-1zM310 822h1v1h-1zM349 782h1v1h-1zM324 825h1v1h-1zM308 774h1v1h-1zM347 784h1v1h-1zM289 817h1v1h-1zM295 818h1v1h-1zM393 826h1v1h-1zM428 775h1v1h-1zM442 797h1v1h-1zM384 791h1v1h-1zM408 782h1v1h-1zM414 781h1v1h-1zM382 801h1v1h-1zM431 795h1v1h-1zM374 795h1v1h-1zM400 787h1v1h-1zM425 792h1v1h-1zM390 830h1v1h-1zM447 788h1v1h-1zM405 811h1v1h-1zM432 800h1v1h-1zM382 839h1v1h-1zM195 845h1v1h-1zM226 873h1v1h-1zM275 851h1v1h-1zM217 870h1v1h-1zM247 853h1v1h-1zM260 849h1v1h-1zM222 875h1v1h-1zM205 873h1v1h-1zM203 859h1v1h-1zM194 879h1v1h-1zM206 890h1v1h-1zM217 850h1v1h-1zM202 884h1v1h-1zM191 849h1v1h-1zM340 856h1v1h-1zM284 879h1v1h-1zM341 852h1v1h-1zM321 871h1v1h-1zM338 856h1v1h-1zM328 856h1v1h-1zM363 856h1v1h-1zM311 898h1v1h-1zM315 885h1v1h-1zM327 844h1v1h-1zM298 849h1v1h-1zM294 865h1v1h-1zM317 892h1v1h-1zM321 851h1v1h-1zM419 866h1v1h-1zM403 883h1v1h-1zM396 900h1v1h-1zM422 867h1v1h-1zM406 903h1v1h-1zM386 905h1v1h-1zM390 846h1v1h-1z"/><path fill="rgb(165,165,165)" d="M240 719h1v1h-1zM202 728h1v1h-1zM208 719h1v1h-1zM216 713h1v1h-1zM210 768h1v1h-1zM191 724h1v1h-1zM242 731h1v1h-1zM232 724h1v1h-1zM194 771h1v1h-1zM221 717h1v1h-1zM232 739h1v1h-1zM259 747h1v1h-1zM244 713h1v1h-1zM238 748h1v1h-1zM232 730h1v1h-1zM261 731h1v1h-1zM251 739h1v1h-1zM215 716h1v1h-1zM218 735h1v1h-1zM228 759h1v1h-1zM260 755h1v1h-1zM205 756h1v1h-1zM211 721h1v1h-1zM257 732h1v1h-1zM256 771h1v1h-1zM231 754h1v1h-1zM217 720h1v1h-1zM268 733h1v1h-1zM275 759h1v1h-1zM268 764h1v1h-1zM354 759h1v1h-1zM343 723h1v1h-1zM351 717h1v1h-1zM295 728h1v1h-1zM365 721h1v1h-1zM280 729h1v1h-1zM290 714h1v1h-1zM345 730h1v1h-1zM300 744h1v1h-1zM309 745h1v1h-1zM280 731h1v1h-1zM286 730h1v1h-1zM281 745h1v1h-1zM311 737h1v1h-1zM294 749h1v1h-1zM293 731h1v1h-1zM325 727h1v1h-1zM314 726h1v1h-1zM313 749h1v1h-1zM293 732h1v1h-1zM343 709h1v1h-1zM312 746h1v1h-1zM307 739h1v1h-1zM283 713h1v1h-1zM314 721h1v1h-1zM335 743h1v1h-1zM354 769h1v1h-1zM310 717h1v1h-1zM342 722h1v1h-1zM302 711h1v1h-1zM347 713h1v1h-1zM324 716h1v1h-1zM330 743h1v1h-1zM323 736h1v1h-1zM298 720h1v1h-1zM360 767h1v1h-1zM311 769h1v1h-1zM334 761h1v1h-1zM327 723h1v1h-1zM304 743h1v1h-1zM322 724h1v1h-1zM327 750h1v1h-1zM306 735h1v1h-1zM364 740h1v1h-1zM296 731h1v1h-1zM291 726h1v1h-1zM334 759h1v1h-1zM280 757h1v1h-1zM283 731h1v1h-1zM300 749h1v1h-1zM295 722h1v1h-1zM312 754h1v1h-1zM293 770h1v1h-1zM302 747h1v1h-1zM341 723h1v1h-1zM317 745h1v1h-1zM321 743h1v1h-1zM348 768h1v1h-1zM323 738h1v1h-1zM307 750h1v1h-1zM340 759h1v1h-1zM282 759h1v1h-1zM367 717h1v1h-1zM367 764h1v1h-1zM301 747h1v1h-1zM341 740h1v1h-1zM305 769h1v1h-1zM366 757h1v1h-1zM305 768h1v1h-1zM309 769h1v1h-1zM318 751h1v1h-1zM334 719h1v1h-1zM350 745h1v1h-1zM302 758h1v1h-1zM396 736h1v1h-1zM374 725h1v1h-1zM406 733h1v1h-1zM397 724h1v1h-1zM405 744h1v1h-1zM378 732h1v1h-1zM452 717h1v1h-1zM446 757h1v1h-1zM373 738h1v1h-1zM415 715h1v1h-1zM422 729h1v1h-1zM438 765h1v1h-1zM417 736h1v1h-1zM381 730h1v1h-1zM453 746h1v1h-1zM434 716h1v1h-1zM450 762h1v1h-1zM444 720h1v1h-1zM433 747h1v1h-1zM377 748h1v1h-1zM445 747h1v1h-1zM375 749h1v1h-1zM431 743h1v1h-1zM375 744h1v1h-1zM378 740h1v1h-1zM420 726h1v1h-1zM371 726h1v1h-1zM399 763h1v1h-1zM422 715h1v1h-1zM392 721h1v1h-1zM447 767h1v1h-1zM406 741h1v1h-1zM445 752h1v1h-1zM400 757h1v1h-1zM402 769h1v1h-1zM391 715h1v1h-1zM381 713h1v1h-1zM418 712h1v1h-1zM382 715h1v1h-1zM395 735h1v1h-1zM435 764h1v1h-1zM418 742h1v1h-1zM392 710h1v1h-1zM383 708h1v1h-1zM391 747h1v1h-1zM433 743h1v1h-1zM392 749h1v1h-1zM408 762h1v1h-1zM395 744h1v1h-1zM447 769h1v1h-1zM415 741h1v1h-1zM433 745h1v1h-1zM422 748h1v1h-1zM434 732h1v1h-1zM419 721h1v1h-1zM444 731h1v1h-1zM398 769h1v1h-1zM450 722h1v1h-1zM388 722h1v1h-1zM391 770h1v1h-1zM413 772h1v1h-1zM416 764h1v1h-1zM423 710h1v1h-1zM371 768h1v1h-1zM435 772h1v1h-1zM386 743h1v1h-1zM393 733h1v1h-1zM429 727h1v1h-1zM443 721h1v1h-1zM432 742h1v1h-1zM452 738h1v1h-1zM382 743h1v1h-1zM406 762h1v1h-1zM421 711h1v1h-1zM447 727h1v1h-1zM409 736h1v1h-1zM401 707h1v1h-1zM260 797h1v1h-1zM216 786h1v1h-1zM234 822h1v1h-1zM200 820h1v1h-1zM198 816h1v1h-1zM215 819h1v1h-1zM201 808h1v1h-1zM192 832h1v1h-1zM193 789h1v1h-1zM270 782h1v1h-1zM236 779h1v1h-1zM231 813h1v1h-1zM212 793h1v1h-1zM194 789h1v1h-1zM202 786h1v1h-1zM192 775h1v1h-1zM206 795h1v1h-1zM226 777h1v1h-1zM193 787h1v1h-1zM248 775h1v1h-1zM195 791h1v1h-1zM234 829h1v1h-1zM255 801h1v1h-1zM201 833h1v1h-1zM250 798h1v1h-1zM196 812h1v1h-1zM209 774h1v1h-1zM194 787h1v1h-1zM206 790h1v1h-1zM230 827h1v1h-1zM300 838h1v1h-1zM324 787h1v1h-1zM301 816h1v1h-1zM303 776h1v1h-1zM282 791h1v1h-1zM294 818h1v1h-1zM289 804h1v1h-1zM303 781h1v1h-1zM313 840h1v1h-1zM286 832h1v1h-1zM336 792h1v1h-1zM321 833h1v1h-1zM333 792h1v1h-1zM322 829h1v1h-1zM318 833h1v1h-1zM318 837h1v1h-1zM287 835h1v1h-1zM341 791h1v1h-1zM325 781h1v1h-1zM359 788h1v1h-1zM309 833h1v1h-1zM324 786h1v1h-1zM315 810h1v1h-1zM341 777h1v1h-1zM301 815h1v1h-1zM348 796h1v1h-1zM356 787h1v1h-1zM293 807h1v1h-1zM288 823h1v1h-1zM357 797h1v1h-1zM311 829h1v1h-1zM313 776h1v1h-1zM315 795h1v1h-1zM337 781h1v1h-1zM283 834h1v1h-1zM280 828h1v1h-1zM443 773h1v1h-1zM424 779h1v1h-1zM380 787h1v1h-1zM408 793h1v1h-1zM397 820h1v1h-1zM438 793h1v1h-1zM372 793h1v1h-1zM428 800h1v1h-1zM395 828h1v1h-1zM455 777h1v1h-1zM410 807h1v1h-1zM401 783h1v1h-1zM410 833h1v1h-1zM448 789h1v1h-1zM373 788h1v1h-1zM372 828h1v1h-1zM412 776h1v1h-1zM209 861h1v1h-1zM263 860h1v1h-1zM216 880h1v1h-1zM205 867h1v1h-1zM196 908h1v1h-1zM245 868h1v1h-1zM233 893h1v1h-1zM275 864h1v1h-1zM224 867h1v1h-1zM233 849h1v1h-1zM224 896h1v1h-1zM197 880h1v1h-1zM225 878h1v1h-1zM223 851h1v1h-1zM212 871h1v1h-1zM213 904h1v1h-1zM197 904h1v1h-1zM229 876h1v1h-1zM233 857h1v1h-1zM326 851h1v1h-1zM319 891h1v1h-1zM316 860h1v1h-1zM336 864h1v1h-1zM354 858h1v1h-1zM324 890h1v1h-1zM347 852h1v1h-1zM306 844h1v1h-1zM316 903h1v1h-1zM318 891h1v1h-1zM295 859h1v1h-1zM349 863h1v1h-1zM334 866h1v1h-1zM309 852h1v1h-1zM319 853h1v1h-1zM311 866h1v1h-1zM285 844h1v1h-1zM311 890h1v1h-1zM319 905h1v1h-1zM280 866h1v1h-1zM294 892h1v1h-1zM330 854h1v1h-1zM280 906h1v1h-1zM301 882h1v1h-1zM342 852h1v1h-1zM399 878h1v1h-1zM372 876h1v1h-1zM432 865h1v1h-1zM435 858h1v1h-1zM382 845h1v1h-1zM427 853h1v1h-1z"/><path fill="rgb(40,40,40)" d="M229.4 723.2h2.2v2.2h-2.2zM265.7 734.0h1.2v1.2h-1.2zM245.4 770.6h2.2v2.2h-2.2zM445.4 711.9h1.6v1.6h-1.6zM447.2 764.9h1.2v1.2h-1.2zM412.9 759.4h2.2v2.2h-2.2zM427.3 716.5h1.2v1.2h-1.2zM420.7 738.0h2.2v2.2h-2.2zM428.4 710.6h1.6v1.6h-1.6zM382.4 745.5h1.6v1.6h-1.6zM384.1 732.0h1.2v1.2h-1.2zM404.8 713.5h1.6v1.6h-1.6zM430.6 760.9h1.6v1.6h-1.6zM377.8 766.9h1.2v1.2h-1.2zM408.9 724.8h1.6v1.6h-1.6zM214.8 777.5h2.2v2.2h-2.2zM194.2 809.6h1.2v1.2h-1.2zM317.5 839.3h1.6v1.6h-1.6zM296.1 816.0h2.2v2.2h-2.2zM289.8 811.2h1.6v1.6h-1.6zM366.7 779.4h1.6v1.6h-1.6zM303.1 813.4h1.2v1.2h-1.2zM407.6 820.6h1.6v1.6h-1.6zM374.7 793.0h1.6v1.6h-1.6zM430.3 778.4h1.2v1.2h-1.2zM394.2 805.8h1.2v1.2h-1.2zM412.9 793.1h1.6v1.6h-1.6zM391.5 834.9h1.2v1.2h-1.2zM443.2 800.4h1.6v1.6h-1.6zM397.6 795.0h1.6v1.6h-1.6zM230.3 881.9h1.6v1.6h-1.6zM204.1 877.8h1.2v1.2h-1.2zM251.3 855.9h1.2v1.2h-1.2zM215.7 855.5h2.2v2.2h-2.2zM317.1 869.7h2.2v2.2h-2.2zM381.5 874.2h2.2v2.2h-2.2z"/><path fill="rgb(70,70,70)" d="M213.2 762.7h1.2v1.2h-1.2zM281.5 762.9h1.2v1.2h-1.2zM319.7 737.6h1.6v1.6h-1.6zM337.8 750.6h1.6v1.6h-1.6zM299.7 745.9h2.2v2.2h-2.2zM450.3 750.3h1.2v1.2h-1.2zM454.2 745.8h2.2v2.2h-2.2zM395.7 742.6h1.6v1.6h-1.6zM390.4 762.7h2.2v2.2h-2.2zM417.6 734.1h1.6v1.6h-1.6zM387.1 732.3h2.2v2.2h-2.2zM402.7 728.3h1.6v1.6h-1.6zM428.7 718.9h1.2v1.2h-1.2zM401.8 728.4h1.6v1.6h-1.6zM429.1 717.5h2.2v2.2h-2.2zM400.4 723.0h2.2v2.2h-2.2zM424.5 757.1h2.2v2.2h-2.2zM198.2 821.0h1.2v1.2h-1.2zM253.3 797.4h2.2v2.2h-2.2zM199.7 795.0h1.6v1.6h-1.6zM292.7 776.7h2.2v2.2h-2.2zM312.5 802.7h1.6v1.6h-1.6zM409.5 820.5h1.6v1.6h-1.6zM412.9 832.2h1.2v1.2h-1.2zM430.4 797.4h2.2v2.2h-2.2zM393.4 797.4h1.6v1.6h-1.6zM402.2 781.4h1.6v1.6h-1.6zM396.4 827.6h1.2v1.2h-1.2zM381.9 786.3h1.2v1.2h-1.2zM381.6 824.5h1.6v1.6h-1.6zM397.8 817.8h2.2v2.2h-2.2zM447.6 798.5h1.6v1.6h-1.6zM390.1 835.2h2.2v2.2h-2.2zM222.5 880.0h2.2v2.2h-2.2zM262.9 861.7h2.2v2.2h-2.2zM207.1 877.7h1.6v1.6h-1.6zM194.2 878.1h2.2v2.2h-2.2zM357.8 848.3h1.2v1.2h-1.2zM309.8 900.5h2.2v2.2h-2.2zM367.9 846.9h2.2v2.2h-2.2zM363.7 867.7h2.2v2.2h-2.2zM333.0 856.1h1.2v1.2h-1.2zM294.6 846.3h1.6v1.6h-1.6zM382.3 873.8h1.6v1.6h-1.6zM391.4 855.8h2.2v2.2h-2.2zM414.3 848.9h1.2v1.2h-1.2zM410.5 886.8h1.6v1.6h-1.6zM405.5 881.8h1.2v1.2h-1.2z"/><path fill="rgb(20,20,20)" d="M236.7 717.2h1.2v1.2h-1.2zM297.5 735.2h2.2v2.2h-2.2zM357.9 712.4h1.6v1.6h-1.6zM367.7 736.4h2.2v2.2h-2.2zM305.8 745.7h2.2v2.2h-2.2zM437.9 725.3h2.2v2.2h-2.2zM376.8 743.8h2.2v2.2h-2.2zM420.1 722.9h1.6v1.6h-1.6zM409.4 752.2h2.2v2.2h-2.2zM433.9 752.5h1.6v1.6h-1.6zM399.3 730.5h1.2v1.2h-1.2zM431.2 734.7h1.2v1.2h-1.2zM405.9 745.2h1.2v1.2h-1.2zM371.6 755.4h1.6v1.6h-1.6zM371.8 753.6h2.2v2.2h-2.2zM427.6 767.2h1.6v1.6h-1.6zM324.4 797.4h2.2v2.2h-2.2zM296.3 809.4h2.2v2.2h-2.2zM305.7 800.1h1.6v1.6h-1.6zM393.2 794.2h2.2v2.2h-2.2zM434.4 778.6h1.6v1.6h-1.6zM449.3 786.3h2.2v2.2h-2.2zM433.9 779.5h1.6v1.6h-1.6zM384.4 830.2h2.2v2.2h-2.2zM375.5 837.5h1.2v1.2h-1.2zM218.2 876.0h1.6v1.6h-1.6zM225.5 899.7h1.2v1.2h-1.2zM287.0 855.5h1.2v1.2h-1.2zM357.8 848.6h2.2v2.2h-2.2zM304.0 863.0h1.2v1.2h-1.2zM302.2 869.8h1.6v1.6h-1.6zM303.4 872.2h2.2v2.2h-2.2zM305.1 866.0h1.6v1.6h-1.6zM399.5 896.7h1.6v1.6h-1.6zM381.8 874.0h1.6v1.6h-1.6zM448.2 862.8h1.6v1.6h-1.6z"/>
<circle cx="224.4" cy="788.2" r="2.8" fill="none" stroke="#999" stroke-width="1" stroke-dasharray="1.7,2.3,2.9,0.6,2.8,1.5,3.9,0.8,2.4,1.0"/><circle cx="213.5" cy="794" r="1.2" fill="#111"/><circle cx="205" cy="830" r="3" fill="none" stroke="#999" stroke-width="1" stroke-dasharray="4.8,1.5,4.0,1.0,2.7,1.0,3.8,1.8"/><circle cx="222.9" cy="851.7" r="0.9" fill="#111"/><circle cx="223.2" cy="848.1" r="1.1" fill="#111"/><circle cx="225.0" cy="853.9" r="1.2" fill="#111"/><circle cx="222.8" cy="848.8" r="0.8" fill="#111"/><circle cx="226.6" cy="850.2" r="4.0" fill="none" stroke="#151515" stroke-width="2.8" stroke-dasharray="3.6,0.6,3.8,0.9,5.3,0.7,4.3,0.7,5.2,1.5"/><circle cx="208.3" cy="867.1" r="1.3" fill="#111"/><circle cx="214.6" cy="864.8" r="1.1" fill="#111"/><circle cx="213.8" cy="867.8" r="1.1" fill="#111"/><circle cx="207.9" cy="865.6" r="1.0" fill="#111"/><circle cx="211.3" cy="865.5" r="3.4" fill="none" stroke="#151515" stroke-width="3.1" stroke-dasharray="5.7,0.5,3.9,0.7,4.0,0.9,2.5,1.6,4.0,1.3"/><circle cx="220.2" cy="865.7" r="1.0" fill="#111"/><circle cx="220.5" cy="866.3" r="0.9" fill="#111"/><circle cx="221.9" cy="860.6" r="1.3" fill="#111"/><circle cx="225.9" cy="860.8" r="0.9" fill="#111"/><circle cx="223.7" cy="864" r="3.9" fill="none" stroke="#151515" stroke-width="3.0" stroke-dasharray="4.7,0.9,5.9,1.0,5.9,1.5,5.0,1.0"/><circle cx="239.0" cy="860.6" r="1.0" fill="#111"/><circle cx="239.7" cy="860.3" r="1.3" fill="#111"/><circle cx="237.4" cy="864.4" r="1.2" fill="#111"/><circle cx="237.9" cy="865.2" r="0.8" fill="#111"/><circle cx="240.5" cy="863.4" r="3.2" fill="none" stroke="#151515" stroke-width="3.4" stroke-dasharray="3.7,1.6,3.5,0.9,4.9,1.2,3.7,1.6"/><circle cx="227.4" cy="879.2" r="1.6" fill="#111"/><circle cx="230.8" cy="885.0" r="1.3" fill="#111"/><circle cx="226.2" cy="880.2" r="1.0" fill="#111"/><circle cx="228.7" cy="878.9" r="1.3" fill="#111"/><circle cx="228.8" cy="882.3" r="3.4" fill="none" stroke="#151515" stroke-width="3.1" stroke-dasharray="4.2,1.1,2.5,1.3,2.4,1.6,5.3,1.1,4.4,1.2"/><circle cx="217.3" cy="887.8" r="1.5" fill="#111"/><circle cx="212.6" cy="897.5" r="1.3" fill="#111"/><circle cx="218.8" cy="896.3" r="1.4" fill="#111"/><circle cx="210.3" cy="895.4" r="1.4" fill="#111"/><circle cx="214.9" cy="892.6" r="5.4" fill="none" stroke="#151515" stroke-width="2.7" stroke-dasharray="5.5,0.7,2.3,0.8,4.3,1.8,3.6,0.8,5.0,0.8,2.7,0.5,4.7,1.6"/><circle cx="192.3" cy="863.4" r="3" fill="none" stroke="#999" stroke-width="1" stroke-dasharray="2.1,2.3,2.9,2.0,3.6,0.7,2.8,1.2,2.3,2.3"/><circle cx="193.8" cy="889.6" r="3" fill="none" stroke="#999" stroke-width="1" stroke-dasharray="2.4,1.6,4.2,2.2,4.0,1.7,2.0,1.1"/><circle cx="208.4" cy="901.3" r="3.5" fill="none" stroke="#999" stroke-width="1" stroke-dasharray="4.7,1.6,5.0,1.8,2.5,1.4,3.4,1.3,4.0,2.2"/><circle cx="279.9" cy="863.4" r="3" fill="none" stroke="#999" stroke-width="1" stroke-dasharray="1.7,1.7,3.6,2.0,1.9,1.0,4.7,1.1,4.6,1.8"/><circle cx="236" cy="848" r="1.3" fill="#111"/><circle cx="245" cy="866" r="1.4" fill="#111"/><circle cx="303.3" cy="798.8" r="1.6" fill="#111"/><circle cx="308.3" cy="794.0" r="1.3" fill="#111"/><circle cx="307.4" cy="798.2" r="0.9" fill="#111"/><circle cx="307.6" cy="798.0" r="0.9" fill="#111"/><circle cx="304.9" cy="795.5" r="3.7" fill="none" stroke="#151515" stroke-width="2.7" stroke-dasharray="3.0,0.7,4.3,0.8,5.5,0.7,4.7,1.5,5.6,1.7"/><circle cx="315.3" cy="798.5" r="0.8" fill="#111"/><circle cx="315.8" cy="792.8" r="1.4" fill="#111"/><circle cx="312.5" cy="798.7" r="0.9" fill="#111"/><circle cx="311.8" cy="792.7" r="1.1" fill="#111"/><circle cx="313.7" cy="795.5" r="3.4" fill="none" stroke="#151515" stroke-width="3.0" stroke-dasharray="3.4,0.8,3.7,1.5,4.3,1.5,4.0,1.3,5.8,0.7"/><circle cx="323.2" cy="776.6" r="2.5" fill="none" stroke="#999" stroke-width="1" stroke-dasharray="3.3,1.2,4.5,1.0,4.2,1.8"/><circle cx="340.2" cy="796.7" r="1.2" fill="#111"/><circle cx="343.6" cy="788.8" r="1.0" fill="#111"/><circle cx="344.8" cy="791.8" r="1.6" fill="#111"/><circle cx="344.4" cy="793.9" r="1.5" fill="#111"/><circle cx="340" cy="791.9" r="4.8" fill="none" stroke="#151515" stroke-width="2.8" stroke-dasharray="5.1,1.2,5.8,1.2,2.2,1.3,4.6,1.7,5.9,0.9,5.1,0.5"/><circle cx="346.4" cy="788.5" r="1.1" fill="#111"/><circle cx="353.2" cy="792.3" r="1.2" fill="#111"/><circle cx="347.3" cy="787.0" r="1.6" fill="#111"/><circle cx="353.1" cy="786.9" r="1.2" fill="#111"/><circle cx="350.2" cy="789.7" r="4.0" fill="none" stroke="#151515" stroke-width="3.3" stroke-dasharray="4.1,0.7,2.5,0.6,4.2,0.8,2.5,1.1,5.3,1.1,3.0,1.5"/><circle cx="310.5" cy="815.3" r="0.9" fill="#111"/><circle cx="310.8" cy="813.6" r="1.3" fill="#111"/><circle cx="310.7" cy="814.8" r="1.5" fill="#111"/><circle cx="302.4" cy="815.6" r="1.3" fill="#111"/><circle cx="306.4" cy="813.8" r="4.4" fill="none" stroke="#151515" stroke-width="2.8" stroke-dasharray="4.8,1.0,2.4,1.2,2.4,1.6,5.5,0.8,5.6,1.2,4.3,1.6"/><circle cx="301.0" cy="827.3" r="1.5" fill="#111"/><circle cx="297.6" cy="826.1" r="0.9" fill="#111"/><circle cx="299.2" cy="819.5" r="1.0" fill="#111"/><circle cx="297.5" cy="826.0" r="1.1" fill="#111"/><circle cx="300.5" cy="823.3" r="4.0" fill="none" stroke="#151515" stroke-width="3.1" stroke-dasharray="2.3,1.5,3.2,1.1,4.5,0.7,3.3,1.3,2.6,0.9,5.7,1.1"/><circle cx="285.2" cy="823.7" r="1.0" fill="#111"/><circle cx="283.8" cy="832.7" r="1.2" fill="#111"/><circle cx="281.3" cy="827.5" r="1.0" fill="#111"/><circle cx="287.0" cy="833.1" r="1.2" fill="#111"/><circle cx="286" cy="828.4" r="4.8" fill="none" stroke="#151515" stroke-width="2.8" stroke-dasharray="5.5,1.6,4.9,0.7,3.6,1.4,4.6,1.1,2.2,1.2,2.7,0.5,2.7,1.0"/><circle cx="280.8" cy="809.4" r="3.5" fill="none" stroke="#999" stroke-width="1" stroke-dasharray="4.9,2.5,3.5,2.4,4.5,2.1,4.5,1.5"/><circle cx="328.7" cy="798.0" r="1.6" fill="#111"/><circle cx="329.7" cy="804.7" r="0.9" fill="#111"/><circle cx="325.6" cy="801.2" r="1.2" fill="#111"/><circle cx="326.7" cy="798.9" r="1.5" fill="#111"/><circle cx="329" cy="801.4" r="3.4" fill="none" stroke="#151515" stroke-width="3.2" stroke-dasharray="2.2,0.5,2.1,1.0,3.2,1.1,4.8,0.8,3.5,1.7,5.0,1.6"/><circle cx="323.3" cy="813.5" r="1.4" fill="#111"/><circle cx="324.6" cy="813.2" r="1.5" fill="#111"/><circle cx="320.4" cy="812.0" r="1.0" fill="#111"/><circle cx="326.5" cy="810.8" r="1.4" fill="#111"/><circle cx="323.2" cy="810.1" r="3.4" fill="none" stroke="#151515" stroke-width="3.1" stroke-dasharray="5.9,0.8,4.3,1.2,4.5,1.5,2.5,1.6"/><circle cx="360" cy="786" r="1.5" fill="#111"/><circle cx="364" cy="790" r="1.2" fill="#111"/><circle cx="366" cy="784" r="1.2" fill="#111"/><circle cx="291.4" cy="851.0" r="1.0" fill="#111"/><circle cx="289.4" cy="852.8" r="1.4" fill="#111"/><circle cx="285.2" cy="847.4" r="1.2" fill="#111"/><circle cx="289.5" cy="846.2" r="0.9" fill="#111"/><circle cx="288.1" cy="849.5" r="3.6" fill="none" stroke="#151515" stroke-width="2.7" stroke-dasharray="4.5,0.6,5.4,1.7,4.8,0.5,3.7,0.5,5.0,0.8"/><circle cx="306.6" cy="851.3" r="1.5" fill="#111"/><circle cx="304.6" cy="845.0" r="1.1" fill="#111"/><circle cx="306.9" cy="850.9" r="0.8" fill="#111"/><circle cx="301.3" cy="852.1" r="0.9" fill="#111"/><circle cx="303.5" cy="848.8" r="4.0" fill="none" stroke="#151515" stroke-width="2.8" stroke-dasharray="4.0,1.5,2.9,0.6,2.6,1.4,4.4,1.5,5.4,0.8,4.1,0.9"/><circle cx="284.7" cy="861.5" r="1.6" fill="#111"/><circle cx="290.6" cy="857.8" r="1.4" fill="#111"/><circle cx="289.6" cy="857.1" r="1.4" fill="#111"/><circle cx="284.5" cy="860.5" r="1.2" fill="#111"/><circle cx="288.1" cy="860.4" r="3.6" fill="none" stroke="#151515" stroke-width="2.8" stroke-dasharray="3.8,0.6,5.9,0.7,5.0,1.6,2.4,0.7,5.5,0.4"/><circle cx="327.9" cy="852.5" r="1.6" fill="#111"/><circle cx="328.0" cy="852.4" r="1.4" fill="#111"/><circle cx="322.0" cy="850.4" r="1.6" fill="#111"/><circle cx="324.1" cy="847.0" r="1.0" fill="#111"/><circle cx="325.4" cy="850.2" r="3.4" fill="none" stroke="#151515" stroke-width="3.2" stroke-dasharray="2.6,1.0,4.0,1.6,4.7,1.4,4.8,0.4,3.4,1.5"/><circle cx="334.9" cy="853.9" r="3" fill="none" stroke="#999" stroke-width="1" stroke-dasharray="3.6,1.9,4.6,1.0,2.2,0.8,4.6,1.5"/><circle cx="327.5" cy="861.2" r="1.4" fill="#111"/><circle cx="321.8" cy="863.7" r="0.9" fill="#111"/><circle cx="324.6" cy="860.6" r="1.6" fill="#111"/><circle cx="322.9" cy="861.5" r="1.0" fill="#111"/><circle cx="325.4" cy="864.1" r="2.5" fill="#555" stroke="#111" stroke-width="2.2" stroke-dasharray="4.5,0.8,3.8,0.7,4.7,0.6,2.8,0.5"/><circle cx="328.9" cy="866.8" r="1.1" fill="#111"/><circle cx="334.9" cy="866.5" r="1.4" fill="#111"/><circle cx="333.7" cy="864.6" r="1.0" fill="#111"/><circle cx="334.9" cy="867.0" r="1.3" fill="#111"/><circle cx="331.9" cy="867" r="2.1" fill="#555" stroke="#111" stroke-width="1.8" stroke-dasharray="4.8,0.9,4.8,0.4,3.8,0.9"/><circle cx="349.5" cy="858.2" r="2.8" fill="none" stroke="#999" stroke-width="1" stroke-dasharray="3.5,2.0,4.0,2.1,3.5,1.0,4.9,1.2"/><circle cx="365.4" cy="861.3" r="1.3" fill="#111"/><circle cx="364.1" cy="862.9" r="1.2" fill="#111"/><circle cx="361.0" cy="858.0" r="1.0" fill="#111"/><circle cx="365.0" cy="858.8" r="1.0" fill="#111"/><circle cx="362.6" cy="860.4" r="2.9" fill="none" stroke="#151515" stroke-width="3.1" stroke-dasharray="2.5,1.7,3.3,1.3,5.9,1.0,3.1,0.7"/><circle cx="296.5" cy="869.1" r="1.5" fill="#111"/><circle cx="289.9" cy="873.6" r="1.1" fill="#111"/><circle cx="289.8" cy="873.6" r="1.1" fill="#111"/><circle cx="289.9" cy="873.6" r="1.4" fill="#111"/><circle cx="293.2" cy="871.4" r="4.0" fill="none" stroke="#151515" stroke-width="3.1" stroke-dasharray="3.0,1.3,2.9,0.9,4.8,1.6,4.0,1.7,2.4,1.7,5.5,0.4"/><circle cx="290.7" cy="880.7" r="1.3" fill="#111"/><circle cx="289.3" cy="884.4" r="0.8" fill="#111"/><circle cx="286.4" cy="884.8" r="1.2" fill="#111"/><circle cx="284.2" cy="880.4" r="1.4" fill="#111"/><circle cx="287.4" cy="881.6" r="3.4" fill="none" stroke="#151515" stroke-width="2.6" stroke-dasharray="4.0,1.8,5.3,0.6,3.7,0.8,5.8,1.4"/><circle cx="310.2" cy="876.2" r="1.1" fill="#111"/><circle cx="306.0" cy="875.8" r="1.2" fill="#111"/><circle cx="304.2" cy="877.6" r="1.0" fill="#111"/><circle cx="304.0" cy="880.6" r="1.1" fill="#111"/><circle cx="307.8" cy="879.4" r="4.0" fill="none" stroke="#151515" stroke-width="3.2" stroke-dasharray="3.2,1.7,2.2,1.2,2.7,0.6,5.3,1.8,3.1,0.4,2.6,0.5"/><circle cx="311.4" cy="890.6" r="1.4" fill="#111"/><circle cx="307.4" cy="888.8" r="1.5" fill="#111"/><circle cx="307.8" cy="889.4" r="1.3" fill="#111"/><circle cx="309.6" cy="882.9" r="1.5" fill="#111"/><circle cx="310.8" cy="886.7" r="4.0" fill="none" stroke="#151515" stroke-width="3.3" stroke-dasharray="3.5,1.7,5.6,1.3,4.7,1.3,4.3,0.7,4.9,0.6"/><circle cx="316.5" cy="874.7" r="1.5" fill="#111"/><circle cx="322.8" cy="877.5" r="1.5" fill="#111"/><circle cx="316.4" cy="881.2" r="0.9" fill="#111"/><circle cx="322.2" cy="875.9" r="1.2" fill="#111"/><circle cx="318.8" cy="878" r="4.0" fill="none" stroke="#151515" stroke-width="3.1" stroke-dasharray="5.6,1.2,5.1,1.0,4.7,0.9,3.2,1.4,4.3,0.8"/><circle cx="316.7" cy="895.8" r="1.3" fill="#111"/><circle cx="319.8" cy="892.6" r="0.8" fill="#111"/><circle cx="317.9" cy="893.5" r="1.3" fill="#111"/><circle cx="323.5" cy="897.8" r="1.1" fill="#111"/><circle cx="320.3" cy="896.2" r="3.6" fill="none" stroke="#151515" stroke-width="3.1" stroke-dasharray="5.2,1.0,3.7,1.6,2.4,1.8,5.0,0.5,3.9,0.4"/><circle cx="296.3" cy="907.5" r="1.2" fill="#111"/><circle cx="292.1" cy="905.2" r="1.0" fill="#111"/><circle cx="292.2" cy="905.4" r="0.9" fill="#111"/><circle cx="298.8" cy="904.2" r="1.2" fill="#111"/><circle cx="295.4" cy="904.2" r="3.4" fill="none" stroke="#151515" stroke-width="3.1" stroke-dasharray="3.1,0.9,5.9,0.4,3.9,1.7,3.3,1.6,2.5,1.0"/><circle cx="300" cy="855" r="1.2" fill="#111"/><circle cx="276.0" cy="883.6" r="1.2" fill="#111"/><circle cx="280.0" cy="883.7" r="1.1" fill="#111"/><circle cx="276.8" cy="887.1" r="1.1" fill="#111"/><circle cx="275.7" cy="884.3" r="0.9" fill="#111"/><circle cx="278" cy="885" r="2.4" fill="none" stroke="#151515" stroke-width="2.8" stroke-dasharray="3.0,1.7,5.1,0.7,4.9,1.1"/><circle cx="375.5" cy="786.1" r="1.4" fill="#111"/><circle cx="381.5" cy="780.8" r="1.1" fill="#111"/><circle cx="382.1" cy="786.3" r="0.8" fill="#111"/><circle cx="382.0" cy="781.4" r="1.3" fill="#111"/><circle cx="378.9" cy="783.9" r="4.0" fill="none" stroke="#151515" stroke-width="2.7" stroke-dasharray="2.0,0.8,2.6,0.8,2.0,0.8,4.3,1.2,5.2,1.4,5.7,0.9"/><circle cx="379.2" cy="796.3" r="1.1" fill="#111"/><circle cx="377.9" cy="793.5" r="1.0" fill="#111"/><circle cx="375.7" cy="792.0" r="1.5" fill="#111"/><circle cx="376.9" cy="792.6" r="1.3" fill="#111"/><circle cx="373.8" cy="797" r="3.8" fill="#555" stroke="#111" stroke-width="3.2" stroke-dasharray="5.0,0.7,3.5,0.5,2.2,0.8,2.1,0.6,2.9,1.0,3.5,0.4,4.2,0.9"/><circle cx="385.4" cy="797" r="1.8" fill="#111"/><path d="M408.4,784 A6,6 0 1 0 408.9,793.5" fill="none" stroke="#1a1a1a" stroke-width="4"/><circle cx="405.4" cy="789" r="2.5" fill="#777"/><circle cx="416.5" cy="777.7" r="1.0" fill="#111"/><circle cx="418.9" cy="782.7" r="0.9" fill="#111"/><circle cx="414.7" cy="777.3" r="1.6" fill="#111"/><circle cx="418.0" cy="784.5" r="0.8" fill="#111"/><circle cx="414.6" cy="781.7" r="3.1" fill="#555" stroke="#111" stroke-width="2.6" stroke-dasharray="2.1,0.5,4.5,1.0,2.5,0.5,4.6,0.6,2.3,0.6,2.9,1.1"/><circle cx="430.1" cy="792.9" r="1.1" fill="#111"/><circle cx="431.6" cy="788.8" r="0.9" fill="#111"/><circle cx="431.3" cy="791.4" r="1.6" fill="#111"/><circle cx="424.5" cy="791.7" r="0.8" fill="#111"/><circle cx="427.8" cy="789.7" r="3.9" fill="none" stroke="#151515" stroke-width="3.2" stroke-dasharray="3.4,0.6,3.4,1.5,4.7,0.7,2.6,1.4,2.8,1.7,5.0,1.2"/><circle cx="433.8" cy="792.5" r="1.1" fill="#111"/><circle cx="431.9" cy="798.6" r="1.1" fill="#111"/><circle cx="431.1" cy="796.5" r="1.6" fill="#111"/><circle cx="437.0" cy="799.8" r="1.2" fill="#111"/><circle cx="435.1" cy="796.3" r="4.0" fill="none" stroke="#151515" stroke-width="2.7" stroke-dasharray="5.1,1.7,3.2,1.1,4.1,1.6,5.0,1.3,3.6,1.5"/><circle cx="448.9" cy="782.1" r="1.0" fill="#111"/><circle cx="454.3" cy="780.6" r="1.4" fill="#111"/><circle cx="449.4" cy="782.5" r="1.4" fill="#111"/><circle cx="451.8" cy="782.8" r="1.2" fill="#111"/><circle cx="451.1" cy="779.5" r="2.4" fill="#555" stroke="#111" stroke-width="2.0" stroke-dasharray="4.9,1.0,4.5,1.1,4.3,0.4"/><circle cx="390.3" cy="777.3" r="1.5" fill="#111"/><circle cx="389.4" cy="776.8" r="1.5" fill="#111"/><circle cx="385.5" cy="779.4" r="1.0" fill="#111"/><circle cx="385.6" cy="778.7" r="1.6" fill="#111"/><circle cx="388.4" cy="779.5" r="2.9" fill="none" stroke="#151515" stroke-width="2.9" stroke-dasharray="3.3,1.2,5.6,1.3,5.1,0.4,5.5,0.8"/><circle cx="393.7" cy="800.9" r="1.4" fill="#111"/><circle cx="394.1" cy="801.0" r="0.9" fill="#111"/><circle cx="395.1" cy="801.3" r="0.8" fill="#111"/><circle cx="395.6" cy="801.6" r="0.9" fill="#111"/><circle cx="393.5" cy="804.3" r="3.4" fill="#fff" stroke="#111" stroke-width="3.4" stroke-dasharray="6.2,0.6,3.6,0.7,6.7,0.6,5.1,0.9"/><circle cx="390.9" cy="813.5" r="1.2" fill="#111"/><circle cx="383.0" cy="814.5" r="1.3" fill="#111"/><circle cx="383.5" cy="816.0" r="1.2" fill="#111"/><circle cx="385.6" cy="810.0" r="0.9" fill="#111"/><circle cx="386.9" cy="813.8" r="4.0" fill="#fff" stroke="#111" stroke-width="3.4" stroke-dasharray="3.9,0.6,5.2,0.3,5.1,0.9,6.2,0.3,4.1,1.0"/><circle cx="391.9" cy="821.4" r="1.0" fill="#111"/><circle cx="385.6" cy="826.2" r="1.3" fill="#111"/><circle cx="387.2" cy="827.1" r="1.5" fill="#111"/><circle cx="384.6" cy="824.4" r="1.3" fill="#111"/><circle cx="388.4" cy="823.3" r="4.0" fill="#fff" stroke="#111" stroke-width="3.4" stroke-dasharray="6.5,0.3,4.8,0.5,5.6,0.8,5.4,0.3,4.2,0.3"/><circle cx="408.4" cy="815.7" r="1.3" fill="#111"/><circle cx="403.8" cy="811.3" r="1.5" fill="#111"/><circle cx="406.8" cy="818.5" r="1.6" fill="#111"/><circle cx="408.2" cy="814.1" r="1.4" fill="#111"/><circle cx="404.4" cy="815.3" r="2.8" fill="#555" stroke="#111" stroke-width="2.4" stroke-dasharray="4.4,0.7,4.9,0.9,2.8,0.5,4.1,1.2"/><circle cx="408.2" cy="820.7" r="1.0" fill="#111"/><circle cx="404.3" cy="827.2" r="1.2" fill="#111"/><circle cx="412.9" cy="828.0" r="1.3" fill="#111"/><circle cx="404.0" cy="826.0" r="1.2" fill="#111"/><circle cx="408.8" cy="825.5" r="4.8" fill="#fff" stroke="#111" stroke-width="3.4" stroke-dasharray="6.9,1.0,4.7,0.4,4.1,0.3,4.5,0.9,4.8,1.0,5.9,0.4"/><circle cx="372.3" cy="813.8" r="3" fill="none" stroke="#999" stroke-width="1" stroke-dasharray="3.0,1.2,3.0,2.0,2.9,1.6,4.2,2.0"/><circle cx="375.9" cy="835.9" r="1.1" fill="#111"/><circle cx="375.8" cy="836.1" r="1.5" fill="#111"/><circle cx="370.8" cy="837.9" r="0.8" fill="#111"/><circle cx="368.3" cy="834.5" r="1.4" fill="#111"/><circle cx="372.3" cy="834.2" r="4.0" fill="#fff" stroke="#111" stroke-width="3.4" stroke-dasharray="3.6,0.6,3.1,0.8,4.5,0.5,4.4,0.6,6.5,0.3,6.1,0.7"/><circle cx="392.7" cy="834.2" r="1.6" fill="#111"/><circle cx="400" cy="778" r="1.5" fill="#111"/><circle cx="440" cy="805" r="1.3" fill="#111"/><circle cx="373.8" cy="856.2" r="4.0" fill="#7a7a7a" stroke="#1a1a1a" stroke-width="2.4" stroke-dasharray="3.1,1.2,5.9,1.0,3.7,0.4,5.8,0.9,2.0,1.2"/><circle cx="379.6" cy="850.4" r="3.6" fill="#7a7a7a" stroke="#1a1a1a" stroke-width="2.8" stroke-dasharray="5.0,0.5,4.7,0.4,4.6,1.1,4.2,0.7,4.0,1.2"/><circle cx="386.9" cy="849.7" r="4.8" fill="#7a7a7a" stroke="#1a1a1a" stroke-width="2.7" stroke-dasharray="2.7,1.1,4.6,0.7,5.9,0.9,5.2,0.7,5.8,0.9,3.0,1.0"/><circle cx="398.6" cy="849" r="4.8" fill="#a4a4a4" stroke="#1a1a1a" stroke-width="2.9" stroke-dasharray="3.6,0.5,2.3,0.7,2.6,0.5,5.7,1.0,3.4,1.2,5.5,0.8,4.6,0.4"/><circle cx="411.7" cy="851.9" r="4.8" fill="#7a7a7a" stroke="#1a1a1a" stroke-width="2.9" stroke-dasharray="3.2,0.6,4.2,1.1,5.9,1.1,5.5,0.7,5.5,0.3,2.9,0.7"/><circle cx="420.5" cy="846.8" r="4.4" fill="#7a7a7a" stroke="#1a1a1a" stroke-width="2.5" stroke-dasharray="5.3,0.4,2.1,0.4,3.0,0.8,2.5,0.4,5.8,1.0,4.7,0.5,5.1,0.8"/><circle cx="435.1" cy="844.6" r="3.6" fill="#7a7a7a" stroke="#1a1a1a" stroke-width="2.8" stroke-dasharray="5.0,0.4,5.0,0.4,5.3,1.2,5.0,0.8"/><circle cx="445.3" cy="850.4" r="4.0" fill="#7a7a7a" stroke="#1a1a1a" stroke-width="2.4" stroke-dasharray="3.6,0.5,4.3,1.0,4.3,0.4,4.6,1.1,2.3,0.8,5.7,0.6"/><circle cx="452.6" cy="848.2" r="2.9" fill="#7a7a7a" stroke="#1a1a1a" stroke-width="2.4" stroke-dasharray="3.7,0.3,4.0,0.9,5.4,0.7,3.1,1.1"/><circle cx="387.0" cy="859.1" r="0.9" fill="#111"/><circle cx="381.4" cy="863.3" r="1.2" fill="#111"/><circle cx="381.4" cy="863.2" r="1.0" fill="#111"/><circle cx="382.7" cy="859.8" r="0.9" fill="#111"/><circle cx="385.4" cy="862.8" r="4.0" fill="none" stroke="#151515" stroke-width="3.2" stroke-dasharray="5.8,1.1,4.1,1.1,2.9,1.0,2.9,0.7,2.9,1.7,2.5,0.5"/><circle cx="392.8" cy="863.5" r="1.4" fill="#111"/><circle cx="390.8" cy="858.4" r="1.6" fill="#111"/><circle cx="393.1" cy="863.5" r="1.4" fill="#111"/><circle cx="391.9" cy="863.4" r="1.5" fill="#111"/><circle cx="392.7" cy="860.6" r="2.9" fill="none" stroke="#151515" stroke-width="2.6" stroke-dasharray="5.4,1.3,4.0,1.3,2.2,0.6,4.9,0.7"/><circle cx="400.8" cy="862.1" r="4.8" fill="#444" stroke="#1a1a1a" stroke-width="2.3" stroke-dasharray="3.7,0.8,3.4,0.6,5.9,0.8,4.2,0.7,3.7,0.3,2.3,0.7,3.3,0.6"/><circle cx="408.8" cy="862.1" r="4.4" fill="#7a7a7a" stroke="#1a1a1a" stroke-width="2.9" stroke-dasharray="2.4,0.5,4.9,1.0,5.8,0.8,2.8,1.0,2.9,0.6,5.7,0.6"/><circle cx="405.9" cy="867.9" r="4.0" fill="#7a7a7a" stroke="#1a1a1a" stroke-width="2.7" stroke-dasharray="3.9,0.4,3.4,0.7,3.5,0.7,3.8,0.6,3.7,0.4,4.9,0.6"/><circle cx="420.5" cy="859.9" r="4.0" fill="#7a7a7a" stroke="#1a1a1a" stroke-width="2.6" stroke-dasharray="3.1,1.0,4.8,0.9,3.4,0.4,2.8,1.2,2.2,0.8,4.1,0.6"/><circle cx="433.6" cy="856.2" r="4.0" fill="#7a7a7a" stroke="#1a1a1a" stroke-width="2.6" stroke-dasharray="2.4,1.0,2.4,0.3,4.2,0.9,5.9,0.9,5.9,1.0,3.8,0.5"/><circle cx="442.4" cy="863.5" r="4.0" fill="#7a7a7a" stroke="#1a1a1a" stroke-width="2.5" stroke-dasharray="2.4,0.5,3.2,0.7,2.1,1.0,3.6,0.6,2.7,0.6,4.2,0.7,3.9,0.7"/><circle cx="451.1" cy="864.3" r="4.0" fill="#7a7a7a" stroke="#1a1a1a" stroke-width="2.6" stroke-dasharray="3.9,1.2,4.1,0.9,5.1,0.7,4.4,0.9,4.6,0.3"/><circle cx="432.2" cy="865" r="4.0" fill="#7a7a7a" stroke="#1a1a1a" stroke-width="2.9" stroke-dasharray="4.5,0.4,4.3,0.9,3.3,0.8,2.3,1.1,3.6,0.6,3.9,0.6"/><circle cx="381.1" cy="874.5" r="5.4" fill="#444" stroke="#1a1a1a" stroke-width="2.3" stroke-dasharray="2.8,0.7,3.0,0.8,4.0,0.9,5.2,0.4,5.5,1.0,3.7,0.9,5.3,0.4"/><circle cx="391.3" cy="874.5" r="4.4" fill="#7a7a7a" stroke="#1a1a1a" stroke-width="2.6" stroke-dasharray="2.7,0.3,5.6,1.1,2.4,0.5,5.0,1.0,3.1,0.7,4.1,0.7,2.9,1.2"/><circle cx="401.5" cy="877.4" r="2" fill="#111"/><circle cx="407.3" cy="880.3" r="3.9" fill="#7a7a7a" stroke="#1a1a1a" stroke-width="3.0" stroke-dasharray="3.1,1.2,2.9,0.5,4.0,0.5,3.0,0.4,5.7,1.0,5.9,0.7"/><circle cx="376.1" cy="881.0" r="1.4" fill="#111"/><circle cx="376.1" cy="881.0" r="0.9" fill="#111"/><circle cx="369.9" cy="886.7" r="1.3" fill="#111"/><circle cx="377.3" cy="887.4" r="1.1" fill="#111"/><circle cx="373.8" cy="884.7" r="4.4" fill="none" stroke="#151515" stroke-width="2.9" stroke-dasharray="2.4,1.0,4.2,1.2,4.0,1.5,3.0,1.5,5.5,1.2,2.8,1.8"/><circle cx="389.8" cy="881.8" r="4.8" fill="#7a7a7a" stroke="#1a1a1a" stroke-width="2.9" stroke-dasharray="5.5,0.5,3.4,0.4,3.1,0.6,2.7,0.8,4.9,0.5,4.2,0.6,4.0,0.4"/><circle cx="394.2" cy="887.6" r="4.0" fill="#444" stroke="#1a1a1a" stroke-width="2.9" stroke-dasharray="5.6,1.1,3.5,0.7,4.8,0.8,5.1,0.6,3.3,0.3"/><circle cx="384" cy="894.2" r="4.8" fill="#7a7a7a" stroke="#1a1a1a" stroke-width="2.5" stroke-dasharray="2.1,0.4,5.6,1.2,2.4,0.7,5.4,0.4,5.9,0.9,4.6,0.7,5.4,0.6"/><circle cx="403.7" cy="893.5" r="4.8" fill="#444" stroke="#1a1a1a" stroke-width="2.9" stroke-dasharray="2.8,1.1,2.8,0.5,3.3,0.7,5.0,0.5,2.9,0.5,4.0,0.4,3.8,0.6,5.1,1.0"/><circle cx="388.4" cy="902.2" r="4.0" fill="#7a7a7a" stroke="#1a1a1a" stroke-width="2.2" stroke-dasharray="2.2,1.2,2.9,0.9,5.4,1.1,5.1,0.3,5.3,0.7,5.5,0.3"/><circle cx="405.9" cy="900" r="4.0" fill="#7a7a7a" stroke="#1a1a1a" stroke-width="3.0" stroke-dasharray="2.4,0.9,3.3,0.6,5.1,1.1,4.3,0.8,2.2,1.0,2.5,0.5,3.6,1.1"/><circle cx="370.7" cy="901.4" r="1.0" fill="#111"/><circle cx="372.4" cy="907.8" r="1.0" fill="#111"/><circle cx="373.8" cy="901.4" r="1.2" fill="#111"/><circle cx="373.7" cy="907.5" r="0.9" fill="#111"/><circle cx="372.3" cy="904.4" r="3.4" fill="none" stroke="#151515" stroke-width="2.8" stroke-dasharray="2.6,1.8,2.1,0.4,2.8,0.8,4.7,0.9,4.3,0.8,3.8,1.6"/><circle cx="378" cy="866" r="3.0" fill="#7a7a7a" stroke="#1a1a1a" stroke-width="2.8" stroke-dasharray="4.0,0.4,4.1,0.5,3.5,0.5,5.3,0.6"/><circle cx="414" cy="874" r="3.4" fill="#7a7a7a" stroke="#1a1a1a" stroke-width="3.0" stroke-dasharray="4.0,1.0,5.6,0.8,3.8,0.6,5.1,0.3,2.2,1.2"/><circle cx="425" cy="870" r="3.0" fill="#444" stroke="#1a1a1a" stroke-width="2.7" stroke-dasharray="2.3,0.6,2.4,1.2,2.0,0.8,2.3,0.6,3.5,0.6,5.1,0.4"/><circle cx="448" cy="874" r="2.6" fill="#7a7a7a" stroke="#1a1a1a" stroke-width="2.7" stroke-dasharray="3.5,1.2,4.6,0.8,5.2,0.8,5.1,0.6"/><circle cx="372" cy="870" r="2.9" fill="#444" stroke="#1a1a1a" stroke-width="2.9" stroke-dasharray="3.4,1.1,4.4,0.4,2.3,0.5,2.9,0.4,3.8,0.5"/><circle cx="396" cy="899" r="3.0" fill="#444" stroke="#1a1a1a" stroke-width="2.4" stroke-dasharray="2.6,0.9,2.9,0.6,2.1,0.5,2.7,0.6,6.0,0.7"/><circle cx="412" cy="888" r="3.0" fill="#7a7a7a" stroke="#1a1a1a" stroke-width="2.6" stroke-dasharray="2.4,0.7,5.6,0.6,4.2,0.9,2.3,0.8,3.2,0.4"/><circle cx="378" cy="906" r="2.6" fill="#7a7a7a" stroke="#1a1a1a" stroke-width="2.2" stroke-dasharray="2.6,0.9,6.0,0.8,4.3,0.8,3.5,0.9"/><circle cx="399" cy="906" r="2.6" fill="#7a7a7a" stroke="#1a1a1a" stroke-width="2.9" stroke-dasharray="3.6,0.5,4.3,0.3,3.8,0.8,3.6,0.4"/><circle cx="419.4" cy="777.5" r="1.2" fill="#111"/><circle cx="418.5" cy="777.9" r="0.9" fill="#111"/><circle cx="418.1" cy="781.8" r="0.8" fill="#111"/><circle cx="418.2" cy="781.9" r="1.2" fill="#111"/><circle cx="420" cy="780" r="1.8" fill="#555" stroke="#111" stroke-width="1.6" stroke-dasharray="3.1,0.7,4.1,0.5,2.8,0.7"/><circle cx="448.0" cy="791.7" r="1.0" fill="#111"/><circle cx="447.8" cy="791.9" r="1.5" fill="#111"/><circle cx="444.3" cy="788.0" r="0.9" fill="#111"/><circle cx="443.4" cy="789.8" r="0.9" fill="#111"/><circle cx="446" cy="790" r="2.6" fill="#fff" stroke="#111" stroke-width="3.4" stroke-dasharray="4.2,0.9,5.9,0.4,6.3,0.6"/><circle cx="378.8" cy="787.9" r="1.0" fill="#111"/><circle cx="378.0" cy="788.6" r="1.6" fill="#111"/><circle cx="378.3" cy="791.7" r="1.2" fill="#111"/><circle cx="382.1" cy="788.9" r="0.9" fill="#111"/><circle cx="380" cy="790" r="1.7" fill="#555" stroke="#111" stroke-width="1.4" stroke-dasharray="4.7,1.2,3.3,0.8,2.8,1.2"/><circle cx="399.1" cy="816.5" r="1.2" fill="#111"/><circle cx="394.5" cy="817.3" r="1.2" fill="#111"/><circle cx="399.1" cy="819.5" r="1.3" fill="#111"/><circle cx="399.1" cy="819.5" r="1.5" fill="#111"/><circle cx="397" cy="818" r="1.8" fill="#555" stroke="#111" stroke-width="1.6" stroke-dasharray="2.5,0.3,3.1,0.3,2.4,0.8,3.5,0.4"/><circle cx="373.7" cy="823.0" r="1.1" fill="#111"/><circle cx="373.9" cy="823.8" r="0.8" fill="#111"/><circle cx="369.0" cy="826.1" r="1.5" fill="#111"/><circle cx="368.1" cy="823.8" r="1.6" fill="#111"/><circle cx="371" cy="824" r="2.9" fill="#fff" stroke="#111" stroke-width="3.4" stroke-dasharray="6.2,0.4,3.8,0.7,4.1,0.7,6.1,0.5"/></g>
<svg x="235" y="802.2" width="43.6" height="39.4" viewBox="0 0 43.6 39.4"><rect width="43.6" height="39.4" fill="#e4e0d8"/><circle cx="13.6" cy="37.2" r="0.7" fill="#a08050"/><circle cx="36.0" cy="30.3" r="0.7" fill="#b89860"/><circle cx="35.6" cy="12.7" r="0.5" fill="#a08050"/><circle cx="42.9" cy="13.8" r="0.4" fill="#a08050"/><circle cx="20.0" cy="7.8" r="0.4" fill="#a08050"/><circle cx="3.9" cy="36.6" r="0.4" fill="#403050"/><circle cx="3.1" cy="30.6" r="0.7" fill="#302838"/><circle cx="11.6" cy="20.0" r="0.6" fill="#a08050"/><circle cx="13.1" cy="8.1" r="0.4" fill="#403050"/><circle cx="9.4" cy="10.5" r="0.8" fill="#786048"/><circle cx="9.8" cy="5.1" r="0.3" fill="#c8b080"/><circle cx="34.9" cy="30.9" r="0.5" fill="#a08050"/><circle cx="1.4" cy="35.8" r="0.6" fill="#302838"/><circle cx="39.5" cy="4.8" r="0.4" fill="#786048"/><circle cx="32.6" cy="13.1" r="0.5" fill="#403050"/><circle cx="0.4" cy="23.7" r="0.6" fill="#a08050"/><circle cx="26.0" cy="19.9" r="0.6" fill="#a08050"/><circle cx="38.6" cy="19.7" r="0.4" fill="#c8b080"/><circle cx="10.1" cy="13.2" r="0.6" fill="#a08050"/><circle cx="3.1" cy="17.8" r="0.5" fill="#b89860"/><circle cx="22.7" cy="2.1" r="0.3" fill="#b89860"/><circle cx="22.4" cy="35.2" r="0.8" fill="#403050"/><circle cx="4.4" cy="8.0" r="0.7" fill="#403050"/><circle cx="23.4" cy="24.5" r="0.8" fill="#403050"/><circle cx="30.0" cy="22.7" r="0.7" fill="#c8b080"/><circle cx="15.5" cy="5.8" r="0.6" fill="#786048"/><circle cx="26.4" cy="0.5" r="0.7" fill="#302838"/><circle cx="35.5" cy="30.0" r="0.7" fill="#302838"/><circle cx="11.8" cy="13.7" r="0.8" fill="#c8b080"/><circle cx="33.5" cy="7.8" r="0.3" fill="#302838"/><circle cx="42.0" cy="25.2" r="0.6" fill="#b89860"/><circle cx="22.2" cy="32.1" r="0.7" fill="#b89860"/><circle cx="42.6" cy="10.3" r="0.8" fill="#a08050"/><circle cx="9.7" cy="36.5" r="0.5" fill="#786048"/><circle cx="6.3" cy="24.2" r="0.7" fill="#c8b080"/><circle cx="18.1" cy="17.0" r="0.4" fill="#403050"/><circle cx="30.7" cy="11.4" r="0.4" fill="#786048"/><circle cx="7.6" cy="16.9" r="0.7" fill="#c8b080"/><circle cx="42.9" cy="38.9" r="0.7" fill="#403050"/><circle cx="13.4" cy="12.5" r="0.3" fill="#b89860"/><circle cx="20.7" cy="6.4" r="0.6" fill="#786048"/><circle cx="7.4" cy="7.4" r="0.6" fill="#b89860"/><circle cx="43.0" cy="15.1" r="0.3" fill="#302838"/><circle cx="7.8" cy="22.9" r="0.4" fill="#302838"/><circle cx="43.2" cy="22.5" r="0.8" fill="#786048"/><circle cx="8.8" cy="38.5" r="0.8" fill="#a08050"/><circle cx="17.7" cy="12.4" r="0.4" fill="#403050"/><circle cx="25.0" cy="28.3" r="0.6" fill="#a08050"/><circle cx="10.9" cy="22.1" r="0.4" fill="#a08050"/><circle cx="13.4" cy="5.1" r="0.7" fill="#a08050"/><circle cx="12.8" cy="21.8" r="0.7" fill="#403050"/><circle cx="42.9" cy="9.6" r="0.7" fill="#c8b080"/><circle cx="10.6" cy="5.0" r="0.4" fill="#302838"/><circle cx="29.8" cy="30.2" r="0.5" fill="#302838"/><circle cx="36.6" cy="26.9" r="0.8" fill="#786048"/><circle cx="20.2" cy="7.2" r="0.6" fill="#c8b080"/><circle cx="12.0" cy="23.2" r="0.6" fill="#a08050"/><circle cx="14.5" cy="25.9" r="0.6" fill="#a08050"/><circle cx="5.5" cy="10.3" r="0.4" fill="#a08050"/><circle cx="13.4" cy="17.8" r="0.3" fill="#403050"/><circle cx="8.6" cy="27.9" r="0.4" fill="#786048"/><circle cx="23.4" cy="10.8" r="0.4" fill="#302838"/><circle cx="29.3" cy="32.3" r="0.8" fill="#302838"/><circle cx="12.9" cy="26.6" r="0.4" fill="#786048"/><circle cx="17.0" cy="18.6" r="0.5" fill="#302838"/><circle cx="11.4" cy="21.4" r="0.5" fill="#403050"/><circle cx="36.3" cy="29.6" r="0.6" fill="#b89860"/><circle cx="26.9" cy="32.9" r="0.5" fill="#b89860"/><circle cx="22.4" cy="30.6" r="0.4" fill="#302838"/><circle cx="42.0" cy="38.5" r="0.7" fill="#b89860"/><circle cx="22.8" cy="22.8" r="0.4" fill="#c8b080"/><circle cx="36.7" cy="16.5" r="0.6" fill="#786048"/><circle cx="14.4" cy="5.7" r="0.8" fill="#403050"/><circle cx="24.2" cy="4.1" r="0.4" fill="#786048"/><circle cx="25.3" cy="10.9" r="0.3" fill="#a08050"/><circle cx="29.0" cy="35.5" r="0.5" fill="#b89860"/><circle cx="18.0" cy="9.6" r="0.5" fill="#b89860"/><circle cx="2.2" cy="38.1" r="0.7" fill="#c8b080"/><circle cx="39.7" cy="19.6" r="0.6" fill="#302838"/><circle cx="41.8" cy="34.7" r="0.5" fill="#786048"/><circle cx="24.0" cy="24.8" r="0.7" fill="#a08050"/><circle cx="27.8" cy="38.9" r="0.5" fill="#b89860"/><circle cx="42.5" cy="37.7" r="0.8" fill="#786048"/><circle cx="34.7" cy="2.1" r="0.7" fill="#a08050"/><circle cx="7.5" cy="4.4" r="0.8" fill="#a08050"/><circle cx="19.5" cy="18.5" r="0.7" fill="#c8b080"/><circle cx="41.9" cy="34.7" r="0.3" fill="#b89860"/><circle cx="1.5" cy="18.9" r="0.8" fill="#302838"/><circle cx="1.2" cy="22.4" r="0.4" fill="#a08050"/><circle cx="19.0" cy="33.3" r="0.4" fill="#c8b080"/><circle cx="0.7" cy="0.6" r="0.5" fill="#c8b080"/><circle cx="23.4" cy="28.2" r="0.6" fill="#786048"/><circle cx="43.0" cy="1.8" r="0.5" fill="#b89860"/><circle cx="28.4" cy="10.5" r="0.6" fill="#786048"/><circle cx="15.4" cy="38.3" r="0.6" fill="#786048"/><circle cx="30.8" cy="6.4" r="0.8" fill="#b89860"/><circle cx="18.5" cy="18.3" r="0.7" fill="#b89860"/><circle cx="13.5" cy="16.5" r="0.6" fill="#403050"/><circle cx="1.8" cy="28.5" r="0.3" fill="#b89860"/><circle cx="35.2" cy="4.4" r="0.4" fill="#302838"/><circle cx="30.6" cy="23.2" r="0.7" fill="#302838"/><circle cx="4.6" cy="3.2" r="0.5" fill="#a08050"/><circle cx="2.1" cy="30.7" r="0.4" fill="#c8b080"/><circle cx="34.5" cy="15.8" r="0.5" fill="#c8b080"/><circle cx="5.1" cy="2.7" r="0.5" fill="#302838"/><circle cx="5.0" cy="8.8" r="0.6" fill="#b89860"/><circle cx="7.2" cy="34.4" r="0.7" fill="#b89860"/><circle cx="39.5" cy="7.6" r="0.6" fill="#786048"/><circle cx="33.2" cy="36.0" r="0.7" fill="#403050"/><circle cx="6.2" cy="7.7" r="0.5" fill="#a08050"/><circle cx="37.7" cy="36.8" r="0.4" fill="#302838"/><circle cx="12.1" cy="27.8" r="0.6" fill="#a08050"/><circle cx="42.5" cy="34.0" r="0.6" fill="#b89860"/><circle cx="21.7" cy="1.9" r="0.5" fill="#c8b080"/><circle cx="17.1" cy="19.7" r="0.3" fill="#786048"/><circle cx="3.1" cy="3.1" r="0.7" fill="#b89860"/><circle cx="43.0" cy="38.5" r="0.4" fill="#c8b080"/><circle cx="10.8" cy="23.8" r="0.5" fill="#a08050"/><circle cx="3.8" cy="16.4" r="0.3" fill="#786048"/><circle cx="30.4" cy="8.9" r="0.6" fill="#302838"/><circle cx="23.9" cy="13.1" r="0.9" fill="#5a4030"/><circle cx="17.0" cy="25.7" r="1.3" fill="#5a4030"/><circle cx="21.3" cy="29.1" r="0.7" fill="#302038"/><circle cx="28.5" cy="28.9" r="1.3" fill="#403060"/><circle cx="22.2" cy="24.6" r="0.7" fill="#302038"/><circle cx="23.0" cy="22.4" r="0.8" fill="#5a4030"/><circle cx="18.2" cy="19.6" r="1.2" fill="#5a4030"/><circle cx="23.0" cy="22.0" r="0.8" fill="#403060"/><circle cx="15.5" cy="24.5" r="0.7" fill="#403060"/><circle cx="20.5" cy="18.7" r="1.0" fill="#5a4030"/><circle cx="10.6" cy="27.3" r="0.9" fill="#302038"/><circle cx="27.1" cy="26.5" r="1.3" fill="#5a4030"/><circle cx="11.1" cy="16.1" r="0.8" fill="#302038"/><circle cx="20.6" cy="31.3" r="0.7" fill="#302038"/><circle cx="11.8" cy="18.4" r="0.8" fill="#403060"/><circle cx="22.4" cy="14.7" r="1.0" fill="#403060"/><circle cx="10.8" cy="18.4" r="0.8" fill="#403060"/><circle cx="17.4" cy="12.4" r="1.0" fill="#403060"/><circle cx="23.1" cy="31.1" r="1.4" fill="#302038"/><circle cx="28.5" cy="20.6" r="1.4" fill="#403060"/><circle cx="25.0" cy="14.5" r="1.0" fill="#403060"/><circle cx="28.1" cy="27.9" r="1.3" fill="#403060"/><circle cx="20.0" cy="25.0" r="0.7" fill="#403060"/><circle cx="14.4" cy="17.0" r="0.7" fill="#302038"/><circle cx="26.0" cy="25.6" r="1.3" fill="#302038"/><circle cx="19.7" cy="25.5" r="0.7" fill="#302038"/><circle cx="11.2" cy="25.2" r="1.3" fill="#5a4030"/><circle cx="10.4" cy="18.4" r="1.0" fill="#302038"/><circle cx="11.8" cy="27.2" r="0.8" fill="#403060"/><circle cx="25.5" cy="29.9" r="1.3" fill="#5a4030"/></svg>
<rect x="235.00" y="802.20" width="43.60" height="39.40" fill="none" stroke="#000" stroke-width="2.4"/>
<svg x="325.2" y="802.2" width="43.4" height="39.4" viewBox="0 0 43.4 39.4"><rect width="43.4" height="39.4" fill="#e8e4dc"/><circle cx="42.7" cy="29.7" r="0.5" fill="#c8b080"/><circle cx="12.5" cy="36.5" r="0.4" fill="#b89860"/><circle cx="40.0" cy="2.9" r="0.7" fill="#b89860"/><circle cx="31.8" cy="6.7" r="0.8" fill="#c8b080"/><circle cx="16.7" cy="8.4" r="0.5" fill="#c8b080"/><circle cx="37.1" cy="9.6" r="0.8" fill="#a08050"/><circle cx="4.4" cy="6.3" r="0.4" fill="#c8b080"/><circle cx="35.4" cy="18.7" r="0.8" fill="#b89860"/><circle cx="14.1" cy="6.9" r="0.6" fill="#c8b080"/><circle cx="35.4" cy="13.4" r="0.7" fill="#786048"/><circle cx="31.9" cy="28.9" r="0.6" fill="#c8b080"/><circle cx="24.4" cy="13.3" r="0.4" fill="#786048"/><circle cx="40.1" cy="2.6" r="0.7" fill="#604070"/><circle cx="31.4" cy="0.6" r="0.5" fill="#c8b080"/><circle cx="22.1" cy="25.4" r="0.6" fill="#604070"/><circle cx="28.0" cy="5.6" r="0.6" fill="#c8b080"/><circle cx="16.5" cy="24.5" r="0.8" fill="#c8b080"/><circle cx="41.9" cy="5.9" r="0.5" fill="#604070"/><circle cx="10.0" cy="19.2" r="0.3" fill="#a08050"/><circle cx="24.7" cy="25.3" r="0.8" fill="#c8b080"/><circle cx="42.3" cy="3.5" r="0.5" fill="#786048"/><circle cx="34.4" cy="11.1" r="0.7" fill="#b89860"/><circle cx="40.1" cy="10.6" r="0.7" fill="#604070"/><circle cx="5.0" cy="38.5" r="0.5" fill="#a08050"/><circle cx="29.6" cy="39.1" r="0.4" fill="#c8b080"/><circle cx="16.4" cy="10.4" r="0.7" fill="#a08050"/><circle cx="1.8" cy="29.0" r="0.3" fill="#a08050"/><circle cx="10.6" cy="13.5" r="0.6" fill="#c8b080"/><circle cx="40.5" cy="19.6" r="0.3" fill="#b89860"/><circle cx="36.6" cy="33.3" r="0.6" fill="#604070"/><circle cx="20.3" cy="9.3" r="0.7" fill="#c8b080"/><circle cx="23.3" cy="3.0" r="0.4" fill="#b89860"/><circle cx="28.0" cy="38.9" r="0.8" fill="#b89860"/><circle cx="6.5" cy="15.1" r="0.6" fill="#604070"/><circle cx="8.6" cy="25.6" r="0.5" fill="#a08050"/><circle cx="38.9" cy="11.5" r="0.8" fill="#c8b080"/><circle cx="9.9" cy="5.6" r="0.4" fill="#b89860"/><circle cx="2.1" cy="36.1" r="0.7" fill="#786048"/><circle cx="10.9" cy="38.0" r="0.7" fill="#604070"/><circle cx="32.1" cy="38.8" r="0.5" fill="#786048"/><circle cx="23.6" cy="1.4" r="0.7" fill="#b89860"/><circle cx="17.1" cy="28.3" r="0.6" fill="#a08050"/><circle cx="31.8" cy="16.4" r="0.6" fill="#b89860"/><circle cx="2.1" cy="35.6" r="0.4" fill="#a08050"/><circle cx="4.7" cy="16.3" r="0.6" fill="#786048"/><circle cx="25.0" cy="28.3" r="0.7" fill="#b89860"/><circle cx="26.6" cy="11.2" r="0.6" fill="#c8b080"/><circle cx="42.2" cy="23.9" r="0.3" fill="#604070"/><circle cx="34.4" cy="19.2" r="0.6" fill="#a08050"/><circle cx="3.2" cy="13.6" r="0.5" fill="#c8b080"/><circle cx="28.4" cy="14.0" r="0.4" fill="#604070"/><circle cx="42.6" cy="33.8" r="0.7" fill="#a08050"/><circle cx="20.1" cy="8.5" r="0.6" fill="#786048"/><circle cx="1.5" cy="17.9" r="0.5" fill="#786048"/><circle cx="34.6" cy="30.1" r="0.7" fill="#b89860"/><circle cx="14.7" cy="4.1" r="0.7" fill="#b89860"/><circle cx="37.1" cy="5.6" r="0.3" fill="#604070"/><circle cx="39.7" cy="26.6" r="0.7" fill="#c8b080"/><circle cx="37.0" cy="32.5" r="0.4" fill="#604070"/><circle cx="26.4" cy="5.5" r="0.7" fill="#786048"/><circle cx="18.0" cy="35.3" r="0.8" fill="#786048"/><circle cx="37.1" cy="31.0" r="0.6" fill="#604070"/><circle cx="22.2" cy="31.3" r="0.3" fill="#b89860"/><circle cx="15.7" cy="27.7" r="0.4" fill="#c8b080"/><circle cx="40.2" cy="18.8" r="0.5" fill="#604070"/><circle cx="42.5" cy="1.1" r="0.6" fill="#b89860"/><circle cx="15.8" cy="25.8" r="0.6" fill="#a08050"/><circle cx="31.2" cy="25.6" r="0.7" fill="#786048"/><circle cx="24.4" cy="25.0" r="0.8" fill="#786048"/><circle cx="32.1" cy="1.2" r="0.4" fill="#786048"/><circle cx="15.6" cy="37.9" r="0.7" fill="#a08050"/><circle cx="12.9" cy="11.3" r="0.8" fill="#786048"/><circle cx="12.4" cy="20.2" r="0.6" fill="#604070"/><circle cx="35.9" cy="16.1" r="0.8" fill="#604070"/><circle cx="24.9" cy="38.1" r="0.6" fill="#604070"/><circle cx="40.9" cy="29.3" r="0.6" fill="#b89860"/><circle cx="22.4" cy="15.2" r="0.4" fill="#a08050"/><circle cx="21.0" cy="15.0" r="0.4" fill="#a08050"/><circle cx="6.0" cy="8.6" r="0.5" fill="#b89860"/><circle cx="26.0" cy="16.6" r="0.5" fill="#786048"/><circle cx="27.3" cy="8.9" r="0.8" fill="#604070"/><circle cx="8.9" cy="4.9" r="0.6" fill="#a08050"/><circle cx="5.6" cy="1.1" r="0.6" fill="#604070"/><circle cx="15.5" cy="21.1" r="0.4" fill="#b89860"/><circle cx="0.7" cy="35.6" r="0.5" fill="#b89860"/><circle cx="4.7" cy="35.5" r="0.4" fill="#604070"/><circle cx="7.6" cy="21.9" r="0.8" fill="#786048"/><circle cx="31.7" cy="8.1" r="0.5" fill="#786048"/><circle cx="36.4" cy="0.8" r="0.5" fill="#a08050"/><circle cx="38.7" cy="9.1" r="0.8" fill="#604070"/><circle cx="17.1" cy="6.3" r="0.7" fill="#c8b080"/><circle cx="27.6" cy="23.4" r="0.6" fill="#604070"/><circle cx="6.3" cy="16.5" r="0.4" fill="#604070"/><circle cx="3.4" cy="3.7" r="0.6" fill="#604070"/><circle cx="25.3" cy="17.7" r="0.7" fill="#b89860"/><circle cx="24.9" cy="18.8" r="0.5" fill="#786048"/><circle cx="8.3" cy="18.3" r="0.8" fill="#b89860"/><circle cx="1.4" cy="22.9" r="0.7" fill="#a08050"/><circle cx="25.9" cy="19.1" r="0.5" fill="#786048"/><circle cx="7.9" cy="5.5" r="0.4" fill="#c8b080"/><circle cx="27.1" cy="28.3" r="0.6" fill="#604070"/><circle cx="10.6" cy="22.5" r="0.6" fill="#c8b080"/><circle cx="14.8" cy="7.7" r="0.7" fill="#c8b080"/><circle cx="24.7" cy="10.6" r="0.4" fill="#c8b080"/><circle cx="3.7" cy="27.0" r="0.3" fill="#c8b080"/><circle cx="22.8" cy="36.4" r="0.4" fill="#c8b080"/><circle cx="8.2" cy="21.8" r="0.6" fill="#b89860"/><circle cx="17.0" cy="35.1" r="0.5" fill="#b89860"/><circle cx="30.1" cy="24.2" r="0.7" fill="#786048"/><circle cx="30.2" cy="31.2" r="0.6" fill="#604070"/><circle cx="42.3" cy="33.5" r="0.6" fill="#b89860"/><circle cx="12.6" cy="16.3" r="0.7" fill="#b89860"/><circle cx="22.9" cy="15.1" r="0.4" fill="#786048"/><circle cx="1.1" cy="14.8" r="0.7" fill="#786048"/><circle cx="25.5" cy="11.5" r="0.4" fill="#786048"/><circle cx="2.0" cy="29.9" r="0.4" fill="#786048"/><circle cx="6.5" cy="29.1" r="0.4" fill="#a08050"/><circle cx="7.5" cy="5.5" r="0.7" fill="#604070"/><circle cx="25.3" cy="5.2" r="0.6" fill="#604070"/><circle cx="33.1" cy="17.2" r="0.7" fill="#786048"/><circle cx="19.9" cy="27.6" r="1.0" fill="#6a1a30"/><circle cx="30.9" cy="20.6" r="0.9" fill="#6a1a30"/><circle cx="26.1" cy="16.5" r="0.7" fill="#302040"/><circle cx="30.8" cy="21.7" r="1.1" fill="#6a1a30"/><circle cx="16.7" cy="14.2" r="0.9" fill="#6a1a30"/><circle cx="12.9" cy="16.3" r="0.6" fill="#401828"/><circle cx="15.7" cy="18.2" r="1.4" fill="#8a3040"/><circle cx="25.1" cy="16.2" r="0.7" fill="#401828"/><circle cx="20.7" cy="12.1" r="1.0" fill="#401828"/><circle cx="16.0" cy="26.6" r="1.1" fill="#401828"/><circle cx="24.5" cy="27.8" r="0.7" fill="#302040"/><circle cx="23.5" cy="30.3" r="1.0" fill="#302040"/><circle cx="28.1" cy="14.3" r="0.7" fill="#401828"/><circle cx="25.3" cy="27.1" r="0.7" fill="#401828"/><circle cx="27.0" cy="28.6" r="0.7" fill="#401828"/><circle cx="21.2" cy="15.1" r="0.9" fill="#6a1a30"/><circle cx="13.6" cy="14.2" r="0.9" fill="#8a3040"/><circle cx="25.1" cy="28.1" r="1.0" fill="#302040"/><circle cx="13.9" cy="19.0" r="1.3" fill="#302040"/><circle cx="27.6" cy="18.4" r="0.9" fill="#401828"/><circle cx="16.9" cy="30.3" r="0.7" fill="#401828"/><circle cx="18.0" cy="12.5" r="1.2" fill="#302040"/><circle cx="22.8" cy="26.6" r="0.7" fill="#8a3040"/><circle cx="21.5" cy="27.3" r="1.1" fill="#8a3040"/><circle cx="24.1" cy="26.5" r="0.6" fill="#6a1a30"/><circle cx="29.6" cy="16.3" r="1.3" fill="#401828"/><circle cx="27.1" cy="14.7" r="1.3" fill="#401828"/><circle cx="13.0" cy="18.3" r="1.2" fill="#6a1a30"/><circle cx="18.6" cy="12.1" r="1.2" fill="#6a1a30"/><circle cx="20.8" cy="13.9" r="0.8" fill="#401828"/><circle cx="17.1" cy="16.2" r="0.9" fill="#6a1a30"/><circle cx="23.7" cy="15.3" r="1.0" fill="#6a1a30"/><circle cx="25.5" cy="26.7" r="0.9" fill="#302040"/><circle cx="27.7" cy="18.9" r="1.2" fill="#401828"/><circle cx="11.5" cy="18.3" r="0.6" fill="#302040"/><circle cx="14.2" cy="20.3" r="1.4" fill="#8a3040"/><circle cx="18.4" cy="29.5" r="1.0" fill="#6a1a30"/><circle cx="25.3" cy="14.3" r="0.8" fill="#6a1a30"/><circle cx="22.4" cy="27.1" r="0.7" fill="#401828"/><circle cx="30.6" cy="20.6" r="1.3" fill="#6a1a30"/><circle cx="21.4" cy="28.5" r="0.8" fill="#302040"/><circle cx="20.8" cy="30.6" r="0.7" fill="#8a3040"/><circle cx="16.7" cy="26.2" r="0.9" fill="#6a1a30"/><circle cx="25.5" cy="12.2" r="1.0" fill="#302040"/><circle cx="15.5" cy="23.5" r="1.1" fill="#302040"/><circle cx="16.5" cy="29.2" r="0.9" fill="#401828"/><circle cx="15.1" cy="27.9" r="0.7" fill="#401828"/><circle cx="24.3" cy="27.2" r="1.2" fill="#302040"/><circle cx="13.2" cy="25.6" r="0.7" fill="#8a3040"/><circle cx="11.8" cy="17.2" r="1.3" fill="#8a3040"/><circle cx="16.8" cy="14.8" r="0.7" fill="#6a1a30"/><circle cx="19.8" cy="29.2" r="0.6" fill="#8a3040"/><circle cx="17.6" cy="12.1" r="1.0" fill="#6a1a30"/><circle cx="25.2" cy="27.5" r="1.4" fill="#401828"/><circle cx="17.3" cy="15.3" r="0.8" fill="#302040"/><circle cx="15.9" cy="15.3" r="1.1" fill="#8a3040"/><circle cx="29.2" cy="18.0" r="0.7" fill="#401828"/><circle cx="12.3" cy="24.8" r="0.8" fill="#302040"/><circle cx="23.5" cy="27.4" r="0.7" fill="#302040"/><circle cx="23.4" cy="15.1" r="1.3" fill="#8a3040"/><circle cx="14.7" cy="20.7" r="1.2" fill="#302040"/><circle cx="18.9" cy="13.3" r="1.2" fill="#401828"/><circle cx="26.7" cy="26.6" r="1.0" fill="#302040"/><circle cx="16.1" cy="28.2" r="1.4" fill="#302040"/><circle cx="12.3" cy="15.8" r="1.0" fill="#401828"/><circle cx="17.7" cy="29.8" r="0.8" fill="#8a3040"/><circle cx="12.9" cy="18.1" r="0.9" fill="#8a3040"/><circle cx="28.3" cy="20.3" r="1.3" fill="#8a3040"/><circle cx="16.8" cy="13.9" r="1.0" fill="#302040"/><circle cx="14.4" cy="23.4" r="1.2" fill="#401828"/><circle cx="36.2" cy="12.3" r="0.5" fill="#6a1a30"/><circle cx="34.3" cy="3.6" r="1.2" fill="#502030"/><circle cx="41.7" cy="5.0" r="0.9" fill="#502030"/><circle cx="35.7" cy="2.0" r="0.5" fill="#502030"/><circle cx="35.0" cy="4.5" r="1.2" fill="#6a1a30"/><circle cx="39.2" cy="6.2" r="1.1" fill="#502030"/><circle cx="31.2" cy="7.3" r="0.9" fill="#6a1a30"/><circle cx="31.4" cy="8.0" r="0.5" fill="#6a1a30"/><circle cx="39.2" cy="3.9" r="0.8" fill="#6a1a30"/><circle cx="30.8" cy="3.5" r="1.0" fill="#502030"/><circle cx="33.7" cy="4.2" r="1.2" fill="#6a1a30"/><circle cx="36.0" cy="1.8" r="0.7" fill="#6a1a30"/><circle cx="34.8" cy="6.0" r="0.9" fill="#6a1a30"/><circle cx="39.7" cy="3.4" r="0.8" fill="#6a1a30"/><circle cx="37.5" cy="4.1" r="1.0" fill="#502030"/><circle cx="36.6" cy="7.2" r="0.7" fill="#6a1a30"/><circle cx="34.2" cy="-0.4" r="0.9" fill="#6a1a30"/><circle cx="35.4" cy="8.3" r="1.0" fill="#6a1a30"/><circle cx="34.6" cy="7.8" r="1.0" fill="#6a1a30"/><circle cx="30.5" cy="9.7" r="1.0" fill="#6a1a30"/></svg>
<rect x="325.20" y="802.20" width="43.40" height="39.40" fill="none" stroke="#000" stroke-width="2.4"/>
<svg x="414.4" y="802.2" width="44" height="39.4" viewBox="0 0 44 39.4"><rect width="44" height="39.4" fill="#e8eef2"/><circle cx="23.9" cy="1.7" r="0.4" fill="#b0c0d0"/><circle cx="24.5" cy="31.3" r="0.7" fill="#90a8c0"/><circle cx="25.3" cy="29.1" r="0.7" fill="#90a8c0"/><circle cx="9.5" cy="14.5" r="0.5" fill="#b0c0d0"/><circle cx="41.6" cy="28.2" r="0.5" fill="#b0c0d0"/><circle cx="41.7" cy="20.6" r="0.6" fill="#b0c0d0"/><circle cx="17.4" cy="25.3" r="0.5" fill="#b0c0d0"/><circle cx="17.7" cy="32.1" r="0.6" fill="#90a8c0"/><circle cx="28.0" cy="27.2" r="0.5" fill="#b0c0d0"/><circle cx="28.9" cy="29.3" r="0.5" fill="#90a8c0"/><circle cx="13.2" cy="17.0" r="0.7" fill="#90a8c0"/><circle cx="25.7" cy="31.1" r="0.3" fill="#90a8c0"/><circle cx="23.3" cy="21.9" r="0.4" fill="#b0c0d0"/><circle cx="35.8" cy="21.3" r="0.4" fill="#b0c0d0"/><circle cx="38.2" cy="30.3" r="0.5" fill="#b0c0d0"/><circle cx="6.1" cy="34.0" r="0.6" fill="#90a8c0"/><circle cx="37.1" cy="1.5" r="0.6" fill="#90a8c0"/><circle cx="12.9" cy="36.0" r="0.4" fill="#b0c0d0"/><circle cx="17.7" cy="20.6" r="0.6" fill="#90a8c0"/><circle cx="31.6" cy="25.7" r="0.7" fill="#b0c0d0"/><circle cx="24.6" cy="29.1" r="0.5" fill="#b0c0d0"/><circle cx="27.2" cy="11.4" r="0.5" fill="#b0c0d0"/><circle cx="41.1" cy="33.5" r="0.6" fill="#90a8c0"/><circle cx="9.4" cy="31.0" r="0.6" fill="#b0c0d0"/><circle cx="14.8" cy="1.3" r="0.6" fill="#90a8c0"/><circle cx="2.3" cy="33.5" r="0.5" fill="#b0c0d0"/><circle cx="41.6" cy="26.4" r="0.6" fill="#b0c0d0"/><circle cx="20.8" cy="34.4" r="0.4" fill="#b0c0d0"/><circle cx="0.8" cy="21.5" r="0.3" fill="#90a8c0"/><circle cx="41.5" cy="7.7" r="0.5" fill="#90a8c0"/><circle cx="13.4" cy="26.2" r="0.8" fill="#b0c0d0"/><circle cx="1.4" cy="4.4" r="0.7" fill="#b0c0d0"/><circle cx="0.9" cy="34.1" r="0.6" fill="#90a8c0"/><circle cx="42.0" cy="17.9" r="0.6" fill="#b0c0d0"/><circle cx="22.4" cy="21.5" r="0.5" fill="#90a8c0"/><circle cx="11.5" cy="20.0" r="0.8" fill="#90a8c0"/><circle cx="30.0" cy="31.9" r="0.3" fill="#b0c0d0"/><circle cx="18.6" cy="25.3" r="0.8" fill="#b0c0d0"/><circle cx="3.0" cy="23.1" r="0.3" fill="#90a8c0"/><circle cx="3.3" cy="36.3" r="0.7" fill="#90a8c0"/><circle cx="6.4" cy="19.8" r="0.3" fill="#b0c0d0"/><circle cx="7.2" cy="20.2" r="0.5" fill="#90a8c0"/><circle cx="28.4" cy="29.3" r="0.5" fill="#b0c0d0"/><circle cx="29.9" cy="5.9" r="0.7" fill="#90a8c0"/><circle cx="40.2" cy="35.7" r="0.5" fill="#90a8c0"/><circle cx="1.7" cy="15.3" r="0.8" fill="#b0c0d0"/><circle cx="28.5" cy="37.4" r="0.6" fill="#90a8c0"/><circle cx="27.8" cy="5.5" r="0.3" fill="#b0c0d0"/><circle cx="33.2" cy="4.5" r="0.5" fill="#90a8c0"/><circle cx="15.4" cy="21.2" r="0.3" fill="#90a8c0"/><circle cx="1.2" cy="36.8" r="0.7" fill="#b0c0d0"/><circle cx="14.8" cy="32.6" r="0.4" fill="#b0c0d0"/><circle cx="32.3" cy="0.1" r="0.5" fill="#b0c0d0"/><circle cx="11.7" cy="3.2" r="0.7" fill="#90a8c0"/><circle cx="25.8" cy="14.5" r="0.6" fill="#b0c0d0"/><circle cx="41.5" cy="14.2" r="0.4" fill="#b0c0d0"/><circle cx="37.5" cy="4.7" r="0.6" fill="#b0c0d0"/><circle cx="12.2" cy="16.0" r="0.4" fill="#b0c0d0"/><circle cx="32.7" cy="6.9" r="0.8" fill="#b0c0d0"/><circle cx="11.2" cy="23.4" r="0.5" fill="#b0c0d0"/><path d="M22,4 C30,2 38,4 40,10 C42,16 39,20 40,26 C38,32 30,34 22,34 C14,35 6,34 5,30 C4,26 10,26 14,28 C20,29 26,26 28,20 C29,14 26,10 22,9 Z" fill="#1a0808"/><circle cx="32" cy="16" r="5" fill="#1a0808"/><circle cx="18" cy="31" r="4" fill="#2a0c0c"/><circle cx="11.4" cy="15.5" r="1.0" fill="#e03030"/><circle cx="16.8" cy="8.4" r="1.5" fill="#e03030"/><circle cx="15.3" cy="10.0" r="1.5" fill="#e03030"/><circle cx="12.9" cy="21.3" r="1.6" fill="#601010"/><circle cx="12.1" cy="22.1" r="1.5" fill="#a01818"/><circle cx="12.6" cy="21.5" r="1.8" fill="#a01818"/><circle cx="17.1" cy="10.0" r="1.1" fill="#a01818"/><circle cx="20.9" cy="9.1" r="1.2" fill="#a01818"/><circle cx="12.4" cy="12.1" r="1.1" fill="#601010"/><circle cx="12.1" cy="15.8" r="1.6" fill="#601010"/><circle cx="17.3" cy="8.2" r="1.4" fill="#e03030"/><circle cx="23.5" cy="6.6" r="1.1" fill="#a01818"/><circle cx="12.9" cy="21.2" r="1.4" fill="#a01818"/><circle cx="24.6" cy="7.9" r="1.9" fill="#e03030"/><circle cx="11.5" cy="19.6" r="1.7" fill="#d02020"/><circle cx="15.9" cy="9.2" r="1.0" fill="#601010"/><circle cx="20.9" cy="8.8" r="1.0" fill="#e03030"/><circle cx="16.5" cy="9.6" r="1.3" fill="#e03030"/><circle cx="16.9" cy="10.0" r="1.5" fill="#601010"/><circle cx="11.5" cy="17.3" r="1.9" fill="#a01818"/><circle cx="12.3" cy="16.8" r="1.6" fill="#a01818"/><circle cx="14.4" cy="8.5" r="1.6" fill="#e03030"/><circle cx="12.3" cy="16.2" r="1.6" fill="#d02020"/><circle cx="10.3" cy="13.9" r="1.0" fill="#d02020"/><circle cx="21.9" cy="9.5" r="1.2" fill="#601010"/><circle cx="10.6" cy="20.9" r="1.9" fill="#a01818"/><circle cx="20.2" cy="9.6" r="1.8" fill="#d02020"/><circle cx="10.7" cy="13.8" r="1.6" fill="#e03030"/><circle cx="11.1" cy="17.6" r="1.7" fill="#a01818"/><circle cx="13.2" cy="10.2" r="1.5" fill="#d02020"/><circle cx="23.5" cy="9.9" r="1.8" fill="#d02020"/><circle cx="14.7" cy="8.4" r="0.9" fill="#a01818"/><circle cx="12.7" cy="17.8" r="1.2" fill="#601010"/><circle cx="18.2" cy="8.3" r="1.5" fill="#e03030"/><circle cx="11.7" cy="21.2" r="2.0" fill="#a01818"/><circle cx="12.0" cy="19.2" r="1.8" fill="#d02020"/><circle cx="14.6" cy="12.1" r="1.9" fill="#a01818"/><circle cx="16.3" cy="10.8" r="1.8" fill="#a01818"/><circle cx="21.5" cy="8.7" r="1.0" fill="#601010"/><circle cx="10.4" cy="17.7" r="1.2" fill="#e03030"/><circle cx="12.6" cy="11.3" r="1.8" fill="#e03030"/><circle cx="17.9" cy="7.4" r="1.5" fill="#a01818"/><circle cx="22.7" cy="8.9" r="1.9" fill="#e03030"/><circle cx="18.8" cy="8.1" r="2.0" fill="#e03030"/><circle cx="15.7" cy="10.3" r="1.5" fill="#a01818"/><circle cx="22.8" cy="9.5" r="1.2" fill="#c02020"/><circle cx="28.6" cy="10.2" r="1.0" fill="#c02020"/><circle cx="23.7" cy="9.4" r="1.0" fill="#c02020"/><circle cx="28.5" cy="13.2" r="1.0" fill="#c02020"/><circle cx="22.6" cy="8.8" r="0.9" fill="#c02020"/><circle cx="22.5" cy="9.8" r="1.4" fill="#c02020"/><circle cx="31.1" cy="14.8" r="1.5" fill="#c02020"/><circle cx="31.1" cy="18.0" r="1.7" fill="#c02020"/><circle cx="29.3" cy="14.4" r="1.4" fill="#c02020"/><circle cx="30.1" cy="17.4" r="1.2" fill="#c02020"/><circle cx="26.2" cy="10.0" r="1.6" fill="#c02020"/><circle cx="27.6" cy="12.5" r="1.4" fill="#c02020"/></svg>
<rect x="414.40" y="802.20" width="44.00" height="39.40" fill="none" stroke="#000" stroke-width="2.4"/>
<svg x="235" y="870.5" width="43.6" height="39.6" viewBox="0 0 43.6 39.6"><rect width="43.6" height="39.6" fill="#e8e4dc"/><circle cx="20.1" cy="37.1" r="0.7" fill="#403050"/><circle cx="39.4" cy="4.9" r="0.6" fill="#403050"/><circle cx="3.5" cy="39.4" r="0.3" fill="#786048"/><circle cx="38.6" cy="3.5" r="0.8" fill="#a08050"/><circle cx="36.4" cy="6.7" r="0.7" fill="#403050"/><circle cx="17.4" cy="13.8" r="0.4" fill="#403050"/><circle cx="37.6" cy="28.0" r="0.8" fill="#c8b080"/><circle cx="13.4" cy="17.9" r="0.3" fill="#786048"/><circle cx="15.3" cy="30.6" r="0.6" fill="#403050"/><circle cx="33.9" cy="36.7" r="0.6" fill="#b89860"/><circle cx="35.5" cy="9.6" r="0.4" fill="#b89860"/><circle cx="19.3" cy="26.6" r="0.4" fill="#403050"/><circle cx="27.8" cy="22.1" r="0.5" fill="#c8b080"/><circle cx="36.3" cy="31.6" r="0.3" fill="#c8b080"/><circle cx="12.3" cy="33.3" r="0.7" fill="#403050"/><circle cx="4.9" cy="16.0" r="0.5" fill="#c8b080"/><circle cx="6.6" cy="3.9" r="0.7" fill="#a08050"/><circle cx="1.9" cy="37.4" r="0.8" fill="#786048"/><circle cx="19.2" cy="26.4" r="0.4" fill="#403050"/><circle cx="15.7" cy="32.7" r="0.8" fill="#a08050"/><circle cx="42.4" cy="5.9" r="0.4" fill="#786048"/><circle cx="35.6" cy="14.3" r="0.4" fill="#403050"/><circle cx="2.7" cy="32.9" r="0.8" fill="#403050"/><circle cx="31.9" cy="8.4" r="0.8" fill="#403050"/><circle cx="42.5" cy="27.4" r="0.7" fill="#403050"/><circle cx="12.2" cy="36.2" r="0.7" fill="#c8b080"/><circle cx="28.5" cy="6.9" r="0.7" fill="#a08050"/><circle cx="10.7" cy="33.3" r="0.4" fill="#c8b080"/><circle cx="39.9" cy="9.0" r="0.7" fill="#c8b080"/><circle cx="34.7" cy="31.7" r="0.7" fill="#786048"/><circle cx="15.0" cy="13.3" r="0.5" fill="#a08050"/><circle cx="33.7" cy="7.3" r="0.4" fill="#c8b080"/><circle cx="24.7" cy="18.0" r="0.6" fill="#b89860"/><circle cx="20.1" cy="35.6" r="0.7" fill="#b89860"/><circle cx="28.6" cy="22.9" r="0.4" fill="#786048"/><circle cx="14.8" cy="32.5" r="0.5" fill="#a08050"/><circle cx="42.3" cy="38.5" r="0.4" fill="#c8b080"/><circle cx="31.4" cy="9.0" r="0.7" fill="#c8b080"/><circle cx="33.0" cy="28.4" r="0.7" fill="#b89860"/><circle cx="14.3" cy="22.6" r="0.6" fill="#a08050"/><circle cx="29.2" cy="38.3" r="0.6" fill="#c8b080"/><circle cx="17.9" cy="28.7" r="0.5" fill="#b89860"/><circle cx="12.3" cy="6.4" r="0.8" fill="#b89860"/><circle cx="35.2" cy="26.1" r="0.6" fill="#403050"/><circle cx="17.6" cy="39.5" r="0.7" fill="#786048"/><circle cx="11.5" cy="28.4" r="0.8" fill="#b89860"/><circle cx="9.1" cy="11.7" r="0.5" fill="#b89860"/><circle cx="27.2" cy="32.1" r="0.6" fill="#a08050"/><circle cx="9.5" cy="23.2" r="0.4" fill="#786048"/><circle cx="41.7" cy="15.8" r="0.4" fill="#c8b080"/><circle cx="15.9" cy="33.1" r="0.5" fill="#b89860"/><circle cx="31.2" cy="27.2" r="0.4" fill="#403050"/><circle cx="39.9" cy="27.7" r="0.6" fill="#786048"/><circle cx="43.5" cy="10.1" r="0.7" fill="#c8b080"/><circle cx="23.3" cy="8.7" r="0.5" fill="#b89860"/><circle cx="35.0" cy="9.7" r="0.3" fill="#a08050"/><circle cx="41.1" cy="27.5" r="0.8" fill="#c8b080"/><circle cx="9.6" cy="23.4" r="0.4" fill="#786048"/><circle cx="7.4" cy="13.3" r="0.5" fill="#403050"/><circle cx="12.3" cy="32.4" r="0.7" fill="#c8b080"/><circle cx="4.7" cy="37.0" r="0.5" fill="#c8b080"/><circle cx="42.7" cy="23.7" r="0.5" fill="#786048"/><circle cx="23.0" cy="11.8" r="0.6" fill="#786048"/><circle cx="20.9" cy="30.5" r="0.7" fill="#786048"/><circle cx="10.9" cy="13.2" r="0.6" fill="#786048"/><circle cx="33.5" cy="34.5" r="0.5" fill="#b89860"/><circle cx="3.0" cy="27.6" r="0.8" fill="#786048"/><circle cx="29.1" cy="27.3" r="0.6" fill="#786048"/><circle cx="0.8" cy="25.6" r="0.4" fill="#786048"/><circle cx="26.5" cy="23.8" r="0.5" fill="#a08050"/><circle cx="30.2" cy="38.5" r="0.5" fill="#786048"/><circle cx="25.6" cy="29.9" r="0.7" fill="#c8b080"/><circle cx="30.3" cy="16.3" r="0.6" fill="#c8b080"/><circle cx="3.4" cy="37.2" r="0.7" fill="#786048"/><circle cx="12.2" cy="26.7" r="0.7" fill="#b89860"/><circle cx="26.3" cy="11.4" r="0.5" fill="#b89860"/><circle cx="40.9" cy="24.3" r="0.5" fill="#403050"/><circle cx="6.2" cy="24.7" r="0.8" fill="#c8b080"/><circle cx="38.5" cy="0.8" r="0.7" fill="#c8b080"/><circle cx="17.0" cy="28.9" r="0.5" fill="#a08050"/><circle cx="19.1" cy="22.1" r="0.3" fill="#786048"/><circle cx="20.5" cy="14.8" r="0.5" fill="#a08050"/><circle cx="17.3" cy="19.9" r="0.8" fill="#a08050"/><circle cx="4.8" cy="33.7" r="0.4" fill="#c8b080"/><circle cx="36.3" cy="13.5" r="0.6" fill="#b89860"/><circle cx="6.9" cy="9.2" r="0.3" fill="#c8b080"/><circle cx="32.7" cy="27.9" r="0.4" fill="#c8b080"/><circle cx="25.8" cy="20.4" r="0.6" fill="#a08050"/><circle cx="14.9" cy="15.6" r="0.6" fill="#786048"/><circle cx="38.0" cy="24.1" r="0.5" fill="#a08050"/><circle cx="21.5" cy="39.3" r="0.4" fill="#786048"/><circle cx="17.8" cy="8.0" r="0.4" fill="#c8b080"/><circle cx="23.8" cy="27.7" r="0.3" fill="#c8b080"/><circle cx="38.9" cy="28.3" r="0.7" fill="#a08050"/><circle cx="27.4" cy="24.3" r="0.7" fill="#a08050"/><circle cx="39.4" cy="37.6" r="0.4" fill="#786048"/><circle cx="17.7" cy="34.4" r="0.5" fill="#786048"/><circle cx="1.4" cy="24.8" r="0.7" fill="#403050"/><circle cx="9.2" cy="33.9" r="0.7" fill="#a08050"/><circle cx="25.8" cy="4.2" r="0.5" fill="#786048"/><circle cx="19.9" cy="6.7" r="1.2" fill="#202030"/><circle cx="24.7" cy="7.9" r="1.2" fill="#202030"/><circle cx="14.4" cy="28.5" r="1.2" fill="#202030"/><circle cx="24.1" cy="8.7" r="0.8" fill="#302040"/><circle cx="28.0" cy="28.1" r="1.4" fill="#202030"/><circle cx="25.4" cy="24.9" r="0.9" fill="#4a3050"/><circle cx="29.3" cy="14.9" r="1.2" fill="#202030"/><circle cx="26.7" cy="23.5" r="1.2" fill="#302040"/><circle cx="20.8" cy="31.5" r="1.4" fill="#202030"/><circle cx="16.5" cy="27.2" r="1.5" fill="#302040"/><circle cx="12.0" cy="20.4" r="1.2" fill="#4a3050"/><circle cx="22.4" cy="9.3" r="0.6" fill="#4a3050"/><circle cx="28.4" cy="22.2" r="0.8" fill="#4a3050"/><circle cx="25.1" cy="11.5" r="1.2" fill="#4a3050"/><circle cx="11.0" cy="24.5" r="1.3" fill="#4a3050"/><circle cx="23.7" cy="26.1" r="0.7" fill="#4a3050"/><circle cx="11.2" cy="24.7" r="0.6" fill="#302040"/><circle cx="17.3" cy="31.0" r="1.1" fill="#302040"/><circle cx="28.7" cy="25.4" r="1.1" fill="#4a3050"/><circle cx="31.0" cy="14.4" r="1.2" fill="#202030"/><circle cx="10.6" cy="19.9" r="1.4" fill="#202030"/><circle cx="31.7" cy="18.9" r="0.7" fill="#302040"/><circle cx="21.0" cy="30.8" r="1.4" fill="#202030"/><circle cx="21.1" cy="11.3" r="0.7" fill="#4a3050"/><circle cx="12.3" cy="24.1" r="1.3" fill="#4a3050"/><circle cx="17.3" cy="10.5" r="1.2" fill="#302040"/><circle cx="28.0" cy="17.1" r="1.0" fill="#302040"/><circle cx="13.3" cy="22.6" r="1.2" fill="#302040"/><circle cx="11.5" cy="22.0" r="0.8" fill="#4a3050"/><circle cx="27.3" cy="28.0" r="0.6" fill="#202030"/><circle cx="12.9" cy="16.0" r="0.7" fill="#302040"/><circle cx="7.7" cy="17.8" r="0.7" fill="#4a3050"/><circle cx="10.9" cy="14.4" r="0.8" fill="#302040"/><circle cx="16.1" cy="30.7" r="0.8" fill="#202030"/><circle cx="25.6" cy="27.0" r="1.2" fill="#302040"/><circle cx="22.1" cy="28.2" r="1.0" fill="#302040"/><circle cx="26.0" cy="29.0" r="1.3" fill="#302040"/><circle cx="15.3" cy="8.4" r="1.1" fill="#4a3050"/><circle cx="15.3" cy="25.4" r="1.2" fill="#302040"/><circle cx="28.4" cy="23.4" r="1.4" fill="#4a3050"/><circle cx="17.6" cy="26.2" r="1.4" fill="#202030"/><circle cx="23.2" cy="29.9" r="0.9" fill="#302040"/><circle cx="13.9" cy="9.2" r="0.6" fill="#302040"/><circle cx="28.1" cy="14.8" r="1.4" fill="#302040"/><circle cx="12.3" cy="26.3" r="0.6" fill="#202030"/><circle cx="25.8" cy="30.0" r="0.6" fill="#4a3050"/><circle cx="13.4" cy="11.2" r="0.9" fill="#202030"/><circle cx="16.6" cy="27.3" r="0.7" fill="#302040"/><circle cx="26.1" cy="23.7" r="1.0" fill="#4a3050"/><circle cx="21.0" cy="11.0" r="1.0" fill="#202030"/><circle cx="9.6" cy="16.0" r="1.0" fill="#202030"/><circle cx="25.2" cy="27.2" r="0.9" fill="#4a3050"/><circle cx="28.7" cy="19.8" r="0.7" fill="#4a3050"/><circle cx="11.6" cy="27.9" r="0.9" fill="#302040"/><circle cx="20.3" cy="9.3" r="1.2" fill="#202030"/><circle cx="17.6" cy="7.4" r="0.8" fill="#4a3050"/><circle cx="16.6" cy="11.0" r="1.4" fill="#302040"/><circle cx="15.4" cy="9.2" r="0.8" fill="#4a3050"/><circle cx="12.7" cy="8.9" r="1.5" fill="#202030"/><circle cx="28.4" cy="11.6" r="1.4" fill="#302040"/><path d="M26,26 C32,24 36,28 34,34 C30,37 24,36 22,32 Z" fill="#201010"/><circle cx="31" cy="30" r="2" fill="#802020"/><path d="M36,2 C40,12 41,24 38,38" stroke="#8080a0" stroke-width="0.8" fill="none"/><path d="M33,2 C37,12 38,24 35,38" stroke="#a0a0b8" stroke-width="0.6" fill="none"/></svg>
<rect x="235.00" y="870.50" width="43.60" height="39.60" fill="none" stroke="#000" stroke-width="2.4"/>
<svg x="325.2" y="870.5" width="43.4" height="39.6" viewBox="0 0 43.4 39.6"><rect width="43.4" height="39.6" fill="#ece8e0"/><circle cx="2.4" cy="18.6" r="0.3" fill="#b89860"/><circle cx="9.4" cy="5.0" r="0.5" fill="#a08050"/><circle cx="17.6" cy="5.5" r="0.4" fill="#a08050"/><circle cx="2.8" cy="6.0" r="0.5" fill="#b89860"/><circle cx="29.5" cy="18.3" r="0.5" fill="#786048"/><circle cx="15.6" cy="31.7" r="0.3" fill="#a08050"/><circle cx="1.1" cy="36.8" r="0.8" fill="#b89860"/><circle cx="18.8" cy="11.6" r="0.6" fill="#786048"/><circle cx="7.7" cy="10.7" r="0.5" fill="#c8b080"/><circle cx="26.8" cy="17.8" r="0.4" fill="#a08050"/><circle cx="27.0" cy="16.5" r="0.8" fill="#b89860"/><circle cx="10.9" cy="39.4" r="0.6" fill="#b89860"/><circle cx="11.0" cy="12.5" r="0.5" fill="#c8b080"/><circle cx="13.2" cy="36.4" r="0.4" fill="#c8b080"/><circle cx="29.9" cy="37.0" r="0.7" fill="#786048"/><circle cx="33.5" cy="4.2" r="0.7" fill="#b89860"/><circle cx="35.1" cy="36.0" r="0.7" fill="#c8b080"/><circle cx="7.3" cy="29.3" r="0.5" fill="#786048"/><circle cx="4.9" cy="14.8" r="0.5" fill="#b89860"/><circle cx="42.5" cy="10.1" r="0.4" fill="#c8b080"/><circle cx="2.0" cy="16.2" r="0.7" fill="#c8b080"/><circle cx="9.9" cy="36.9" r="0.6" fill="#c8b080"/><circle cx="16.7" cy="1.7" r="0.6" fill="#a08050"/><circle cx="38.9" cy="20.2" r="0.6" fill="#786048"/><circle cx="39.7" cy="12.6" r="0.3" fill="#a08050"/><circle cx="15.8" cy="12.8" r="0.6" fill="#c8b080"/><circle cx="5.9" cy="16.2" r="0.3" fill="#c8b080"/><circle cx="42.4" cy="18.4" r="0.8" fill="#c8b080"/><circle cx="1.7" cy="23.0" r="0.6" fill="#786048"/><circle cx="3.3" cy="33.3" r="0.7" fill="#a08050"/><circle cx="34.6" cy="1.3" r="0.3" fill="#c8b080"/><circle cx="12.4" cy="29.0" r="0.6" fill="#b89860"/><circle cx="36.8" cy="14.6" r="0.7" fill="#a08050"/><circle cx="8.9" cy="8.5" r="0.4" fill="#a08050"/><circle cx="30.6" cy="6.2" r="0.6" fill="#b89860"/><circle cx="32.3" cy="34.0" r="0.7" fill="#786048"/><circle cx="24.5" cy="26.6" r="0.6" fill="#a08050"/><circle cx="8.3" cy="34.8" r="0.4" fill="#c8b080"/><circle cx="32.3" cy="12.0" r="0.5" fill="#b89860"/><circle cx="13.8" cy="14.7" r="0.6" fill="#b89860"/><circle cx="43.4" cy="34.4" r="0.7" fill="#b89860"/><circle cx="24.8" cy="8.6" r="0.7" fill="#b89860"/><circle cx="8.6" cy="26.7" r="0.8" fill="#b89860"/><circle cx="33.1" cy="11.6" r="0.4" fill="#a08050"/><circle cx="38.9" cy="29.1" r="0.5" fill="#786048"/><circle cx="4.6" cy="5.4" r="0.5" fill="#786048"/><circle cx="23.1" cy="4.7" r="0.4" fill="#a08050"/><circle cx="3.7" cy="34.6" r="0.5" fill="#c8b080"/><circle cx="6.3" cy="39.2" r="0.6" fill="#c8b080"/><circle cx="4.1" cy="32.0" r="0.8" fill="#b89860"/><circle cx="32.6" cy="15.2" r="0.4" fill="#c8b080"/><circle cx="31.1" cy="19.4" r="0.6" fill="#786048"/><circle cx="20.0" cy="26.0" r="0.4" fill="#786048"/><circle cx="13.5" cy="27.9" r="0.3" fill="#786048"/><circle cx="24.7" cy="39.2" r="0.3" fill="#c8b080"/><circle cx="8.6" cy="13.4" r="0.4" fill="#786048"/><circle cx="37.2" cy="36.8" r="0.7" fill="#a08050"/><circle cx="10.4" cy="32.8" r="0.6" fill="#c8b080"/><circle cx="10.1" cy="9.4" r="0.3" fill="#a08050"/><circle cx="10.8" cy="32.1" r="0.5" fill="#786048"/><circle cx="28.7" cy="32.0" r="0.3" fill="#786048"/><circle cx="27.0" cy="36.8" r="0.7" fill="#c8b080"/><circle cx="42.9" cy="10.2" r="0.3" fill="#b89860"/><circle cx="3.8" cy="5.3" r="0.7" fill="#786048"/><circle cx="4.2" cy="6.1" r="0.7" fill="#b89860"/><circle cx="14.0" cy="8.3" r="0.5" fill="#c8b080"/><circle cx="27.7" cy="31.7" r="0.5" fill="#a08050"/><circle cx="15.4" cy="17.7" r="0.5" fill="#a08050"/><circle cx="11.7" cy="3.9" r="0.6" fill="#b89860"/><circle cx="20.4" cy="16.6" r="0.7" fill="#b89860"/><circle cx="0.3" cy="7.6" r="0.6" fill="#b89860"/><circle cx="14.9" cy="14.1" r="0.5" fill="#a08050"/><circle cx="42.3" cy="35.9" r="0.6" fill="#a08050"/><circle cx="4.2" cy="25.2" r="0.7" fill="#b89860"/><circle cx="18.8" cy="35.2" r="0.5" fill="#a08050"/><circle cx="35.5" cy="32.1" r="0.5" fill="#a08050"/><circle cx="25.1" cy="12.6" r="0.4" fill="#a08050"/><circle cx="25.8" cy="7.7" r="0.4" fill="#786048"/><circle cx="41.3" cy="8.0" r="0.5" fill="#a08050"/><circle cx="29.2" cy="12.2" r="0.4" fill="#786048"/><circle cx="25.4" cy="33.4" r="0.5" fill="#c8b080"/><circle cx="33.7" cy="24.3" r="0.8" fill="#c8b080"/><circle cx="11.9" cy="34.1" r="0.8" fill="#b89860"/><circle cx="35.7" cy="38.8" r="0.8" fill="#b89860"/><circle cx="41.2" cy="27.0" r="0.6" fill="#786048"/><circle cx="42.0" cy="32.7" r="0.6" fill="#c8b080"/><circle cx="10.7" cy="7.5" r="0.4" fill="#c8b080"/><circle cx="33.9" cy="9.4" r="0.6" fill="#c8b080"/><circle cx="18.4" cy="19.7" r="0.7" fill="#b89860"/><circle cx="38.9" cy="32.5" r="0.5" fill="#a08050"/><circle cx="33.6" cy="5.4" r="0.8" fill="#b89860"/><circle cx="5.1" cy="19.7" r="0.5" fill="#a08050"/><circle cx="30.5" cy="9.1" r="0.8" fill="#a08050"/><circle cx="32.7" cy="32.6" r="0.4" fill="#786048"/><circle cx="20.3" cy="14.9" r="0.6" fill="#a08050"/><circle cx="7.9" cy="11.7" r="0.6" fill="#b89860"/><circle cx="24.9" cy="33.6" r="0.6" fill="#786048"/><circle cx="19.1" cy="36.4" r="0.8" fill="#786048"/><circle cx="31.6" cy="3.6" r="0.7" fill="#c8b080"/><circle cx="14.0" cy="13.3" r="0.3" fill="#786048"/><circle cx="2.6" cy="6.3" r="0.7" fill="#b89860"/><circle cx="40.4" cy="23.3" r="0.4" fill="#786048"/><circle cx="43.0" cy="20.6" r="0.7" fill="#786048"/><circle cx="9.0" cy="26.9" r="0.6" fill="#a08050"/><circle cx="25.1" cy="13.7" r="0.4" fill="#786048"/><circle cx="35.1" cy="28.6" r="0.3" fill="#b89860"/><circle cx="42.3" cy="24.0" r="0.6" fill="#786048"/><circle cx="10.8" cy="18.3" r="0.8" fill="#786048"/><circle cx="21.7" cy="26.0" r="0.5" fill="#a08050"/><circle cx="16.7" cy="4.4" r="0.7" fill="#c8b080"/><circle cx="26.5" cy="12.5" r="1.8" fill="#2a0a10"/><circle cx="16.0" cy="26.1" r="1.7" fill="#501820"/><circle cx="18.9" cy="12.7" r="1.8" fill="#1a0808"/><circle cx="23.1" cy="25.2" r="1.3" fill="#3a1018"/><circle cx="29.9" cy="16.1" r="1.5" fill="#2a0a10"/><circle cx="14.0" cy="26.3" r="1.1" fill="#2a0a10"/><circle cx="22.8" cy="26.7" r="2.3" fill="#501820"/><circle cx="22.7" cy="27.3" r="1.1" fill="#501820"/><circle cx="14.9" cy="26.9" r="1.5" fill="#3a1018"/><circle cx="14.5" cy="28.6" r="1.6" fill="#2a0a10"/><circle cx="24.8" cy="13.7" r="2.0" fill="#2a0a10"/><circle cx="22.8" cy="25.6" r="1.9" fill="#1a0808"/><circle cx="14.2" cy="17.0" r="1.6" fill="#2a0a10"/><circle cx="29.6" cy="18.3" r="1.1" fill="#2a0a10"/><circle cx="10.0" cy="18.2" r="2.2" fill="#1a0808"/><circle cx="14.0" cy="19.3" r="1.4" fill="#2a0a10"/><circle cx="22.2" cy="13.6" r="2.1" fill="#2a0a10"/><circle cx="21.8" cy="25.7" r="1.0" fill="#3a1018"/><circle cx="17.5" cy="29.0" r="2.1" fill="#3a1018"/><circle cx="10.5" cy="22.9" r="1.7" fill="#1a0808"/><circle cx="27.1" cy="14.0" r="2.0" fill="#3a1018"/><circle cx="29.0" cy="21.5" r="1.0" fill="#2a0a10"/><circle cx="23.4" cy="26.0" r="1.7" fill="#3a1018"/><circle cx="18.0" cy="13.9" r="2.4" fill="#2a0a10"/><circle cx="21.0" cy="29.3" r="1.9" fill="#3a1018"/><circle cx="15.7" cy="14.8" r="1.8" fill="#2a0a10"/><circle cx="23.9" cy="26.9" r="2.2" fill="#2a0a10"/><circle cx="23.2" cy="25.0" r="1.5" fill="#501820"/><circle cx="24.5" cy="28.1" r="1.7" fill="#1a0808"/><circle cx="16.7" cy="28.3" r="1.5" fill="#2a0a10"/><circle cx="18.2" cy="28.4" r="1.8" fill="#501820"/><circle cx="23.9" cy="12.8" r="1.8" fill="#501820"/><circle cx="11.8" cy="22.0" r="2.3" fill="#2a0a10"/><circle cx="25.5" cy="24.4" r="1.5" fill="#2a0a10"/><circle cx="23.9" cy="12.3" r="2.1" fill="#501820"/><circle cx="26.7" cy="17.0" r="1.4" fill="#2a0a10"/><circle cx="23.9" cy="25.1" r="2.0" fill="#1a0808"/><circle cx="18.7" cy="12.3" r="1.2" fill="#501820"/><circle cx="15.1" cy="23.3" r="2.2" fill="#1a0808"/><circle cx="22.0" cy="25.4" r="2.3" fill="#1a0808"/><circle cx="17.3" cy="25.5" r="1.6" fill="#1a0808"/><circle cx="26.2" cy="26.3" r="2.0" fill="#501820"/><circle cx="13.3" cy="17.2" r="2.0" fill="#501820"/><circle cx="24.9" cy="22.7" r="2.1" fill="#1a0808"/><circle cx="14.2" cy="10.9" r="1.5" fill="#1a0808"/><circle cx="14.5" cy="14.2" r="2.3" fill="#1a0808"/><circle cx="17.7" cy="13.7" r="1.6" fill="#3a1018"/><circle cx="24.9" cy="14.2" r="2.3" fill="#3a1018"/><circle cx="14.4" cy="18.7" r="2.0" fill="#3a1018"/><circle cx="12.5" cy="13.7" r="2.4" fill="#2a0a10"/><circle cx="14.7" cy="21.7" r="1.2" fill="#501820"/><circle cx="18.8" cy="12.9" r="1.3" fill="#1a0808"/><circle cx="11.6" cy="23.3" r="2.4" fill="#2a0a10"/><circle cx="14.5" cy="24.4" r="1.4" fill="#3a1018"/><circle cx="21.7" cy="25.4" r="1.1" fill="#501820"/><circle cx="14.8" cy="28.2" r="1.2" fill="#1a0808"/><circle cx="14.8" cy="17.9" r="2.0" fill="#1a0808"/><circle cx="19.0" cy="26.1" r="1.6" fill="#1a0808"/><circle cx="21.6" cy="10.4" r="2.2" fill="#3a1018"/><circle cx="9.7" cy="16.9" r="1.5" fill="#3a1018"/><circle cx="30.4" cy="20.8" r="2.1" fill="#501820"/><circle cx="21.7" cy="12.8" r="2.2" fill="#1a0808"/><circle cx="26.8" cy="14.4" r="1.3" fill="#3a1018"/><circle cx="21.8" cy="9.9" r="1.2" fill="#2a0a10"/><circle cx="11.5" cy="24.6" r="2.1" fill="#501820"/><circle cx="26.0" cy="20.0" r="1.0" fill="#3a1018"/><circle cx="25.0" cy="17.4" r="1.8" fill="#501820"/><circle cx="25.1" cy="24.8" r="1.8" fill="#501820"/><circle cx="14.7" cy="24.7" r="2.0" fill="#3a1018"/><circle cx="27.8" cy="18.7" r="1.4" fill="#501820"/><circle cx="19.3" cy="25.2" r="1.6" fill="#2a0a10"/><circle cx="11.8" cy="16.9" r="1.5" fill="#501820"/><circle cx="16.8" cy="15.5" r="1.4" fill="#3a1018"/><circle cx="22.6" cy="11.5" r="1.5" fill="#1a0808"/><circle cx="26.8" cy="22.7" r="1.2" fill="#2a0a10"/><circle cx="17.2" cy="29.3" r="2.0" fill="#1a0808"/><circle cx="26.3" cy="22.0" r="1.3" fill="#1a0808"/><circle cx="19.7" cy="27.8" r="1.5" fill="#2a0a10"/><circle cx="19.7" cy="12.7" r="2.2" fill="#1a0808"/><circle cx="25.7" cy="18.6" r="1.7" fill="#3a1018"/><circle cx="12.8" cy="27.6" r="1.8" fill="#3a1018"/><circle cx="23.4" cy="12.2" r="1.7" fill="#2a0a10"/><circle cx="16.6" cy="15.2" r="1.0" fill="#1a0808"/><circle cx="26.9" cy="26.6" r="2.1" fill="#2a0a10"/><circle cx="23.9" cy="28.2" r="1.1" fill="#501820"/><circle cx="25.4" cy="16.1" r="1.2" fill="#2a0a10"/><circle cx="14.6" cy="25.1" r="1.5" fill="#501820"/><circle cx="28.4" cy="22.1" r="2.4" fill="#1a0808"/><circle cx="15.3" cy="12.3" r="2.0" fill="#3a1018"/><circle cx="26.3" cy="20.2" r="2.0" fill="#3a1018"/></svg>
<rect x="325.20" y="870.50" width="43.40" height="39.60" fill="none" stroke="#000" stroke-width="2.4"/>
<svg x="414.4" y="870.5" width="44" height="39.6" viewBox="0 0 44 39.6"><rect width="44" height="39.6" fill="#f4f4f4"/><rect x="0" y="0" width="44" height="39.6" fill="#f2f2f2"/><path d="M0,0 H16 C8,3 3,8 0,14 Z" fill="#6a1010"/><path d="M44,16 V39.6 H24 C34,38 40,30 44,16 Z" fill="#701614"/><path d="M24,0 H44 V12 C40,5 32,2 24,0Z" fill="#8a2020"/><path d="M0,32 V39.6 H12 C6,38 2,36 0,32Z" fill="#8a2020"/><path d="M0,36 C10,34 16,38 24,36 C32,34 38,30 44,26 V39.6 H0Z" fill="#6a1410"/><circle cx="20.5" cy="18.5" r="14.6" fill="#7e1c14"/><circle cx="19.9" cy="18.4" r="1.0" fill="#e07060"/><circle cx="22.9" cy="23.1" r="0.7" fill="#e07060"/><circle cx="26.2" cy="15.4" r="0.6" fill="#501010"/><circle cx="31.5" cy="20.2" r="0.4" fill="#c05040"/><circle cx="19.6" cy="14.9" r="1.1" fill="#e07060"/><circle cx="18.3" cy="21.3" r="0.9" fill="#a03020"/><circle cx="10.5" cy="25.9" r="0.7" fill="#c05040"/><circle cx="21.5" cy="13.4" r="0.8" fill="#a03020"/><circle cx="20.1" cy="14.9" r="1.0" fill="#501010"/><circle cx="19.6" cy="20.1" r="1.0" fill="#c05040"/><circle cx="15.6" cy="15.9" r="1.1" fill="#501010"/><circle cx="24.5" cy="7.2" r="0.8" fill="#501010"/><circle cx="14.5" cy="15.3" r="1.0" fill="#e07060"/><circle cx="26.4" cy="9.1" r="0.5" fill="#e07060"/><circle cx="28.2" cy="15.7" r="0.9" fill="#c05040"/><circle cx="27.4" cy="23.9" r="0.5" fill="#a03020"/><circle cx="26.1" cy="16.8" r="0.9" fill="#501010"/><circle cx="18.1" cy="10.8" r="1.1" fill="#a03020"/><circle cx="25.9" cy="7.2" r="0.7" fill="#c05040"/><circle cx="30.0" cy="16.2" r="1.0" fill="#c05040"/><circle cx="20.2" cy="14.1" r="0.9" fill="#e07060"/><circle cx="18.4" cy="11.1" r="1.0" fill="#a03020"/><circle cx="17.7" cy="13.9" r="0.8" fill="#501010"/><circle cx="21.8" cy="18.3" r="0.7" fill="#c05040"/><circle cx="23.7" cy="19.4" r="0.9" fill="#c05040"/><circle cx="21.5" cy="16.5" r="0.8" fill="#401010"/><circle cx="21.9" cy="20.9" r="0.8" fill="#501010"/><circle cx="24.3" cy="9.0" r="0.8" fill="#401010"/><circle cx="17.0" cy="22.1" r="0.4" fill="#c05040"/><circle cx="27.2" cy="22.2" r="0.9" fill="#e07060"/><circle cx="22.8" cy="27.2" r="0.4" fill="#501010"/><circle cx="22.3" cy="16.9" r="1.0" fill="#501010"/><circle cx="22.8" cy="19.8" r="0.4" fill="#e07060"/><circle cx="22.8" cy="19.9" r="1.0" fill="#401010"/><circle cx="29.4" cy="12.1" r="0.6" fill="#501010"/><circle cx="12.9" cy="16.7" r="0.5" fill="#a03020"/><circle cx="18.0" cy="8.4" r="0.8" fill="#501010"/><circle cx="28.4" cy="21.6" r="0.8" fill="#a03020"/><circle cx="12.4" cy="17.0" r="1.1" fill="#501010"/><circle cx="20.2" cy="14.3" r="0.7" fill="#401010"/><circle cx="25.3" cy="24.2" r="1.1" fill="#501010"/><circle cx="33.3" cy="20.7" r="0.9" fill="#501010"/><circle cx="27.2" cy="24.2" r="0.9" fill="#e07060"/><circle cx="23.0" cy="14.3" r="0.7" fill="#e07060"/><circle cx="22.5" cy="6.4" r="1.0" fill="#c05040"/><circle cx="21.1" cy="8.3" r="0.7" fill="#e07060"/><circle cx="24.3" cy="20.3" r="0.5" fill="#c05040"/><circle cx="14.2" cy="10.2" r="1.1" fill="#a03020"/><circle cx="18.6" cy="18.6" r="0.4" fill="#c05040"/><circle cx="14.3" cy="20.8" r="0.7" fill="#401010"/><circle cx="28.9" cy="11.0" r="1.1" fill="#c05040"/><circle cx="19.6" cy="19.1" r="0.6" fill="#c05040"/><circle cx="27.0" cy="16.4" r="0.6" fill="#c05040"/><circle cx="24.8" cy="9.2" r="0.8" fill="#401010"/><circle cx="9.1" cy="15.9" r="1.0" fill="#501010"/><circle cx="19.3" cy="20.8" r="0.9" fill="#501010"/><circle cx="18.4" cy="10.7" r="0.5" fill="#e07060"/><circle cx="12.0" cy="13.5" r="1.0" fill="#c05040"/><circle cx="20.4" cy="16.8" r="0.4" fill="#501010"/><circle cx="13.7" cy="25.8" r="1.0" fill="#501010"/><circle cx="21.6" cy="20.5" r="0.6" fill="#a03020"/><circle cx="21.0" cy="21.0" r="0.9" fill="#c05040"/><circle cx="22.0" cy="6.9" r="1.1" fill="#e07060"/><circle cx="30.3" cy="15.3" r="0.9" fill="#a03020"/><circle cx="21.1" cy="18.5" r="1.1" fill="#c05040"/><circle cx="21.0" cy="17.4" r="1.1" fill="#c05040"/><circle cx="20.4" cy="18.7" r="0.8" fill="#401010"/><circle cx="21.0" cy="22.1" r="0.4" fill="#a03020"/><circle cx="12.0" cy="23.4" r="1.0" fill="#c05040"/><circle cx="29.1" cy="18.7" r="0.4" fill="#c05040"/><circle cx="20.8" cy="19.1" r="0.4" fill="#501010"/><circle cx="17.6" cy="18.9" r="0.6" fill="#e07060"/><circle cx="8.0" cy="21.7" r="0.8" fill="#a03020"/><circle cx="23.4" cy="13.7" r="0.6" fill="#a03020"/><circle cx="32.2" cy="14.7" r="0.7" fill="#a03020"/><circle cx="21.3" cy="20.7" r="0.5" fill="#a03020"/><circle cx="20.5" cy="18.6" r="0.5" fill="#501010"/><circle cx="26.2" cy="28.7" r="0.8" fill="#a03020"/><circle cx="20.5" cy="18.5" r="0.6" fill="#a03020"/><circle cx="13.8" cy="26.9" r="0.6" fill="#e07060"/><circle cx="20.1" cy="14.4" r="0.5" fill="#e07060"/><circle cx="20.7" cy="18.1" r="0.8" fill="#401010"/><circle cx="22.2" cy="21.9" r="0.5" fill="#e07060"/><circle cx="29.8" cy="25.8" r="0.8" fill="#401010"/><circle cx="16.6" cy="25.6" r="0.5" fill="#c05040"/><circle cx="18.0" cy="20.5" r="1.0" fill="#a03020"/><circle cx="8.9" cy="19.4" r="1.0" fill="#501010"/><circle cx="20.3" cy="20.5" r="0.4" fill="#c05040"/><circle cx="22.7" cy="12.0" r="0.4" fill="#401010"/><circle cx="23.1" cy="12.5" r="0.9" fill="#501010"/><circle cx="31.2" cy="14.4" r="0.9" fill="#e07060"/><circle cx="19.8" cy="17.7" r="1.0" fill="#501010"/><circle cx="20.1" cy="19.5" r="0.6" fill="#a03020"/><circle cx="19.0" cy="19.0" r="0.6" fill="#c05040"/><circle cx="18.3" cy="19.4" r="0.4" fill="#401010"/><circle cx="10.5" cy="16.5" r="0.6" fill="#401010"/><circle cx="16.9" cy="9.7" r="0.7" fill="#401010"/><circle cx="18.9" cy="16.1" r="0.8" fill="#c05040"/><circle cx="18.0" cy="20.2" r="1.0" fill="#401010"/><circle cx="8.7" cy="13.0" r="0.8" fill="#501010"/><circle cx="29.0" cy="19.8" r="0.4" fill="#401010"/><circle cx="25.2" cy="22.9" r="0.8" fill="#401010"/><circle cx="26.3" cy="28.6" r="0.5" fill="#501010"/><circle cx="21.3" cy="19.9" r="1.1" fill="#e07060"/><circle cx="10.9" cy="12.6" r="0.4" fill="#401010"/><circle cx="28.3" cy="14.4" r="0.8" fill="#e07060"/><circle cx="15.6" cy="11.2" r="0.6" fill="#501010"/><circle cx="8.4" cy="21.1" r="0.6" fill="#e07060"/><circle cx="16.3" cy="21.4" r="0.9" fill="#a03020"/><circle cx="14.8" cy="15.9" r="0.9" fill="#401010"/></svg>
<rect x="414.40" y="870.50" width="44.00" height="39.60" fill="none" stroke="#000" stroke-width="2.4"/>
<rect x="373.00" y="913.40" width="14.00" height="2.40" fill="#000"/>
<rect x="438.00" y="913.40" width="19.80" height="2.40" fill="#000"/>
<path d="M139.89,44.20V50.80M137.04,45.85L142.75,49.15M137.04,49.15L142.75,45.85M148.26,44.20V50.80M145.41,45.85L151.12,49.15M145.41,49.15L151.12,45.85M156.63,44.20V50.80M153.78,45.85L159.49,49.15M153.78,49.15L159.49,45.85M165.00,44.20V50.80M162.15,45.85L167.86,49.15M162.15,49.15L167.86,45.85" stroke="#111" stroke-width="1.5" fill="none"/>
<path d="M601.55,32.30V39.70M598.35,34.15L604.75,37.85M598.35,37.85L604.75,34.15M611.05,32.30V39.70M607.85,34.15L614.25,37.85M607.85,37.85L614.25,34.15M620.55,32.30V39.70M617.35,34.15L623.75,37.85M617.35,37.85L623.75,34.15M630.05,32.30V39.70M626.85,34.15L633.25,37.85M626.85,37.85L633.25,34.15" stroke="#111" stroke-width="1.7" fill="none"/>
</svg></body></html>
